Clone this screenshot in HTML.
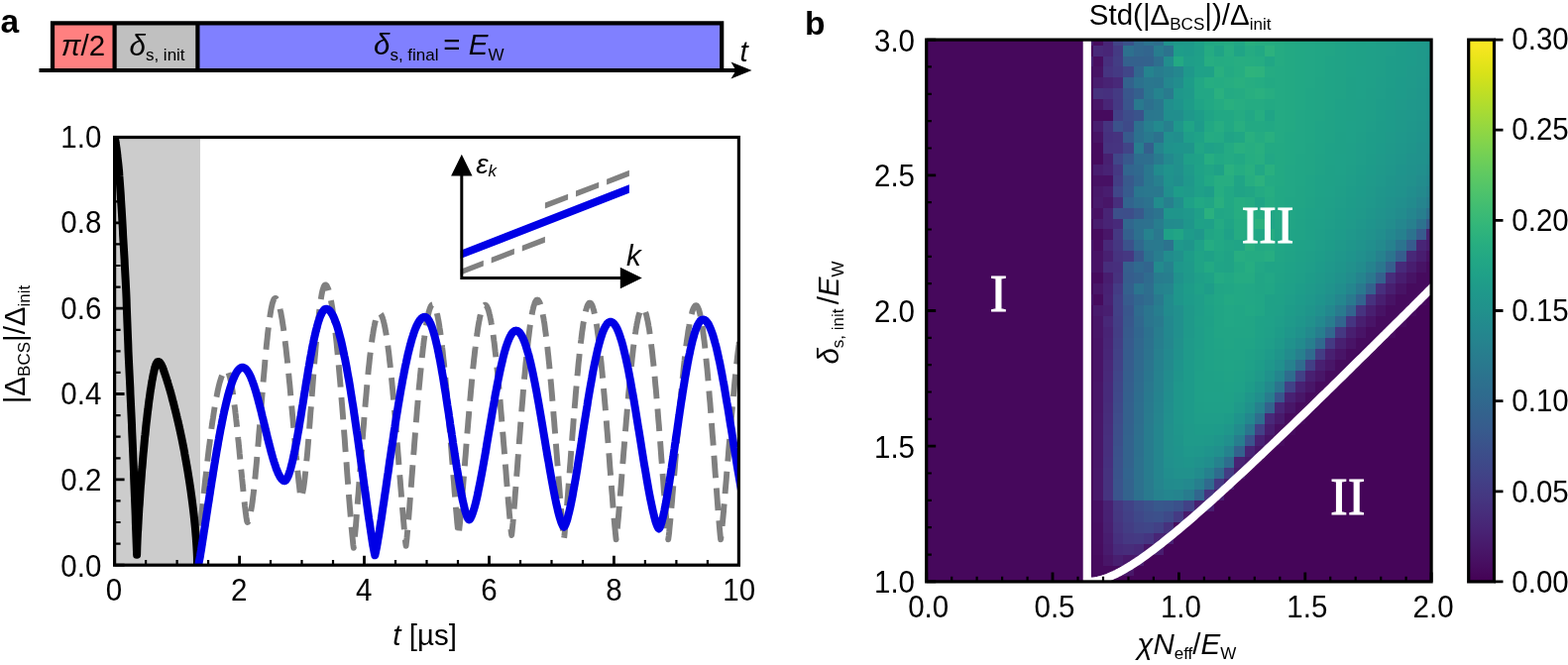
<!DOCTYPE html>
<html lang="en"><head><meta charset="utf-8"><title>Figure</title>
<style>html,body{margin:0;padding:0;background:#fff;}body{width:1582px;height:671px;overflow:hidden;}svg{display:block;}text{font-family:"Liberation Sans", "DejaVu Sans", sans-serif;fill:#000;}text.rom{font-family:'Liberation Serif', 'DejaVu Serif', serif;fill:#fff;}</style>
</head><body>
<svg width="1582" height="671" viewBox="0 0 1582 671" role="img" aria-label="Figure with panels a and b">
<rect x="0" y="0" width="1582" height="671" fill="#fff"/>
<g id="panel-a">
<text x="0.5" y="33.0" font-size="33.5" text-anchor="start" font-weight="bold">a</text>
<rect x="53" y="23.3" width="62.6" height="47.7" fill="#ff8080"/>
<rect x="115.6" y="23.3" width="83.8" height="47.7" fill="#c0c0c0"/>
<rect x="199.4" y="23.3" width="528.8" height="47.7" fill="#8080ff"/>
<path d="M39.5,71.0 H745 M53,71.0 V23.3 H728.2 V71.0 M115.6,23.3 V71.0 M199.4,23.3 V71.0" fill="none" stroke="#000" stroke-width="4.2" stroke-linejoin="miter"/>
<path d="M758.5,71.0 L737.5,62.4 L742.5,71.0 L737.5,79.6 Z" fill="#000"/>
<text x="84.0" y="55.5" font-size="29.5" text-anchor="middle"><tspan font-style="italic">π</tspan>/2</text>
<text x="130.5" y="55.5" font-size="29.5" text-anchor="start"><tspan font-style="italic">δ</tspan><tspan font-size="17" dy="5.3">s, init</tspan><tspan dy="-5.3" font-size="1">&#8203;</tspan></text>
<text x="377.0" y="55.3" font-size="29.5" text-anchor="start"><tspan font-style="italic">δ</tspan><tspan font-size="17" dy="5.3">s, final</tspan><tspan dy="-5.3" font-size="1">&#8203;</tspan><tspan dx="-3.6"> = </tspan><tspan dx="0.3" font-size="1">&#8203;</tspan><tspan font-style="italic">E</tspan><tspan font-size="17" dy="5.3">W</tspan><tspan dy="-5.3" font-size="1">&#8203;</tspan></text>
<text x="746.5" y="62.0" font-size="29.5" text-anchor="start" font-style="italic">t</text>
<rect x="115.6" y="138.5" width="86.4" height="431.7" fill="#cccccc"/>
<path d="M115.6,570.2 v-9.5 M115.6,570.2 h10.0 M241.6,570.2 v-9.5 M115.6,483.9 h10.0 M367.5,570.2 v-9.5 M115.6,397.5 h10.0 M493.5,570.2 v-9.5 M115.6,311.2 h10.0 M619.4,570.2 v-9.5 M115.6,224.8 h10.0 M745.4,570.2 v-9.5 M115.6,138.5 h10.0" stroke="#000" stroke-width="2.8" fill="none"/>
<path d="M147.1,570.2 v-5.2 M115.6,548.6 h6.0 M178.6,570.2 v-5.2 M115.6,527.0 h6.0 M210.1,570.2 v-5.2 M115.6,505.4 h6.0 M273.0,570.2 v-5.2 M115.6,462.3 h6.0 M304.5,570.2 v-5.2 M115.6,440.7 h6.0 M336.0,570.2 v-5.2 M115.6,419.1 h6.0 M399.0,570.2 v-5.2 M115.6,375.9 h6.0 M430.5,570.2 v-5.2 M115.6,354.4 h6.0 M462.0,570.2 v-5.2 M115.6,332.8 h6.0 M525.0,570.2 v-5.2 M115.6,289.6 h6.0 M556.5,570.2 v-5.2 M115.6,268.0 h6.0 M588.0,570.2 v-5.2 M115.6,246.4 h6.0 M650.9,570.2 v-5.2 M115.6,203.3 h6.0 M682.4,570.2 v-5.2 M115.6,181.7 h6.0 M713.9,570.2 v-5.2 M115.6,160.1 h6.0" stroke="#000" stroke-width="2.2" fill="none"/>
<clipPath id="clipa"><rect x="115.6" y="138.5" width="629.8" height="431.7"/></clipPath>
<g clip-path="url(#clipa)" fill="none" stroke-linejoin="round">
<path d="M197.5,570.2 L198.0,566.6 L198.5,562.5 L199.0,558.3 L199.5,553.8 L200.0,549.3 L200.6,544.7 L201.1,540.0 L201.6,535.3 L202.1,530.6 L202.6,525.8 L203.1,521.0 L203.6,516.2 L204.2,511.4 L204.7,506.7 L205.2,501.9 L205.7,497.2 L206.2,492.5 L206.7,487.8 L207.2,483.2 L207.8,478.6 L208.3,474.0 L208.8,469.5 L209.3,465.1 L209.8,460.7 L210.3,456.4 L210.8,452.2 L211.4,448.0 L211.9,443.9 L212.4,439.9 L212.9,436.0 L213.4,432.2 L213.9,428.5 L214.4,424.9 L215.0,421.4 L215.5,417.9 L216.0,414.6 L216.5,411.4 L217.0,408.3 L217.5,405.4 L218.0,402.5 L218.6,399.8 L219.1,397.2 L219.6,394.7 L220.1,392.4 L220.6,390.2 L221.1,388.1 L221.6,386.1 L222.2,384.3 L222.7,382.7 L223.2,381.1 L223.7,379.7 L224.2,378.5 L224.7,377.4 L225.2,376.4 L225.8,375.6 L226.3,375.0 L226.8,374.4 L227.3,374.1 L227.8,373.9 L228.3,373.8 L228.7,373.8 L229.0,374.0 L229.4,374.4 L229.7,374.9 L230.1,375.5 L230.5,376.2 L230.8,377.1 L231.2,378.1 L231.5,379.3 L231.9,380.5 L232.2,381.9 L232.6,383.5 L232.9,385.1 L233.3,386.9 L233.6,388.8 L234.0,390.8 L234.3,392.9 L234.7,395.1 L235.0,397.5 L235.4,399.9 L235.7,402.5 L236.1,405.1 L236.4,407.9 L236.8,410.7 L237.2,413.6 L237.5,416.6 L237.9,419.7 L238.2,422.8 L238.6,426.1 L238.9,429.4 L239.3,432.7 L239.6,436.1 L240.0,439.6 L240.3,443.1 L240.7,446.6 L241.0,450.2 L241.4,453.8 L241.7,457.5 L242.1,461.1 L242.4,464.8 L242.8,468.5 L243.1,472.1 L243.5,475.8 L243.9,479.4 L244.2,483.1 L244.6,486.7 L244.9,490.2 L245.3,493.7 L245.6,497.2 L246.0,500.6 L246.3,503.9 L246.7,507.1 L247.0,510.3 L247.4,513.3 L247.7,516.2 L248.1,518.9 L248.4,521.4 L248.8,523.7 L249.1,525.7 L249.5,527.0 L250.0,526.8 L250.4,526.2 L250.9,525.2 L251.4,523.9 L251.8,522.3 L252.3,520.4 L252.8,518.1 L253.2,515.6 L253.7,512.8 L254.2,509.7 L254.7,506.3 L255.1,502.7 L255.6,498.9 L256.1,494.9 L256.5,490.6 L257.0,486.1 L257.5,481.4 L257.9,476.6 L258.4,471.6 L258.9,466.4 L259.3,461.2 L259.8,455.8 L260.3,450.2 L260.8,444.6 L261.2,439.0 L261.7,433.2 L262.2,427.4 L262.6,421.6 L263.1,415.8 L263.6,410.0 L264.0,404.2 L264.5,398.4 L265.0,392.7 L265.4,387.0 L265.9,381.4 L266.4,375.9 L266.9,370.5 L267.3,365.2 L267.8,360.0 L268.3,355.0 L268.7,350.1 L269.2,345.4 L269.7,340.9 L270.1,336.6 L270.6,332.5 L271.1,328.6 L271.5,324.9 L272.0,321.5 L272.5,318.3 L273.0,315.3 L273.4,312.6 L273.9,310.2 L274.4,308.0 L274.8,306.2 L275.3,304.6 L275.8,303.3 L276.2,302.2 L276.7,301.5 L277.2,301.1 L277.6,300.9 L278.1,301.0 L278.5,301.2 L278.9,301.7 L279.4,302.3 L279.8,303.0 L280.2,304.0 L280.7,305.1 L281.1,306.4 L281.5,307.8 L282.0,309.4 L282.4,311.1 L282.8,313.1 L283.3,315.1 L283.7,317.4 L284.1,319.7 L284.6,322.3 L285.0,325.0 L285.4,327.8 L285.9,330.7 L286.3,333.8 L286.7,337.1 L287.2,340.4 L287.6,343.9 L288.0,347.5 L288.5,351.2 L288.9,355.0 L289.3,358.9 L289.8,363.0 L290.2,367.1 L290.6,371.3 L291.1,375.6 L291.5,380.0 L291.9,384.4 L292.4,388.9 L292.8,393.5 L293.2,398.2 L293.6,402.8 L294.1,407.6 L294.5,412.3 L294.9,417.1 L295.4,421.9 L295.8,426.7 L296.2,431.6 L296.7,436.4 L297.1,441.2 L297.5,446.0 L298.0,450.7 L298.4,455.4 L298.8,460.1 L299.3,464.7 L299.7,469.2 L300.1,473.7 L300.6,478.0 L301.0,482.2 L301.4,486.3 L301.9,490.2 L302.3,493.8 L302.7,497.2 L303.2,500.2 L303.6,502.4 L304.0,502.0 L304.4,501.0 L304.8,499.6 L305.2,497.8 L305.6,495.7 L306.1,493.2 L306.5,490.5 L306.9,487.5 L307.3,484.3 L307.7,480.8 L308.1,477.1 L308.5,473.2 L308.9,469.1 L309.3,464.9 L309.8,460.4 L310.2,455.8 L310.6,451.1 L311.0,446.3 L311.4,441.3 L311.8,436.3 L312.2,431.1 L312.6,425.9 L313.0,420.6 L313.4,415.3 L313.9,410.0 L314.3,404.6 L314.7,399.2 L315.1,393.8 L315.5,388.5 L315.9,383.2 L316.3,377.9 L316.7,372.6 L317.1,367.5 L317.5,362.4 L318.0,357.4 L318.4,352.5 L318.8,347.7 L319.2,343.0 L319.6,338.5 L320.0,334.1 L320.4,329.8 L320.8,325.7 L321.2,321.8 L321.7,318.1 L322.1,314.5 L322.5,311.1 L322.9,308.0 L323.3,305.0 L323.7,302.3 L324.1,299.7 L324.5,297.4 L324.9,295.4 L325.3,293.5 L325.8,291.9 L326.2,290.6 L326.6,289.4 L327.0,288.6 L327.4,287.9 L327.8,287.6 L328.2,287.4 L328.7,287.5 L329.2,287.9 L329.7,288.4 L330.1,289.2 L330.6,290.2 L331.1,291.4 L331.6,292.8 L332.0,294.4 L332.5,296.2 L333.0,298.3 L333.5,300.5 L333.9,303.0 L334.4,305.6 L334.9,308.5 L335.4,311.5 L335.8,314.7 L336.3,318.2 L336.8,321.8 L337.3,325.6 L337.8,329.5 L338.2,333.7 L338.7,338.0 L339.2,342.4 L339.7,347.1 L340.1,351.8 L340.6,356.7 L341.1,361.8 L341.6,367.0 L342.0,372.3 L342.5,377.8 L343.0,383.3 L343.5,389.0 L343.9,394.8 L344.4,400.6 L344.9,406.6 L345.4,412.6 L345.9,418.7 L346.3,424.9 L346.8,431.1 L347.3,437.4 L347.8,443.7 L348.2,450.0 L348.7,456.4 L349.2,462.7 L349.7,469.1 L350.1,475.4 L350.6,481.8 L351.1,488.1 L351.6,494.3 L352.0,500.5 L352.5,506.6 L353.0,512.6 L353.5,518.5 L354.0,524.3 L354.4,529.9 L354.9,535.3 L355.4,540.4 L355.9,545.2 L356.3,549.6 L356.8,552.9 L357.2,549.5 L357.7,545.2 L358.1,540.6 L358.5,535.7 L359.0,530.6 L359.4,525.4 L359.8,520.0 L360.3,514.6 L360.7,509.1 L361.1,503.5 L361.6,497.9 L362.0,492.2 L362.4,486.6 L362.9,480.9 L363.3,475.2 L363.7,469.5 L364.2,463.8 L364.6,458.1 L365.0,452.5 L365.5,446.9 L365.9,441.3 L366.3,435.8 L366.8,430.4 L367.2,425.0 L367.6,419.7 L368.1,414.4 L368.5,409.3 L368.9,404.2 L369.4,399.3 L369.8,394.4 L370.2,389.6 L370.7,385.0 L371.1,380.4 L371.5,376.0 L371.9,371.7 L372.4,367.6 L372.8,363.6 L373.2,359.7 L373.7,355.9 L374.1,352.4 L374.5,348.9 L375.0,345.6 L375.4,342.5 L375.8,339.5 L376.3,336.7 L376.7,334.1 L377.1,331.6 L377.6,329.3 L378.0,327.2 L378.4,325.3 L378.9,323.5 L379.3,321.9 L379.7,320.5 L380.2,319.3 L380.6,318.3 L381.0,317.4 L381.5,316.8 L381.9,316.3 L382.3,316.0 L382.8,315.9 L383.2,316.0 L383.7,316.3 L384.1,316.8 L384.5,317.4 L385.0,318.3 L385.4,319.3 L385.9,320.5 L386.3,321.9 L386.8,323.4 L387.2,325.2 L387.7,327.1 L388.1,329.2 L388.6,331.5 L389.0,333.9 L389.5,336.5 L389.9,339.3 L390.4,342.3 L390.8,345.4 L391.3,348.6 L391.7,352.0 L392.2,355.6 L392.6,359.3 L393.0,363.1 L393.5,367.1 L393.9,371.2 L394.4,375.5 L394.8,379.9 L395.3,384.3 L395.7,389.0 L396.2,393.7 L396.6,398.5 L397.1,403.4 L397.5,408.4 L398.0,413.5 L398.4,418.7 L398.9,424.0 L399.3,429.3 L399.8,434.7 L400.2,440.2 L400.6,445.7 L401.1,451.2 L401.5,456.8 L402.0,462.4 L402.4,468.1 L402.9,473.7 L403.3,479.4 L403.8,485.0 L404.2,490.6 L404.7,496.2 L405.1,501.8 L405.6,507.3 L406.0,512.8 L406.5,518.2 L406.9,523.5 L407.4,528.6 L407.8,533.7 L408.2,538.5 L408.7,543.1 L409.1,547.3 L409.6,550.8 L410.0,547.2 L410.5,542.8 L410.9,538.1 L411.4,533.0 L411.8,527.8 L412.3,522.5 L412.7,517.0 L413.2,511.4 L413.6,505.7 L414.1,500.0 L414.5,494.2 L415.0,488.4 L415.4,482.6 L415.9,476.7 L416.3,470.9 L416.8,465.0 L417.2,459.2 L417.7,453.4 L418.1,447.6 L418.6,441.8 L419.0,436.1 L419.5,430.5 L419.9,424.9 L420.4,419.3 L420.8,413.9 L421.3,408.5 L421.7,403.2 L422.2,398.0 L422.6,392.9 L423.1,387.9 L423.6,383.0 L424.0,378.2 L424.5,373.6 L424.9,369.0 L425.4,364.6 L425.8,360.4 L426.3,356.2 L426.7,352.2 L427.2,348.4 L427.6,344.7 L428.1,341.2 L428.5,337.8 L429.0,334.6 L429.4,331.5 L429.9,328.7 L430.3,326.0 L430.8,323.4 L431.2,321.1 L431.7,318.9 L432.1,316.9 L432.6,315.1 L433.0,313.5 L433.5,312.0 L433.9,310.8 L434.4,309.7 L434.8,308.8 L435.3,308.2 L435.7,307.7 L436.2,307.4 L436.6,307.3 L437.0,307.4 L437.5,307.7 L437.9,308.1 L438.3,308.8 L438.8,309.6 L439.2,310.6 L439.6,311.8 L440.1,313.2 L440.5,314.7 L440.9,316.5 L441.4,318.4 L441.8,320.5 L442.2,322.7 L442.7,325.1 L443.1,327.7 L443.5,330.5 L444.0,333.4 L444.4,336.4 L444.8,339.7 L445.3,343.1 L445.7,346.6 L446.1,350.3 L446.6,354.1 L447.0,358.0 L447.4,362.1 L447.9,366.3 L448.3,370.6 L448.7,375.1 L449.2,379.6 L449.6,384.3 L450.0,389.1 L450.5,394.0 L450.9,398.9 L451.3,404.0 L451.8,409.1 L452.2,414.4 L452.6,419.6 L453.1,425.0 L453.5,430.4 L453.9,435.9 L454.4,441.3 L454.8,446.9 L455.3,452.4 L455.7,458.0 L456.1,463.6 L456.6,469.2 L457.0,474.8 L457.4,480.4 L457.9,485.9 L458.3,491.5 L458.7,496.9 L459.2,502.4 L459.6,507.7 L460.0,512.9 L460.5,518.1 L460.9,523.0 L461.3,527.8 L461.8,532.4 L462.2,536.6 L462.6,540.0 L463.1,536.6 L463.5,532.4 L464.0,527.9 L464.4,523.1 L464.9,518.1 L465.3,513.0 L465.7,507.7 L466.2,502.4 L466.6,497.0 L467.1,491.6 L467.5,486.0 L468.0,480.5 L468.4,474.9 L468.9,469.4 L469.3,463.8 L469.8,458.2 L470.2,452.6 L470.6,447.1 L471.1,441.5 L471.5,436.0 L472.0,430.6 L472.4,425.2 L472.9,419.9 L473.3,414.6 L473.8,409.4 L474.2,404.3 L474.7,399.2 L475.1,394.2 L475.6,389.4 L476.0,384.6 L476.4,379.9 L476.9,375.4 L477.3,370.9 L477.8,366.6 L478.2,362.4 L478.7,358.3 L479.1,354.4 L479.6,350.6 L480.0,346.9 L480.5,343.4 L480.9,340.0 L481.4,336.8 L481.8,333.8 L482.2,330.9 L482.7,328.1 L483.1,325.5 L483.6,323.1 L484.0,320.9 L484.5,318.8 L484.9,316.9 L485.4,315.2 L485.8,313.6 L486.3,312.2 L486.7,311.0 L487.2,310.0 L487.6,309.2 L488.0,308.6 L488.5,308.1 L488.9,307.8 L489.4,307.7 L489.8,307.8 L490.3,308.1 L490.7,308.6 L491.2,309.2 L491.6,310.0 L492.1,311.0 L492.5,312.2 L493.0,313.6 L493.4,315.2 L493.8,316.9 L494.3,318.8 L494.7,320.9 L495.2,323.1 L495.6,325.5 L496.1,328.1 L496.5,330.9 L497.0,333.8 L497.4,336.8 L497.9,340.0 L498.3,343.4 L498.8,346.9 L499.2,350.6 L499.6,354.4 L500.1,358.3 L500.5,362.4 L501.0,366.6 L501.4,370.9 L501.9,375.4 L502.3,379.9 L502.8,384.6 L503.2,389.4 L503.7,394.2 L504.1,399.2 L504.6,404.3 L505.0,409.4 L505.4,414.6 L505.9,419.9 L506.3,425.2 L506.8,430.6 L507.2,436.0 L507.7,441.5 L508.1,447.1 L508.6,452.6 L509.0,458.2 L509.5,463.8 L509.9,469.4 L510.4,474.9 L510.8,480.5 L511.2,486.0 L511.7,491.6 L512.1,497.0 L512.6,502.4 L513.0,507.7 L513.5,513.0 L513.9,518.1 L514.4,523.1 L514.8,527.9 L515.3,532.4 L515.7,536.6 L516.2,540.0 L516.6,536.5 L517.0,532.2 L517.5,527.6 L517.9,522.7 L518.3,517.6 L518.7,512.4 L519.2,507.0 L519.6,501.6 L520.0,496.1 L520.5,490.5 L520.9,484.8 L521.3,479.2 L521.8,473.5 L522.2,467.8 L522.6,462.1 L523.1,456.4 L523.5,450.7 L523.9,445.0 L524.4,439.3 L524.8,433.7 L525.2,428.2 L525.7,422.6 L526.1,417.2 L526.5,411.8 L527.0,406.5 L527.4,401.2 L527.8,396.1 L528.3,391.0 L528.7,386.0 L529.1,381.1 L529.6,376.4 L530.0,371.7 L530.4,367.2 L530.9,362.8 L531.3,358.5 L531.7,354.3 L532.2,350.3 L532.6,346.4 L533.0,342.6 L533.5,339.0 L533.9,335.6 L534.3,332.3 L534.7,329.2 L535.2,326.2 L535.6,323.4 L536.0,320.7 L536.5,318.3 L536.9,316.0 L537.3,313.9 L537.8,311.9 L538.2,310.1 L538.6,308.6 L539.1,307.2 L539.5,305.9 L539.9,304.9 L540.4,304.1 L540.8,303.4 L541.2,302.9 L541.7,302.6 L542.1,302.5 L542.5,302.6 L543.0,302.9 L543.4,303.4 L543.9,304.1 L544.3,304.9 L544.8,306.0 L545.2,307.2 L545.7,308.7 L546.1,310.3 L546.6,312.1 L547.0,314.1 L547.5,316.2 L547.9,318.6 L548.4,321.1 L548.8,323.8 L549.3,326.6 L549.7,329.6 L550.1,332.8 L550.6,336.2 L551.0,339.7 L551.5,343.4 L551.9,347.2 L552.4,351.1 L552.8,355.2 L553.3,359.5 L553.7,363.8 L554.2,368.4 L554.6,373.0 L555.1,377.7 L555.5,382.6 L556.0,387.5 L556.4,392.6 L556.9,397.8 L557.3,403.0 L557.8,408.4 L558.2,413.8 L558.6,419.3 L559.1,424.8 L559.5,430.4 L560.0,436.1 L560.4,441.8 L560.9,447.6 L561.3,453.4 L561.8,459.2 L562.2,465.0 L562.7,470.8 L563.1,476.6 L563.6,482.4 L564.0,488.2 L564.5,493.9 L564.9,499.6 L565.4,505.2 L565.8,510.7 L566.2,516.2 L566.7,521.5 L567.1,526.7 L567.6,531.7 L568.0,536.4 L568.5,540.8 L568.9,544.3 L569.4,540.8 L569.8,536.5 L570.2,531.8 L570.7,526.9 L571.1,521.8 L571.5,516.5 L572.0,511.2 L572.4,505.7 L572.9,500.1 L573.3,494.5 L573.7,488.9 L574.2,483.2 L574.6,477.4 L575.0,471.7 L575.5,466.0 L575.9,460.2 L576.3,454.5 L576.8,448.8 L577.2,443.1 L577.6,437.5 L578.1,431.9 L578.5,426.3 L578.9,420.8 L579.4,415.4 L579.8,410.1 L580.3,404.8 L580.7,399.6 L581.1,394.5 L581.6,389.5 L582.0,384.6 L582.4,379.8 L582.9,375.1 L583.3,370.5 L583.7,366.1 L584.2,361.8 L584.6,357.6 L585.0,353.6 L585.5,349.6 L585.9,345.9 L586.4,342.3 L586.8,338.8 L587.2,335.5 L587.7,332.3 L588.1,329.3 L588.5,326.5 L589.0,323.9 L589.4,321.4 L589.8,319.1 L590.3,316.9 L590.7,315.0 L591.1,313.2 L591.6,311.6 L592.0,310.2 L592.5,309.0 L592.9,307.9 L593.3,307.1 L593.8,306.4 L594.2,305.9 L594.6,305.7 L595.1,305.6 L595.5,305.7 L596.0,305.9 L596.4,306.4 L596.8,307.1 L597.3,307.9 L597.7,309.0 L598.2,310.2 L598.6,311.6 L599.1,313.2 L599.5,315.0 L599.9,316.9 L600.4,319.1 L600.8,321.4 L601.3,323.9 L601.7,326.5 L602.2,329.3 L602.6,332.3 L603.0,335.5 L603.5,338.8 L603.9,342.3 L604.4,345.9 L604.8,349.6 L605.3,353.6 L605.7,357.6 L606.1,361.8 L606.6,366.1 L607.0,370.5 L607.5,375.1 L607.9,379.8 L608.4,384.6 L608.8,389.5 L609.2,394.5 L609.7,399.6 L610.1,404.8 L610.6,410.1 L611.0,415.4 L611.5,420.8 L611.9,426.3 L612.3,431.9 L612.8,437.5 L613.2,443.1 L613.7,448.8 L614.1,454.5 L614.6,460.2 L615.0,466.0 L615.4,471.7 L615.9,477.4 L616.3,483.2 L616.8,488.9 L617.2,494.5 L617.7,500.1 L618.1,505.7 L618.5,511.2 L619.0,516.5 L619.4,521.8 L619.9,526.9 L620.3,531.8 L620.8,536.5 L621.2,540.8 L621.6,544.3 L622.1,540.9 L622.5,536.7 L623.0,532.1 L623.4,527.3 L623.9,522.3 L624.3,517.2 L624.8,511.9 L625.2,506.6 L625.7,501.2 L626.1,495.7 L626.6,490.2 L627.0,484.6 L627.4,479.0 L627.9,473.4 L628.3,467.8 L628.8,462.2 L629.2,456.6 L629.7,451.0 L630.1,445.5 L630.6,440.0 L631.0,434.5 L631.5,429.1 L631.9,423.7 L632.4,418.4 L632.8,413.2 L633.2,408.1 L633.7,403.0 L634.1,398.0 L634.6,393.1 L635.0,388.4 L635.5,383.7 L635.9,379.1 L636.4,374.6 L636.8,370.3 L637.3,366.1 L637.7,362.0 L638.2,358.0 L638.6,354.2 L639.0,350.5 L639.5,347.0 L639.9,343.6 L640.4,340.4 L640.8,337.3 L641.3,334.4 L641.7,331.6 L642.2,329.0 L642.6,326.6 L643.1,324.4 L643.5,322.3 L643.9,320.4 L644.4,318.6 L644.8,317.1 L645.3,315.7 L645.7,314.5 L646.2,313.5 L646.6,312.7 L647.1,312.0 L647.5,311.6 L648.0,311.3 L648.4,311.2 L648.8,311.3 L649.3,311.6 L649.7,312.0 L650.1,312.7 L650.6,313.5 L651.0,314.5 L651.4,315.7 L651.9,317.1 L652.3,318.6 L652.7,320.4 L653.1,322.3 L653.6,324.4 L654.0,326.6 L654.4,329.0 L654.9,331.6 L655.3,334.4 L655.7,337.3 L656.2,340.4 L656.6,343.6 L657.0,347.0 L657.4,350.5 L657.9,354.2 L658.3,358.0 L658.7,362.0 L659.2,366.1 L659.6,370.3 L660.0,374.6 L660.5,379.1 L660.9,383.7 L661.3,388.4 L661.8,393.1 L662.2,398.0 L662.6,403.0 L663.0,408.1 L663.5,413.2 L663.9,418.4 L664.3,423.7 L664.8,429.1 L665.2,434.5 L665.6,440.0 L666.1,445.5 L666.5,451.0 L666.9,456.6 L667.3,462.2 L667.8,467.8 L668.2,473.4 L668.6,479.0 L669.1,484.6 L669.5,490.2 L669.9,495.7 L670.4,501.2 L670.8,506.6 L671.2,511.9 L671.7,517.2 L672.1,522.3 L672.5,527.3 L672.9,532.1 L673.4,536.7 L673.8,540.9 L674.2,544.3 L674.7,540.8 L675.2,536.6 L675.6,532.0 L676.1,527.1 L676.6,522.0 L677.0,516.8 L677.5,511.5 L678.0,506.1 L678.4,500.6 L678.9,495.1 L679.4,489.5 L679.8,483.8 L680.3,478.2 L680.8,472.5 L681.2,466.8 L681.7,461.1 L682.2,455.5 L682.6,449.8 L683.1,444.2 L683.6,438.6 L684.0,433.1 L684.5,427.6 L685.0,422.2 L685.4,416.8 L685.9,411.5 L686.4,406.3 L686.8,401.2 L687.3,396.1 L687.8,391.2 L688.2,386.3 L688.7,381.6 L689.2,377.0 L689.6,372.4 L690.1,368.0 L690.6,363.8 L691.0,359.6 L691.5,355.6 L692.0,351.8 L692.4,348.0 L692.9,344.4 L693.4,341.0 L693.9,337.7 L694.3,334.6 L694.8,331.7 L695.3,328.9 L695.7,326.3 L696.2,323.8 L696.7,321.5 L697.1,319.4 L697.6,317.5 L698.1,315.7 L698.5,314.1 L699.0,312.7 L699.5,311.5 L699.9,310.5 L700.4,309.7 L700.9,309.0 L701.3,308.5 L701.8,308.3 L702.3,308.2 L702.7,308.3 L703.1,308.5 L703.5,309.0 L703.9,309.7 L704.3,310.5 L704.7,311.5 L705.2,312.7 L705.6,314.1 L706.0,315.7 L706.4,317.5 L706.8,319.4 L707.2,321.5 L707.6,323.8 L708.1,326.3 L708.5,328.9 L708.9,331.7 L709.3,334.6 L709.7,337.7 L710.1,341.0 L710.6,344.4 L711.0,348.0 L711.4,351.8 L711.8,355.6 L712.2,359.6 L712.6,363.8 L713.0,368.0 L713.5,372.4 L713.9,377.0 L714.3,381.6 L714.7,386.3 L715.1,391.2 L715.5,396.1 L715.9,401.2 L716.4,406.3 L716.8,411.5 L717.2,416.8 L717.6,422.2 L718.0,427.6 L718.4,433.1 L718.8,438.6 L719.3,444.2 L719.7,449.8 L720.1,455.5 L720.5,461.1 L720.9,466.8 L721.3,472.5 L721.7,478.2 L722.2,483.8 L722.6,489.5 L723.0,495.1 L723.4,500.6 L723.8,506.1 L724.2,511.5 L724.6,516.8 L725.1,522.0 L725.5,527.1 L725.9,532.0 L726.3,536.6 L726.7,540.8 L727.1,544.3 L727.6,540.8 L728.1,536.5 L728.5,531.9 L729.0,527.0 L729.5,521.9 L730.0,516.7 L730.4,511.3 L730.9,505.9 L731.4,500.3 L731.8,494.8 L732.3,489.1 L732.8,483.5 L733.2,477.8 L733.7,472.1 L734.2,466.4 L734.7,460.7 L735.1,455.0 L735.6,449.3 L736.1,443.7 L736.5,438.1 L737.0,432.6 L737.5,427.1 L737.9,421.7 L738.4,416.3 L738.9,411.0 L739.3,405.8 L739.8,400.7 L740.3,395.7 L740.8,390.8 L741.2,386.0 L741.7,381.3 L742.2,376.7 L742.6,372.2 L743.1,367.8 L743.6,363.6 L744.0,359.6 L744.5,355.6 L745.0,351.8 L745.5,348.2 L745.9,344.7 L746.4,341.4 L746.9,338.2 L747.3,335.2 L747.8,332.3 L748.3,329.6 L748.7,327.1 L749.2,324.8 L749.7,322.7 L750.2,320.7" stroke="#808080" stroke-width="5.9" stroke-dasharray="22.5 10.3" stroke-dashoffset="-7"/>
<path d="M115.6,138.5 L115.9,139.6 L116.2,141.0 L116.5,142.5 L116.7,144.2 L117.0,146.0 L117.3,148.0 L117.6,150.1 L117.9,152.4 L118.2,154.7 L118.4,157.2 L118.7,159.7 L119.0,162.3 L119.3,165.0 L119.6,167.7 L119.9,170.8 L120.2,174.2 L120.4,177.8 L120.7,181.6 L121.0,185.6 L121.3,189.7 L121.6,193.9 L121.9,198.1 L122.1,202.4 L122.4,206.9 L122.7,211.6 L123.0,216.6 L123.3,221.6 L123.6,226.7 L123.9,231.9 L124.1,237.0 L124.4,242.1 L124.7,247.1 L125.0,252.0 L125.3,257.0 L125.6,262.0 L125.8,267.1 L126.1,272.3 L126.4,277.7 L126.7,283.3 L127.0,289.1 L127.3,295.3 L127.6,302.1 L127.8,309.4 L128.1,317.1 L128.4,325.0 L128.7,332.8 L129.0,340.4 L129.3,347.5 L129.5,354.2 L129.8,360.7 L130.1,366.9 L130.4,373.1 L130.7,379.1 L131.0,385.1 L131.3,391.2 L131.5,397.3 L131.8,403.5 L132.1,409.9 L132.4,416.2 L132.7,422.5 L133.0,428.9 L133.2,435.3 L133.5,441.8 L133.8,448.4 L134.1,455.2 L134.4,462.1 L134.7,469.1 L135.0,476.1 L135.2,483.3 L135.5,490.5 L135.8,497.9 L136.1,505.3 L136.4,512.8 L136.7,520.4 L136.9,528.1 L137.2,535.9 L137.5,543.8 L137.8,551.8 L138.1,559.8 L138.1,559.8 L138.3,552.7 L138.5,547.4 L138.7,542.6 L138.9,538.2 L139.2,534.1 L139.4,530.1 L139.6,526.3 L139.8,522.6 L140.0,519.0 L140.2,515.5 L140.4,512.1 L140.7,508.8 L140.9,505.6 L141.1,502.4 L141.3,499.3 L141.5,496.3 L141.7,493.3 L141.9,490.4 L142.2,487.5 L142.4,484.7 L142.6,481.9 L142.8,479.2 L143.0,476.5 L143.2,473.8 L143.5,471.2 L143.7,468.6 L143.9,466.1 L144.1,463.6 L144.3,461.2 L144.5,458.7 L144.7,456.4 L145.0,454.0 L145.2,451.7 L145.4,449.4 L145.6,447.2 L145.8,444.9 L146.0,442.7 L146.2,440.6 L146.5,438.5 L146.7,436.4 L146.9,434.3 L147.1,432.3 L147.3,430.2 L147.5,428.3 L147.7,426.3 L148.0,424.4 L148.2,422.5 L148.4,420.6 L148.6,418.8 L148.8,417.0 L149.0,415.2 L149.3,413.4 L149.5,411.7 L149.7,410.0 L149.9,408.3 L150.1,406.6 L150.3,405.0 L150.5,403.4 L150.8,401.8 L151.0,400.3 L151.2,398.8 L151.4,397.3 L151.6,395.8 L151.8,394.4 L152.0,393.0 L152.3,391.6 L152.5,390.2 L152.7,388.9 L152.9,387.6 L153.1,386.3 L153.3,385.1 L153.5,383.9 L153.8,382.7 L154.0,381.5 L154.2,380.4 L154.4,379.2 L154.6,378.2 L154.8,377.1 L155.1,376.1 L155.3,375.1 L155.5,374.2 L155.7,373.2 L155.9,372.3 L156.1,371.5 L156.3,370.7 L156.6,370.0 L156.8,369.3 L157.0,368.7 L157.2,368.1 L157.4,367.5 L157.6,367.1 L157.8,366.6 L158.1,366.3 L158.3,365.9 L158.5,365.6 L158.7,365.4 L158.9,365.2 L159.1,365.1 L159.3,365.0 L159.6,365.0 L159.8,365.0 L160.0,365.1 L160.2,365.1 L160.4,365.2 L160.6,365.3 L160.8,365.4 L160.9,365.6 L161.1,365.7 L161.3,365.9 L161.5,366.1 L161.7,366.4 L161.9,366.6 L162.1,366.9 L162.3,367.2 L162.5,367.5 L162.7,367.9 L162.9,368.3 L163.1,368.7 L163.3,369.1 L163.5,369.5 L163.7,370.0 L163.9,370.4 L164.1,371.0 L164.3,371.5 L164.5,372.0 L164.7,372.6 L164.9,373.1 L165.1,373.7 L165.3,374.2 L165.5,374.8 L165.7,375.4 L165.9,375.9 L166.1,376.5 L166.3,377.1 L166.5,377.7 L166.7,378.3 L166.9,378.9 L167.1,379.5 L167.3,380.1 L167.5,380.7 L167.7,381.3 L167.9,381.9 L168.1,382.5 L168.3,383.2 L168.5,383.8 L168.7,384.4 L168.9,385.1 L169.1,385.7 L169.3,386.4 L169.5,387.0 L169.7,387.7 L169.9,388.3 L170.1,389.0 L170.3,389.7 L170.5,390.3 L170.7,391.0 L170.9,391.7 L171.1,392.4 L171.3,393.0 L171.5,393.7 L171.7,394.4 L171.9,395.1 L172.1,395.8 L172.3,396.5 L172.5,397.2 L172.7,398.0 L172.9,398.7 L173.1,399.4 L173.3,400.1 L173.5,400.8 L173.6,401.6 L173.8,402.3 L174.0,403.1 L174.2,403.8 L174.4,404.5 L174.6,405.3 L174.8,406.1 L175.0,406.8 L175.2,407.6 L175.4,408.3 L175.6,409.1 L175.8,409.9 L176.0,410.7 L176.2,411.5 L176.4,412.3 L176.6,413.0 L176.8,413.8 L177.0,414.6 L177.2,415.5 L177.4,416.3 L177.6,417.1 L177.8,417.9 L178.0,418.7 L178.2,419.5 L178.4,420.4 L178.6,421.2 L178.8,422.1 L179.0,422.9 L179.2,423.8 L179.4,424.6 L179.6,425.5 L179.8,426.3 L180.0,427.2 L180.2,428.1 L180.4,429.0 L180.6,429.8 L180.8,430.7 L181.0,431.6 L181.2,432.5 L181.4,433.4 L181.6,434.3 L181.8,435.2 L182.0,436.2 L182.2,437.1 L182.4,438.0 L182.6,439.0 L182.8,439.9 L183.0,440.8 L183.2,441.8 L183.4,442.8 L183.6,443.7 L183.8,444.7 L184.0,445.7 L184.2,446.7 L184.4,447.6 L184.6,448.6 L184.8,449.6 L185.0,450.6 L185.2,451.7 L185.4,452.7 L185.6,453.7 L185.8,454.7 L186.0,455.8 L186.2,456.8 L186.3,457.9 L186.5,459.0 L186.7,460.0 L186.9,461.1 L187.1,462.2 L187.3,463.3 L187.5,464.4 L187.7,465.5 L187.9,466.6 L188.1,467.8 L188.3,468.9 L188.5,470.0 L188.7,471.2 L188.9,472.4 L189.1,473.5 L189.3,474.7 L189.5,475.9 L189.7,477.1 L189.9,478.4 L190.1,479.6 L190.3,480.8 L190.5,482.1 L190.7,483.3 L190.9,484.6 L191.1,485.9 L191.3,487.2 L191.5,488.5 L191.7,489.9 L191.9,491.2 L192.1,492.6 L192.3,493.9 L192.5,495.3 L192.7,496.8 L192.9,498.2 L193.1,499.6 L193.3,501.1 L193.5,502.6 L193.7,504.1 L193.9,505.6 L194.1,507.2 L194.3,508.8 L194.5,510.4 L194.7,512.0 L194.9,513.7 L195.1,515.4 L195.3,517.1 L195.5,518.8 L195.7,520.6 L195.9,522.5 L196.1,524.4 L196.3,526.3 L196.5,528.3 L196.7,530.3 L196.9,532.5 L197.1,534.6 L197.3,536.9 L197.5,539.3 L197.7,541.8 L197.9,544.4 L198.1,547.2 L198.3,550.2 L198.5,553.5 L198.7,557.3 L198.9,561.8 L199.0,570.2" stroke="#000" stroke-width="8" stroke-linecap="butt"/>
<path d="M200.2,570.2 L200.7,567.6 L201.3,564.5 L201.9,561.4 L202.4,558.1 L203.0,554.7 L203.5,551.3 L204.1,547.8 L204.6,544.3 L205.2,540.7 L205.7,537.2 L206.3,533.6 L206.9,529.9 L207.4,526.3 L208.0,522.7 L208.5,519.0 L209.1,515.4 L209.6,511.8 L210.2,508.1 L210.8,504.5 L211.3,500.9 L211.9,497.3 L212.4,493.7 L213.0,490.1 L213.5,486.5 L214.1,483.0 L214.7,479.5 L215.2,476.0 L215.8,472.5 L216.3,469.1 L216.9,465.7 L217.4,462.4 L218.0,459.0 L218.5,455.8 L219.1,452.5 L219.7,449.3 L220.2,446.1 L220.8,443.0 L221.3,440.0 L221.9,436.9 L222.4,434.0 L223.0,431.1 L223.6,428.2 L224.1,425.4 L224.7,422.6 L225.2,419.9 L225.8,417.3 L226.3,414.7 L226.9,412.2 L227.5,409.8 L228.0,407.4 L228.6,405.1 L229.1,402.8 L229.7,400.7 L230.2,398.5 L230.8,396.5 L231.4,394.5 L231.9,392.6 L232.5,390.8 L233.0,389.1 L233.6,387.4 L234.1,385.8 L234.7,384.3 L235.2,382.8 L235.8,381.5 L236.4,380.2 L236.9,379.0 L237.5,377.9 L238.0,376.8 L238.6,375.8 L239.1,375.0 L239.7,374.2 L240.3,373.5 L240.8,372.8 L241.4,372.3 L241.9,371.8 L242.5,371.4 L243.0,371.1 L243.6,370.9 L244.2,370.8 L244.7,370.8 L245.2,370.8 L245.8,370.9 L246.3,371.1 L246.8,371.4 L247.4,371.8 L247.9,372.2 L248.4,372.8 L248.9,373.4 L249.5,374.0 L250.0,374.8 L250.5,375.6 L251.1,376.6 L251.6,377.5 L252.1,378.6 L252.7,379.7 L253.2,380.9 L253.7,382.2 L254.2,383.5 L254.8,384.9 L255.3,386.4 L255.8,387.9 L256.4,389.5 L256.9,391.1 L257.4,392.8 L258.0,394.6 L258.5,396.4 L259.0,398.2 L259.5,400.1 L260.1,402.0 L260.6,404.0 L261.1,406.0 L261.7,408.0 L262.2,410.1 L262.7,412.2 L263.3,414.3 L263.8,416.4 L264.3,418.6 L264.8,420.7 L265.4,422.9 L265.9,425.1 L266.4,427.3 L267.0,429.5 L267.5,431.7 L268.0,433.9 L268.6,436.1 L269.1,438.3 L269.6,440.4 L270.1,442.6 L270.7,444.7 L271.2,446.8 L271.7,448.9 L272.3,451.0 L272.8,453.0 L273.3,455.0 L273.8,456.9 L274.4,458.9 L274.9,460.7 L275.4,462.6 L276.0,464.3 L276.5,466.1 L277.0,467.7 L277.6,469.3 L278.1,470.9 L278.6,472.4 L279.1,473.8 L279.7,475.1 L280.2,476.4 L280.7,477.6 L281.3,478.8 L281.8,479.8 L282.3,480.8 L282.9,481.7 L283.4,482.5 L283.9,483.2 L284.4,483.8 L285.0,484.3 L285.5,484.7 L286.0,485.0 L286.6,485.2 L287.1,485.3 L287.6,485.2 L288.1,484.8 L288.7,484.2 L289.2,483.4 L289.7,482.5 L290.2,481.4 L290.8,480.2 L291.3,478.9 L291.8,477.4 L292.3,475.8 L292.9,474.1 L293.4,472.2 L293.9,470.2 L294.4,468.2 L295.0,466.0 L295.5,463.7 L296.0,461.4 L296.5,458.9 L297.1,456.4 L297.6,453.8 L298.1,451.1 L298.6,448.3 L299.2,445.5 L299.7,442.6 L300.2,439.6 L300.7,436.6 L301.3,433.6 L301.8,430.5 L302.3,427.3 L302.8,424.2 L303.4,421.0 L303.9,417.7 L304.4,414.5 L304.9,411.2 L305.5,407.9 L306.0,404.6 L306.5,401.3 L307.0,398.0 L307.6,394.8 L308.1,391.5 L308.6,388.2 L309.1,385.0 L309.7,381.7 L310.2,378.6 L310.7,375.4 L311.2,372.3 L311.8,369.2 L312.3,366.1 L312.8,363.1 L313.3,360.2 L313.9,357.3 L314.4,354.5 L314.9,351.7 L315.4,349.0 L316.0,346.4 L316.5,343.9 L317.0,341.4 L317.6,339.0 L318.1,336.7 L318.6,334.5 L319.1,332.3 L319.7,330.3 L320.2,328.3 L320.7,326.5 L321.2,324.7 L321.8,323.1 L322.3,321.6 L322.8,320.1 L323.3,318.8 L323.9,317.6 L324.4,316.5 L324.9,315.5 L325.4,314.6 L326.0,313.8 L326.5,313.2 L327.0,312.6 L327.5,312.2 L328.1,311.9 L328.6,311.8 L329.1,311.7 L329.7,311.8 L330.3,311.9 L330.9,312.2 L331.6,312.6 L332.2,313.1 L332.8,313.7 L333.4,314.4 L334.0,315.2 L334.6,316.2 L335.3,317.2 L335.9,318.4 L336.5,319.6 L337.1,321.0 L337.7,322.5 L338.3,324.1 L338.9,325.8 L339.6,327.5 L340.2,329.4 L340.8,331.4 L341.4,333.5 L342.0,335.7 L342.6,338.0 L343.2,340.4 L343.9,342.8 L344.5,345.4 L345.1,348.1 L345.7,350.8 L346.3,353.7 L346.9,356.6 L347.5,359.6 L348.2,362.7 L348.8,365.9 L349.4,369.1 L350.0,372.5 L350.6,375.9 L351.2,379.4 L351.9,382.9 L352.5,386.5 L353.1,390.2 L353.7,394.0 L354.3,397.8 L354.9,401.7 L355.5,405.6 L356.2,409.6 L356.8,413.7 L357.4,417.8 L358.0,421.9 L358.6,426.1 L359.2,430.3 L359.8,434.6 L360.5,438.9 L361.1,443.2 L361.7,447.6 L362.3,452.0 L362.9,456.4 L363.5,460.8 L364.1,465.3 L364.8,469.8 L365.4,474.2 L366.0,478.7 L366.6,483.2 L367.2,487.7 L367.8,492.2 L368.5,496.6 L369.1,501.1 L369.7,505.5 L370.3,509.9 L370.9,514.3 L371.5,518.6 L372.1,522.9 L372.8,527.2 L373.4,531.4 L374.0,535.5 L374.6,539.5 L375.2,543.5 L375.8,547.3 L376.4,551.0 L377.1,554.5 L377.7,557.7 L378.3,560.3 L378.9,557.8 L379.5,554.7 L380.2,551.4 L380.8,547.9 L381.4,544.2 L382.1,540.4 L382.7,536.5 L383.3,532.6 L383.9,528.5 L384.6,524.4 L385.2,520.3 L385.8,516.1 L386.4,511.9 L387.1,507.6 L387.7,503.4 L388.3,499.1 L389.0,494.7 L389.6,490.4 L390.2,486.1 L390.8,481.7 L391.5,477.4 L392.1,473.1 L392.7,468.7 L393.3,464.4 L394.0,460.1 L394.6,455.9 L395.2,451.6 L395.9,447.4 L396.5,443.2 L397.1,439.0 L397.7,434.9 L398.4,430.8 L399.0,426.7 L399.6,422.7 L400.2,418.8 L400.9,414.8 L401.5,411.0 L402.1,407.2 L402.8,403.4 L403.4,399.7 L404.0,396.0 L404.6,392.5 L405.3,389.0 L405.9,385.5 L406.5,382.1 L407.2,378.8 L407.8,375.6 L408.4,372.4 L409.0,369.3 L409.7,366.3 L410.3,363.4 L410.9,360.6 L411.5,357.8 L412.2,355.1 L412.8,352.6 L413.4,350.1 L414.1,347.7 L414.7,345.3 L415.3,343.1 L415.9,341.0 L416.6,339.0 L417.2,337.0 L417.8,335.2 L418.4,333.5 L419.1,331.8 L419.7,330.3 L420.3,328.9 L421.0,327.5 L421.6,326.3 L422.2,325.2 L422.8,324.2 L423.5,323.3 L424.1,322.5 L424.7,321.8 L425.3,321.2 L426.0,320.7 L426.6,320.3 L427.2,320.0 L427.9,319.9 L428.5,319.8 L429.0,319.9 L429.6,320.1 L430.2,320.4 L430.7,320.8 L431.3,321.4 L431.8,322.0 L432.4,322.8 L433.0,323.7 L433.5,324.8 L434.1,325.9 L434.6,327.2 L435.2,328.6 L435.8,330.1 L436.3,331.7 L436.9,333.4 L437.4,335.3 L438.0,337.2 L438.6,339.3 L439.1,341.4 L439.7,343.7 L440.2,346.0 L440.8,348.4 L441.4,351.0 L441.9,353.6 L442.5,356.3 L443.0,359.1 L443.6,362.0 L444.2,365.0 L444.7,368.0 L445.3,371.1 L445.8,374.3 L446.4,377.6 L447.0,380.9 L447.5,384.2 L448.1,387.7 L448.6,391.1 L449.2,394.6 L449.8,398.2 L450.3,401.8 L450.9,405.5 L451.4,409.1 L452.0,412.8 L452.6,416.5 L453.1,420.3 L453.7,424.0 L454.2,427.8 L454.8,431.6 L455.4,435.3 L455.9,439.1 L456.5,442.9 L457.0,446.6 L457.6,450.3 L458.2,454.0 L458.7,457.7 L459.3,461.4 L459.8,465.0 L460.4,468.5 L460.9,472.1 L461.5,475.5 L462.1,478.9 L462.6,482.3 L463.2,485.6 L463.7,488.8 L464.3,491.9 L464.9,494.9 L465.4,497.9 L466.0,500.7 L466.5,503.5 L467.1,506.1 L467.7,508.6 L468.2,511.0 L468.8,513.3 L469.3,515.4 L469.9,517.3 L470.5,519.1 L471.0,520.7 L471.6,522.1 L472.1,523.2 L472.7,524.1 L473.3,524.5 L473.9,524.1 L474.4,523.4 L475.0,522.4 L475.6,521.1 L476.2,519.7 L476.8,518.1 L477.4,516.3 L478.0,514.4 L478.6,512.4 L479.2,510.2 L479.8,507.9 L480.4,505.5 L481.0,503.0 L481.6,500.3 L482.2,497.6 L482.7,494.8 L483.3,491.9 L483.9,489.0 L484.5,485.9 L485.1,482.8 L485.7,479.7 L486.3,476.5 L486.9,473.2 L487.5,469.9 L488.1,466.5 L488.7,463.1 L489.3,459.7 L489.9,456.3 L490.5,452.8 L491.0,449.3 L491.6,445.8 L492.2,442.3 L492.8,438.7 L493.4,435.2 L494.0,431.7 L494.6,428.2 L495.2,424.7 L495.8,421.2 L496.4,417.7 L497.0,414.3 L497.6,410.9 L498.2,407.5 L498.8,404.1 L499.3,400.8 L499.9,397.6 L500.5,394.4 L501.1,391.2 L501.7,388.1 L502.3,385.0 L502.9,382.0 L503.5,379.1 L504.1,376.2 L504.7,373.4 L505.3,370.7 L505.9,368.1 L506.5,365.5 L507.1,363.0 L507.6,360.7 L508.2,358.3 L508.8,356.1 L509.4,354.0 L510.0,352.0 L510.6,350.0 L511.2,348.2 L511.8,346.5 L512.4,344.9 L513.0,343.3 L513.6,341.9 L514.2,340.6 L514.8,339.4 L515.4,338.3 L515.9,337.3 L516.5,336.5 L517.1,335.7 L517.7,335.1 L518.3,334.6 L518.9,334.2 L519.5,333.9 L520.1,333.7 L520.7,333.6 L521.3,333.7 L521.9,333.9 L522.5,334.2 L523.1,334.6 L523.7,335.1 L524.3,335.7 L524.9,336.5 L525.5,337.3 L526.1,338.3 L526.7,339.4 L527.3,340.6 L527.9,341.9 L528.5,343.3 L529.1,344.8 L529.7,346.5 L530.3,348.2 L530.9,350.0 L531.5,352.0 L532.1,354.0 L532.7,356.1 L533.4,358.3 L534.0,360.7 L534.6,363.1 L535.2,365.5 L535.8,368.1 L536.4,370.8 L537.0,373.5 L537.6,376.3 L538.2,379.2 L538.8,382.2 L539.4,385.2 L540.0,388.3 L540.6,391.4 L541.2,394.6 L541.8,397.9 L542.4,401.2 L543.0,404.5 L543.6,407.9 L544.2,411.4 L544.8,414.9 L545.4,418.4 L546.0,421.9 L546.6,425.5 L547.2,429.0 L547.8,432.6 L548.4,436.3 L549.0,439.9 L549.6,443.5 L550.2,447.1 L550.8,450.8 L551.4,454.4 L552.0,458.0 L552.6,461.6 L553.3,465.1 L553.9,468.7 L554.5,472.2 L555.1,475.7 L555.7,479.1 L556.3,482.5 L556.9,485.8 L557.5,489.1 L558.1,492.3 L558.7,495.5 L559.3,498.6 L559.9,501.6 L560.5,504.5 L561.1,507.3 L561.7,510.1 L562.3,512.7 L562.9,515.3 L563.5,517.7 L564.1,519.9 L564.7,522.1 L565.3,524.1 L565.9,525.9 L566.5,527.6 L567.1,529.0 L567.7,530.3 L568.3,531.2 L568.9,531.7 L569.5,531.1 L570.1,530.1 L570.7,528.8 L571.3,527.3 L571.9,525.5 L572.5,523.5 L573.0,521.4 L573.6,519.1 L574.2,516.7 L574.8,514.1 L575.4,511.5 L576.0,508.7 L576.6,505.8 L577.2,502.8 L577.8,499.7 L578.3,496.6 L578.9,493.3 L579.5,490.0 L580.1,486.6 L580.7,483.2 L581.3,479.7 L581.9,476.1 L582.5,472.5 L583.0,468.9 L583.6,465.2 L584.2,461.5 L584.8,457.8 L585.4,454.0 L586.0,450.3 L586.6,446.5 L587.2,442.7 L587.7,438.9 L588.3,435.1 L588.9,431.4 L589.5,427.6 L590.1,423.8 L590.7,420.1 L591.3,416.4 L591.9,412.7 L592.5,409.1 L593.0,405.4 L593.6,401.9 L594.2,398.3 L594.8,394.8 L595.4,391.4 L596.0,388.0 L596.6,384.7 L597.2,381.4 L597.7,378.2 L598.3,375.1 L598.9,372.0 L599.5,369.0 L600.1,366.1 L600.7,363.3 L601.3,360.5 L601.9,357.8 L602.5,355.2 L603.0,352.8 L603.6,350.4 L604.2,348.1 L604.8,345.8 L605.4,343.7 L606.0,341.7 L606.6,339.8 L607.2,338.0 L607.7,336.4 L608.3,334.8 L608.9,333.3 L609.5,332.0 L610.1,330.7 L610.7,329.6 L611.3,328.6 L611.9,327.7 L612.4,326.9 L613.0,326.2 L613.6,325.7 L614.2,325.3 L614.8,325.0 L615.4,324.8 L616.0,324.7 L616.6,324.8 L617.2,325.0 L617.8,325.3 L618.4,325.7 L619.0,326.2 L619.6,326.9 L620.2,327.7 L620.9,328.6 L621.5,329.6 L622.1,330.7 L622.7,331.9 L623.3,333.3 L623.9,334.8 L624.5,336.3 L625.1,338.0 L625.7,339.8 L626.3,341.7 L627.0,343.7 L627.6,345.8 L628.2,348.0 L628.8,350.3 L629.4,352.7 L630.0,355.2 L630.6,357.8 L631.2,360.4 L631.8,363.2 L632.4,366.0 L633.1,369.0 L633.7,372.0 L634.3,375.0 L634.9,378.2 L635.5,381.4 L636.1,384.6 L636.7,388.0 L637.3,391.4 L637.9,394.8 L638.6,398.3 L639.2,401.9 L639.8,405.4 L640.4,409.1 L641.0,412.7 L641.6,416.4 L642.2,420.2 L642.8,423.9 L643.4,427.7 L644.0,431.5 L644.7,435.3 L645.3,439.1 L645.9,442.9 L646.5,446.7 L647.1,450.5 L647.7,454.3 L648.3,458.1 L648.9,461.8 L649.5,465.6 L650.1,469.3 L650.8,473.0 L651.4,476.6 L652.0,480.2 L652.6,483.8 L653.2,487.2 L653.8,490.7 L654.4,494.1 L655.0,497.4 L655.6,500.6 L656.2,503.7 L656.9,506.8 L657.5,509.7 L658.1,512.6 L658.7,515.3 L659.3,517.9 L659.9,520.4 L660.5,522.8 L661.1,525.0 L661.7,527.0 L662.3,528.8 L663.0,530.5 L663.6,531.8 L664.2,532.9 L664.8,533.5 L665.3,532.9 L665.9,531.8 L666.5,530.4 L667.0,528.7 L667.6,526.9 L668.1,524.8 L668.7,522.6 L669.2,520.2 L669.8,517.7 L670.4,515.0 L670.9,512.2 L671.5,509.3 L672.0,506.3 L672.6,503.3 L673.1,500.1 L673.7,496.8 L674.2,493.5 L674.8,490.1 L675.4,486.6 L675.9,483.0 L676.5,479.5 L677.0,475.8 L677.6,472.1 L678.1,468.4 L678.7,464.7 L679.3,460.9 L679.8,457.1 L680.4,453.3 L680.9,449.4 L681.5,445.6 L682.0,441.7 L682.6,437.9 L683.2,434.0 L683.7,430.2 L684.3,426.3 L684.8,422.5 L685.4,418.7 L685.9,415.0 L686.5,411.2 L687.0,407.5 L687.6,403.9 L688.2,400.3 L688.7,396.7 L689.3,393.1 L689.8,389.7 L690.4,386.2 L690.9,382.9 L691.5,379.6 L692.1,376.3 L692.6,373.2 L693.2,370.1 L693.7,367.0 L694.3,364.1 L694.8,361.2 L695.4,358.4 L696.0,355.8 L696.5,353.1 L697.1,350.6 L697.6,348.2 L698.2,345.9 L698.7,343.7 L699.3,341.5 L699.9,339.5 L700.4,337.6 L701.0,335.8 L701.5,334.1 L702.1,332.5 L702.6,331.0 L703.2,329.7 L703.7,328.4 L704.3,327.3 L704.9,326.3 L705.4,325.4 L706.0,324.6 L706.5,323.9 L707.1,323.4 L707.6,322.9 L708.2,322.6 L708.8,322.5 L709.3,322.4 L709.9,322.5 L710.5,322.7 L711.2,323.0 L711.8,323.4 L712.4,324.0 L713.0,324.6 L713.6,325.4 L714.2,326.4 L714.9,327.4 L715.5,328.6 L716.1,329.9 L716.7,331.3 L717.3,332.8 L717.9,334.4 L718.6,336.2 L719.2,338.0 L719.8,340.0 L720.4,342.1 L721.0,344.2 L721.6,346.5 L722.3,348.9 L722.9,351.4 L723.5,354.0 L724.1,356.6 L724.7,359.4 L725.3,362.2 L726.0,365.1 L726.6,368.2 L727.2,371.2 L727.8,374.4 L728.4,377.6 L729.0,380.9 L729.6,384.3 L730.3,387.7 L730.9,391.2 L731.5,394.8 L732.1,398.4 L732.7,402.0 L733.3,405.7 L734.0,409.4 L734.6,413.1 L735.2,416.9 L735.8,420.7 L736.4,424.6 L737.0,428.4 L737.7,432.3 L738.3,436.1 L738.9,440.0 L739.5,443.9 L740.1,447.7 L740.7,451.6 L741.4,455.4 L742.0,459.2 L742.6,463.0 L743.2,466.8 L743.8,470.5 L744.4,474.2 L745.1,477.9 L745.7,481.5 L746.3,485.0 L746.9,488.5 L747.5,491.9 L748.1,495.2 L748.8,498.5 L749.4,501.6 L750.0,504.7" stroke="#0000e6" stroke-width="8" stroke-linecap="butt"/>
</g>
<rect x="115.6" y="138.5" width="629.8" height="431.7" fill="none" stroke="#000" stroke-width="3.2"/>
<text transform="translate(114.9,606.4) scale(1,1.045)" font-size="29.5" text-anchor="middle">0</text>
<text transform="translate(102.3,581.5) scale(1,1.045)" font-size="29.5" text-anchor="end">0.0</text>
<text transform="translate(241.1,606.4) scale(1,1.045)" font-size="29.5" text-anchor="middle">2</text>
<text transform="translate(102.3,495.0) scale(1,1.045)" font-size="29.5" text-anchor="end">0.2</text>
<text transform="translate(367.2,606.4) scale(1,1.045)" font-size="29.5" text-anchor="middle">4</text>
<text transform="translate(102.3,408.4) scale(1,1.045)" font-size="29.5" text-anchor="end">0.4</text>
<text transform="translate(493.4,606.4) scale(1,1.045)" font-size="29.5" text-anchor="middle">6</text>
<text transform="translate(102.3,321.9) scale(1,1.045)" font-size="29.5" text-anchor="end">0.6</text>
<text transform="translate(619.5,606.4) scale(1,1.045)" font-size="29.5" text-anchor="middle">8</text>
<text transform="translate(102.3,235.3) scale(1,1.045)" font-size="29.5" text-anchor="end">0.8</text>
<text transform="translate(745.7,606.4) scale(1,1.045)" font-size="29.5" text-anchor="middle">10</text>
<text transform="translate(102.3,148.8) scale(1,1.045)" font-size="29.5" text-anchor="end">1.0</text>
<text x="428.6" y="651.3" font-size="29.5" text-anchor="middle"><tspan font-style="italic">t</tspan> [µs]</text>
<text transform="translate(24.8,347.5) rotate(-90)" font-size="29.5" text-anchor="middle">|<tspan>Δ</tspan><tspan font-size="17" dy="5.3">BCS</tspan><tspan dy="-5.3" font-size="1">&#8203;</tspan>|/<tspan>Δ</tspan><tspan font-size="17" dy="5.3">init</tspan><tspan dy="-5.3" font-size="1">&#8203;</tspan></text>
<g id="inset">
<g transform="translate(464.6,274.6) skewY(-21.06)"><path d="M0,0 H85.3" stroke="#808080" stroke-width="5.8" stroke-dasharray="23.2 7.9" fill="none"/></g>
<g transform="translate(549.9,207.5) skewY(-21.06)"><path d="M0,0 H85" stroke="#808080" stroke-width="5.8" stroke-dasharray="23.2 7.9" fill="none"/></g>
<g transform="translate(464.6,256.9) skewY(-21.3)"><path d="M0,0 H170.3" stroke="#0000e6" stroke-width="8.4" fill="none"/></g>
<path d="M465.8,176 V280.5 H627" fill="none" stroke="#000" stroke-width="3"/>
<path d="M465.8,155.7 L476.5,177.5 L455.1,177.5 Z M647.8,280.5 L625.8,269.8 L625.8,291.2 Z" fill="#000"/>
<text x="480.3" y="174.8" font-size="28" text-anchor="start"><tspan font-style="italic">ε</tspan><tspan font-style="italic" font-size="17" dy="3.2">k</tspan><tspan dy="-3.2" font-size="1">&#8203;</tspan></text>
<text x="632.0" y="268.0" font-size="29.5" text-anchor="start" font-style="italic">k</text>
</g>
</g>
<g id="panel-b">
<text x="812.0" y="34.7" font-size="33.5" text-anchor="start" font-weight="bold">b</text>
<g shape-rendering="crispEdges">
<rect x="934.7" y="40.1" width="509.4" height="546.8" fill="#450a5c"/>
<rect x="934.70" y="40.10" width="158.21" height="5.77" fill="#46085c"/>
<rect x="1092.61" y="40.10" width="10.49" height="5.77" fill="#482071"/>
<rect x="1102.80" y="40.10" width="10.49" height="5.77" fill="#470d60"/>
<rect x="1112.99" y="40.10" width="10.49" height="5.77" fill="#482576"/>
<rect x="1123.18" y="40.10" width="10.49" height="5.77" fill="#414487"/>
<rect x="1133.37" y="40.10" width="10.49" height="5.77" fill="#3b528b"/>
<rect x="1143.55" y="40.10" width="10.49" height="5.77" fill="#30698e"/>
<rect x="1153.74" y="40.10" width="10.49" height="5.77" fill="#2c738e"/>
<rect x="1163.93" y="40.10" width="10.49" height="5.77" fill="#2e6f8e"/>
<rect x="1174.12" y="40.10" width="10.49" height="5.77" fill="#20928c"/>
<rect x="1184.31" y="40.10" width="10.49" height="5.77" fill="#1f998a"/>
<rect x="1194.49" y="40.10" width="10.49" height="5.77" fill="#1f9a8a"/>
<rect x="1204.68" y="40.10" width="10.49" height="5.77" fill="#1fa188"/>
<rect x="1214.87" y="40.10" width="10.49" height="5.77" fill="#22a884"/>
<rect x="1225.06" y="40.10" width="10.49" height="5.77" fill="#23a983"/>
<rect x="1235.25" y="40.10" width="10.49" height="5.77" fill="#25ab82"/>
<rect x="1245.43" y="40.10" width="10.49" height="5.77" fill="#22a785"/>
<rect x="1255.62" y="40.10" width="10.49" height="5.77" fill="#29af7f"/>
<rect x="1265.81" y="40.10" width="10.49" height="5.77" fill="#27ad81"/>
<rect x="1276.00" y="40.10" width="10.49" height="5.77" fill="#26ad81"/>
<rect x="1286.19" y="40.10" width="10.49" height="5.77" fill="#25ab82"/>
<rect x="1296.37" y="40.10" width="10.49" height="5.77" fill="#23a983"/>
<rect x="1306.56" y="40.10" width="10.49" height="5.77" fill="#22a884"/>
<rect x="1316.75" y="40.10" width="10.49" height="5.77" fill="#22a785"/>
<rect x="1326.94" y="40.10" width="10.49" height="5.77" fill="#21a685"/>
<rect x="1337.13" y="40.10" width="10.49" height="5.77" fill="#21a585"/>
<rect x="1347.31" y="40.10" width="10.49" height="5.77" fill="#20a386"/>
<rect x="1357.50" y="40.10" width="10.49" height="5.77" fill="#1fa287"/>
<rect x="1367.69" y="40.10" width="10.49" height="5.77" fill="#1fa187"/>
<rect x="1377.88" y="40.10" width="10.49" height="5.77" fill="#1fa188"/>
<rect x="1388.07" y="40.10" width="10.49" height="5.77" fill="#1f9f88"/>
<rect x="1398.25" y="40.10" width="10.49" height="5.77" fill="#1f9e89"/>
<rect x="1408.44" y="40.10" width="10.49" height="5.77" fill="#1e9d89"/>
<rect x="1418.63" y="40.10" width="10.49" height="5.77" fill="#1e9b8a"/>
<rect x="1428.82" y="40.10" width="10.49" height="5.77" fill="#1f9a8a"/>
<rect x="1439.01" y="40.10" width="5.39" height="5.77" fill="#1f988b"/>
<rect x="934.70" y="45.57" width="158.21" height="11.24" fill="#46085c"/>
<rect x="1092.61" y="45.57" width="10.49" height="11.24" fill="#460b5e"/>
<rect x="1102.80" y="45.57" width="10.49" height="11.24" fill="#482979"/>
<rect x="1112.99" y="45.57" width="10.49" height="11.24" fill="#482677"/>
<rect x="1123.18" y="45.57" width="10.49" height="11.24" fill="#443a83"/>
<rect x="1133.37" y="45.57" width="10.49" height="11.24" fill="#2d708e"/>
<rect x="1143.55" y="45.57" width="10.49" height="11.24" fill="#31688e"/>
<rect x="1153.74" y="45.57" width="10.49" height="11.24" fill="#32658e"/>
<rect x="1163.93" y="45.57" width="10.49" height="11.24" fill="#287c8e"/>
<rect x="1174.12" y="45.57" width="10.49" height="11.24" fill="#2c738e"/>
<rect x="1184.31" y="45.57" width="10.49" height="11.24" fill="#1e9d89"/>
<rect x="1194.49" y="45.57" width="10.49" height="11.24" fill="#1e9b8a"/>
<rect x="1204.68" y="45.57" width="10.49" height="11.24" fill="#1f9f88"/>
<rect x="1214.87" y="45.57" width="10.49" height="11.24" fill="#25ab82"/>
<rect x="1225.06" y="45.57" width="10.49" height="11.24" fill="#20a386"/>
<rect x="1235.25" y="45.57" width="10.49" height="11.24" fill="#27ad81"/>
<rect x="1245.43" y="45.57" width="10.49" height="11.24" fill="#20a486"/>
<rect x="1255.62" y="45.57" width="10.49" height="11.24" fill="#25ab82"/>
<rect x="1265.81" y="45.57" width="10.49" height="11.24" fill="#22a884"/>
<rect x="1276.00" y="45.57" width="10.49" height="11.24" fill="#2cb17e"/>
<rect x="1286.19" y="45.57" width="10.49" height="11.24" fill="#25ab82"/>
<rect x="1296.37" y="45.57" width="10.49" height="11.24" fill="#23a983"/>
<rect x="1306.56" y="45.57" width="10.49" height="11.24" fill="#22a884"/>
<rect x="1316.75" y="45.57" width="10.49" height="11.24" fill="#22a785"/>
<rect x="1326.94" y="45.57" width="10.49" height="11.24" fill="#21a685"/>
<rect x="1337.13" y="45.57" width="10.49" height="11.24" fill="#21a585"/>
<rect x="1347.31" y="45.57" width="10.49" height="11.24" fill="#20a386"/>
<rect x="1357.50" y="45.57" width="10.49" height="11.24" fill="#1fa287"/>
<rect x="1367.69" y="45.57" width="10.49" height="11.24" fill="#1fa187"/>
<rect x="1377.88" y="45.57" width="10.49" height="11.24" fill="#1fa088"/>
<rect x="1388.07" y="45.57" width="10.49" height="11.24" fill="#1f9f88"/>
<rect x="1398.25" y="45.57" width="10.49" height="11.24" fill="#1f9e89"/>
<rect x="1408.44" y="45.57" width="10.49" height="11.24" fill="#1e9c89"/>
<rect x="1418.63" y="45.57" width="10.49" height="11.24" fill="#1e9b8a"/>
<rect x="1428.82" y="45.57" width="10.49" height="11.24" fill="#1f998a"/>
<rect x="1439.01" y="45.57" width="5.39" height="11.24" fill="#1f988b"/>
<rect x="934.70" y="56.50" width="158.21" height="11.24" fill="#46085c"/>
<rect x="1092.61" y="56.50" width="10.49" height="11.24" fill="#482173"/>
<rect x="1102.80" y="56.50" width="10.49" height="11.24" fill="#470e61"/>
<rect x="1112.99" y="56.50" width="10.49" height="11.24" fill="#472f7d"/>
<rect x="1123.18" y="56.50" width="10.49" height="11.24" fill="#433d84"/>
<rect x="1133.37" y="56.50" width="20.68" height="11.24" fill="#34618d"/>
<rect x="1153.74" y="56.50" width="10.49" height="11.24" fill="#33628d"/>
<rect x="1163.93" y="56.50" width="10.49" height="11.24" fill="#2e6e8e"/>
<rect x="1174.12" y="56.50" width="10.49" height="11.24" fill="#228d8d"/>
<rect x="1184.31" y="56.50" width="10.49" height="11.24" fill="#23a983"/>
<rect x="1194.49" y="56.50" width="10.49" height="11.24" fill="#1f9e89"/>
<rect x="1204.68" y="56.50" width="10.49" height="11.24" fill="#1fa088"/>
<rect x="1214.87" y="56.50" width="10.49" height="11.24" fill="#27ad81"/>
<rect x="1225.06" y="56.50" width="10.49" height="11.24" fill="#25ab82"/>
<rect x="1235.25" y="56.50" width="10.49" height="11.24" fill="#25ac82"/>
<rect x="1245.43" y="56.50" width="10.49" height="11.24" fill="#27ad81"/>
<rect x="1255.62" y="56.50" width="10.49" height="11.24" fill="#26ad81"/>
<rect x="1265.81" y="56.50" width="10.49" height="11.24" fill="#25ac82"/>
<rect x="1276.00" y="56.50" width="10.49" height="11.24" fill="#21a685"/>
<rect x="1286.19" y="56.50" width="10.49" height="11.24" fill="#25ab82"/>
<rect x="1296.37" y="56.50" width="10.49" height="11.24" fill="#23a983"/>
<rect x="1306.56" y="56.50" width="10.49" height="11.24" fill="#22a884"/>
<rect x="1316.75" y="56.50" width="10.49" height="11.24" fill="#22a785"/>
<rect x="1326.94" y="56.50" width="10.49" height="11.24" fill="#21a685"/>
<rect x="1337.13" y="56.50" width="10.49" height="11.24" fill="#20a486"/>
<rect x="1347.31" y="56.50" width="10.49" height="11.24" fill="#20a386"/>
<rect x="1357.50" y="56.50" width="10.49" height="11.24" fill="#1fa287"/>
<rect x="1367.69" y="56.50" width="10.49" height="11.24" fill="#1fa187"/>
<rect x="1377.88" y="56.50" width="10.49" height="11.24" fill="#1fa088"/>
<rect x="1388.07" y="56.50" width="10.49" height="11.24" fill="#1f9f88"/>
<rect x="1398.25" y="56.50" width="10.49" height="11.24" fill="#1e9d89"/>
<rect x="1408.44" y="56.50" width="10.49" height="11.24" fill="#1e9c89"/>
<rect x="1418.63" y="56.50" width="10.49" height="11.24" fill="#1e9b8a"/>
<rect x="1428.82" y="56.50" width="10.49" height="11.24" fill="#1f998a"/>
<rect x="1439.01" y="56.50" width="5.39" height="11.24" fill="#1f978b"/>
<rect x="934.70" y="67.44" width="158.21" height="11.24" fill="#46085c"/>
<rect x="1092.61" y="67.44" width="10.49" height="11.24" fill="#471063"/>
<rect x="1102.80" y="67.44" width="10.49" height="11.24" fill="#471365"/>
<rect x="1112.99" y="67.44" width="10.49" height="11.24" fill="#463480"/>
<rect x="1123.18" y="67.44" width="10.49" height="11.24" fill="#443a83"/>
<rect x="1133.37" y="67.44" width="10.49" height="11.24" fill="#404688"/>
<rect x="1143.55" y="67.44" width="10.49" height="11.24" fill="#31678e"/>
<rect x="1153.74" y="67.44" width="10.49" height="11.24" fill="#25838e"/>
<rect x="1163.93" y="67.44" width="10.49" height="11.24" fill="#287c8e"/>
<rect x="1174.12" y="67.44" width="10.49" height="11.24" fill="#26818e"/>
<rect x="1184.31" y="67.44" width="10.49" height="11.24" fill="#24878e"/>
<rect x="1194.49" y="67.44" width="10.49" height="11.24" fill="#1f988b"/>
<rect x="1204.68" y="67.44" width="10.49" height="11.24" fill="#1fa188"/>
<rect x="1214.87" y="67.44" width="10.49" height="11.24" fill="#1fa187"/>
<rect x="1225.06" y="67.44" width="10.49" height="11.24" fill="#29af7f"/>
<rect x="1235.25" y="67.44" width="10.49" height="11.24" fill="#24aa83"/>
<rect x="1245.43" y="67.44" width="10.49" height="11.24" fill="#26ad81"/>
<rect x="1255.62" y="67.44" width="10.49" height="11.24" fill="#2eb37c"/>
<rect x="1265.81" y="67.44" width="10.49" height="11.24" fill="#2db27d"/>
<rect x="1276.00" y="67.44" width="10.49" height="11.24" fill="#25ab82"/>
<rect x="1286.19" y="67.44" width="10.49" height="11.24" fill="#24aa83"/>
<rect x="1296.37" y="67.44" width="10.49" height="11.24" fill="#23a983"/>
<rect x="1306.56" y="67.44" width="10.49" height="11.24" fill="#22a884"/>
<rect x="1316.75" y="67.44" width="10.49" height="11.24" fill="#22a785"/>
<rect x="1326.94" y="67.44" width="10.49" height="11.24" fill="#21a685"/>
<rect x="1337.13" y="67.44" width="10.49" height="11.24" fill="#20a486"/>
<rect x="1347.31" y="67.44" width="10.49" height="11.24" fill="#20a386"/>
<rect x="1357.50" y="67.44" width="10.49" height="11.24" fill="#1fa287"/>
<rect x="1367.69" y="67.44" width="10.49" height="11.24" fill="#1fa188"/>
<rect x="1377.88" y="67.44" width="10.49" height="11.24" fill="#1fa088"/>
<rect x="1388.07" y="67.44" width="10.49" height="11.24" fill="#1f9f88"/>
<rect x="1398.25" y="67.44" width="10.49" height="11.24" fill="#1e9d89"/>
<rect x="1408.44" y="67.44" width="10.49" height="11.24" fill="#1e9c89"/>
<rect x="1418.63" y="67.44" width="10.49" height="11.24" fill="#1f9a8a"/>
<rect x="1428.82" y="67.44" width="10.49" height="11.24" fill="#1f998a"/>
<rect x="1439.01" y="67.44" width="5.39" height="11.24" fill="#1f978b"/>
<rect x="934.70" y="78.38" width="158.21" height="11.24" fill="#46085c"/>
<rect x="1092.61" y="78.38" width="10.49" height="11.24" fill="#470d60"/>
<rect x="1102.80" y="78.38" width="10.49" height="11.24" fill="#481d6f"/>
<rect x="1112.99" y="78.38" width="10.49" height="11.24" fill="#482374"/>
<rect x="1123.18" y="78.38" width="10.49" height="11.24" fill="#482979"/>
<rect x="1133.37" y="78.38" width="10.49" height="11.24" fill="#33628d"/>
<rect x="1143.55" y="78.38" width="10.49" height="11.24" fill="#2c718e"/>
<rect x="1153.74" y="78.38" width="10.49" height="11.24" fill="#2a778e"/>
<rect x="1163.93" y="78.38" width="10.49" height="11.24" fill="#2a768e"/>
<rect x="1174.12" y="78.38" width="10.49" height="11.24" fill="#24878e"/>
<rect x="1184.31" y="78.38" width="10.49" height="11.24" fill="#228d8d"/>
<rect x="1194.49" y="78.38" width="10.49" height="11.24" fill="#1e9c89"/>
<rect x="1204.68" y="78.38" width="10.49" height="11.24" fill="#22a785"/>
<rect x="1214.87" y="78.38" width="10.49" height="11.24" fill="#26ad81"/>
<rect x="1225.06" y="78.38" width="10.49" height="11.24" fill="#25ac82"/>
<rect x="1235.25" y="78.38" width="10.49" height="11.24" fill="#27ad81"/>
<rect x="1245.43" y="78.38" width="10.49" height="11.24" fill="#29af7f"/>
<rect x="1255.62" y="78.38" width="10.49" height="11.24" fill="#27ad81"/>
<rect x="1265.81" y="78.38" width="10.49" height="11.24" fill="#25ac82"/>
<rect x="1276.00" y="78.38" width="10.49" height="11.24" fill="#23a983"/>
<rect x="1286.19" y="78.38" width="10.49" height="11.24" fill="#24aa83"/>
<rect x="1296.37" y="78.38" width="10.49" height="11.24" fill="#23a983"/>
<rect x="1306.56" y="78.38" width="10.49" height="11.24" fill="#22a884"/>
<rect x="1316.75" y="78.38" width="10.49" height="11.24" fill="#22a785"/>
<rect x="1326.94" y="78.38" width="10.49" height="11.24" fill="#21a585"/>
<rect x="1337.13" y="78.38" width="10.49" height="11.24" fill="#20a486"/>
<rect x="1347.31" y="78.38" width="10.49" height="11.24" fill="#20a386"/>
<rect x="1357.50" y="78.38" width="10.49" height="11.24" fill="#1fa187"/>
<rect x="1367.69" y="78.38" width="10.49" height="11.24" fill="#1fa188"/>
<rect x="1377.88" y="78.38" width="10.49" height="11.24" fill="#1fa088"/>
<rect x="1388.07" y="78.38" width="10.49" height="11.24" fill="#1f9e89"/>
<rect x="1398.25" y="78.38" width="10.49" height="11.24" fill="#1e9d89"/>
<rect x="1408.44" y="78.38" width="10.49" height="11.24" fill="#1e9b8a"/>
<rect x="1418.63" y="78.38" width="10.49" height="11.24" fill="#1f9a8a"/>
<rect x="1428.82" y="78.38" width="10.49" height="11.24" fill="#1f988b"/>
<rect x="1439.01" y="78.38" width="5.39" height="11.24" fill="#1f968b"/>
<rect x="934.70" y="89.31" width="158.21" height="11.24" fill="#46085c"/>
<rect x="1092.61" y="89.31" width="10.49" height="11.24" fill="#460b5e"/>
<rect x="1102.80" y="89.31" width="10.49" height="11.24" fill="#46327e"/>
<rect x="1112.99" y="89.31" width="10.49" height="11.24" fill="#46307e"/>
<rect x="1123.18" y="89.31" width="10.49" height="11.24" fill="#443a83"/>
<rect x="1133.37" y="89.31" width="10.49" height="11.24" fill="#39568c"/>
<rect x="1143.55" y="89.31" width="10.49" height="11.24" fill="#34608d"/>
<rect x="1153.74" y="89.31" width="10.49" height="11.24" fill="#2a778e"/>
<rect x="1163.93" y="89.31" width="10.49" height="11.24" fill="#25838e"/>
<rect x="1174.12" y="89.31" width="10.49" height="11.24" fill="#297b8e"/>
<rect x="1184.31" y="89.31" width="10.49" height="11.24" fill="#1f978b"/>
<rect x="1194.49" y="89.31" width="10.49" height="11.24" fill="#1f9a8a"/>
<rect x="1204.68" y="89.31" width="20.68" height="11.24" fill="#22a785"/>
<rect x="1225.06" y="89.31" width="10.49" height="11.24" fill="#2ab07f"/>
<rect x="1235.25" y="89.31" width="10.49" height="11.24" fill="#24aa83"/>
<rect x="1245.43" y="89.31" width="10.49" height="11.24" fill="#25ab82"/>
<rect x="1255.62" y="89.31" width="10.49" height="11.24" fill="#28ae80"/>
<rect x="1265.81" y="89.31" width="10.49" height="11.24" fill="#2ab07f"/>
<rect x="1276.00" y="89.31" width="10.49" height="11.24" fill="#27ad81"/>
<rect x="1286.19" y="89.31" width="10.49" height="11.24" fill="#24aa83"/>
<rect x="1296.37" y="89.31" width="10.49" height="11.24" fill="#23a983"/>
<rect x="1306.56" y="89.31" width="10.49" height="11.24" fill="#22a884"/>
<rect x="1316.75" y="89.31" width="10.49" height="11.24" fill="#21a685"/>
<rect x="1326.94" y="89.31" width="10.49" height="11.24" fill="#21a585"/>
<rect x="1337.13" y="89.31" width="10.49" height="11.24" fill="#20a486"/>
<rect x="1347.31" y="89.31" width="10.49" height="11.24" fill="#20a386"/>
<rect x="1357.50" y="89.31" width="10.49" height="11.24" fill="#1fa187"/>
<rect x="1367.69" y="89.31" width="10.49" height="11.24" fill="#1fa188"/>
<rect x="1377.88" y="89.31" width="10.49" height="11.24" fill="#1f9f88"/>
<rect x="1388.07" y="89.31" width="10.49" height="11.24" fill="#1f9e89"/>
<rect x="1398.25" y="89.31" width="10.49" height="11.24" fill="#1e9c89"/>
<rect x="1408.44" y="89.31" width="10.49" height="11.24" fill="#1e9b8a"/>
<rect x="1418.63" y="89.31" width="10.49" height="11.24" fill="#1f998a"/>
<rect x="1428.82" y="89.31" width="10.49" height="11.24" fill="#1f978b"/>
<rect x="1439.01" y="89.31" width="5.39" height="11.24" fill="#1f958b"/>
<rect x="934.70" y="100.25" width="158.21" height="11.24" fill="#46085c"/>
<rect x="1092.61" y="100.25" width="10.49" height="11.24" fill="#460b5e"/>
<rect x="1102.80" y="100.25" width="10.49" height="11.24" fill="#481668"/>
<rect x="1112.99" y="100.25" width="10.49" height="11.24" fill="#482576"/>
<rect x="1123.18" y="100.25" width="10.49" height="11.24" fill="#443983"/>
<rect x="1133.37" y="100.25" width="10.49" height="11.24" fill="#3a548c"/>
<rect x="1143.55" y="100.25" width="10.49" height="11.24" fill="#29798e"/>
<rect x="1153.74" y="100.25" width="10.49" height="11.24" fill="#2d708e"/>
<rect x="1163.93" y="100.25" width="10.49" height="11.24" fill="#2a778e"/>
<rect x="1174.12" y="100.25" width="10.49" height="11.24" fill="#218f8d"/>
<rect x="1184.31" y="100.25" width="10.49" height="11.24" fill="#1f948c"/>
<rect x="1194.49" y="100.25" width="10.49" height="11.24" fill="#1e9c89"/>
<rect x="1204.68" y="100.25" width="10.49" height="11.24" fill="#20a486"/>
<rect x="1214.87" y="100.25" width="10.49" height="11.24" fill="#22a884"/>
<rect x="1225.06" y="100.25" width="10.49" height="11.24" fill="#25ab82"/>
<rect x="1235.25" y="100.25" width="10.49" height="11.24" fill="#29af7f"/>
<rect x="1245.43" y="100.25" width="10.49" height="11.24" fill="#27ad81"/>
<rect x="1255.62" y="100.25" width="20.68" height="11.24" fill="#25ab82"/>
<rect x="1276.00" y="100.25" width="10.49" height="11.24" fill="#23a983"/>
<rect x="1286.19" y="100.25" width="10.49" height="11.24" fill="#24aa83"/>
<rect x="1296.37" y="100.25" width="10.49" height="11.24" fill="#23a983"/>
<rect x="1306.56" y="100.25" width="10.49" height="11.24" fill="#22a884"/>
<rect x="1316.75" y="100.25" width="10.49" height="11.24" fill="#21a685"/>
<rect x="1326.94" y="100.25" width="10.49" height="11.24" fill="#21a585"/>
<rect x="1337.13" y="100.25" width="10.49" height="11.24" fill="#20a486"/>
<rect x="1347.31" y="100.25" width="10.49" height="11.24" fill="#1fa287"/>
<rect x="1357.50" y="100.25" width="10.49" height="11.24" fill="#1fa187"/>
<rect x="1367.69" y="100.25" width="10.49" height="11.24" fill="#1fa088"/>
<rect x="1377.88" y="100.25" width="10.49" height="11.24" fill="#1f9f88"/>
<rect x="1388.07" y="100.25" width="10.49" height="11.24" fill="#1e9d89"/>
<rect x="1398.25" y="100.25" width="10.49" height="11.24" fill="#1e9c89"/>
<rect x="1408.44" y="100.25" width="10.49" height="11.24" fill="#1f9a8a"/>
<rect x="1418.63" y="100.25" width="10.49" height="11.24" fill="#1f988b"/>
<rect x="1428.82" y="100.25" width="10.49" height="11.24" fill="#1f978b"/>
<rect x="1439.01" y="100.25" width="5.39" height="11.24" fill="#1f958b"/>
<rect x="934.70" y="111.18" width="158.21" height="11.24" fill="#46085c"/>
<rect x="1092.61" y="111.18" width="30.86" height="11.24" fill="#460b5e"/>
<rect x="1123.18" y="111.18" width="10.49" height="11.24" fill="#424086"/>
<rect x="1133.37" y="111.18" width="10.49" height="11.24" fill="#3d4d8a"/>
<rect x="1143.55" y="111.18" width="10.49" height="11.24" fill="#3a538b"/>
<rect x="1153.74" y="111.18" width="10.49" height="11.24" fill="#2a778e"/>
<rect x="1163.93" y="111.18" width="10.49" height="11.24" fill="#2a788e"/>
<rect x="1174.12" y="111.18" width="20.68" height="11.24" fill="#218e8d"/>
<rect x="1194.49" y="111.18" width="10.49" height="11.24" fill="#1f988b"/>
<rect x="1204.68" y="111.18" width="10.49" height="11.24" fill="#1e9d89"/>
<rect x="1214.87" y="111.18" width="10.49" height="11.24" fill="#20a486"/>
<rect x="1225.06" y="111.18" width="20.68" height="11.24" fill="#22a884"/>
<rect x="1245.43" y="111.18" width="10.49" height="11.24" fill="#25ab82"/>
<rect x="1255.62" y="111.18" width="10.49" height="11.24" fill="#22a785"/>
<rect x="1265.81" y="111.18" width="10.49" height="11.24" fill="#26ad81"/>
<rect x="1276.00" y="111.18" width="10.49" height="11.24" fill="#20a486"/>
<rect x="1286.19" y="111.18" width="10.49" height="11.24" fill="#24aa83"/>
<rect x="1296.37" y="111.18" width="10.49" height="11.24" fill="#23a983"/>
<rect x="1306.56" y="111.18" width="10.49" height="11.24" fill="#22a785"/>
<rect x="1316.75" y="111.18" width="10.49" height="11.24" fill="#21a685"/>
<rect x="1326.94" y="111.18" width="10.49" height="11.24" fill="#21a585"/>
<rect x="1337.13" y="111.18" width="10.49" height="11.24" fill="#20a386"/>
<rect x="1347.31" y="111.18" width="10.49" height="11.24" fill="#1fa287"/>
<rect x="1357.50" y="111.18" width="10.49" height="11.24" fill="#1fa187"/>
<rect x="1367.69" y="111.18" width="10.49" height="11.24" fill="#1fa088"/>
<rect x="1377.88" y="111.18" width="10.49" height="11.24" fill="#1f9f88"/>
<rect x="1388.07" y="111.18" width="10.49" height="11.24" fill="#1e9d89"/>
<rect x="1398.25" y="111.18" width="10.49" height="11.24" fill="#1e9b8a"/>
<rect x="1408.44" y="111.18" width="10.49" height="11.24" fill="#1f998a"/>
<rect x="1418.63" y="111.18" width="10.49" height="11.24" fill="#1f988b"/>
<rect x="1428.82" y="111.18" width="10.49" height="11.24" fill="#1f968b"/>
<rect x="1439.01" y="111.18" width="5.39" height="11.24" fill="#1f948c"/>
<rect x="934.70" y="122.12" width="158.21" height="11.24" fill="#46085c"/>
<rect x="1092.61" y="122.12" width="10.49" height="11.24" fill="#460b5e"/>
<rect x="1102.80" y="122.12" width="10.49" height="11.24" fill="#481d6f"/>
<rect x="1112.99" y="122.12" width="10.49" height="11.24" fill="#46337f"/>
<rect x="1123.18" y="122.12" width="10.49" height="11.24" fill="#3b528b"/>
<rect x="1133.37" y="122.12" width="10.49" height="11.24" fill="#3e4a89"/>
<rect x="1143.55" y="122.12" width="10.49" height="11.24" fill="#2d708e"/>
<rect x="1153.74" y="122.12" width="10.49" height="11.24" fill="#277f8e"/>
<rect x="1163.93" y="122.12" width="10.49" height="11.24" fill="#23898e"/>
<rect x="1174.12" y="122.12" width="10.49" height="11.24" fill="#27808e"/>
<rect x="1184.31" y="122.12" width="10.49" height="11.24" fill="#1f978b"/>
<rect x="1194.49" y="122.12" width="10.49" height="11.24" fill="#20a486"/>
<rect x="1204.68" y="122.12" width="10.49" height="11.24" fill="#1e9b8a"/>
<rect x="1214.87" y="122.12" width="10.49" height="11.24" fill="#22a884"/>
<rect x="1225.06" y="122.12" width="10.49" height="11.24" fill="#27ad81"/>
<rect x="1235.25" y="122.12" width="10.49" height="11.24" fill="#22a884"/>
<rect x="1245.43" y="122.12" width="10.49" height="11.24" fill="#28ae80"/>
<rect x="1255.62" y="122.12" width="20.68" height="11.24" fill="#23a983"/>
<rect x="1276.00" y="122.12" width="10.49" height="11.24" fill="#22a884"/>
<rect x="1286.19" y="122.12" width="10.49" height="11.24" fill="#24aa83"/>
<rect x="1296.37" y="122.12" width="10.49" height="11.24" fill="#23a983"/>
<rect x="1306.56" y="122.12" width="10.49" height="11.24" fill="#22a785"/>
<rect x="1316.75" y="122.12" width="10.49" height="11.24" fill="#21a685"/>
<rect x="1326.94" y="122.12" width="10.49" height="11.24" fill="#20a486"/>
<rect x="1337.13" y="122.12" width="10.49" height="11.24" fill="#20a386"/>
<rect x="1347.31" y="122.12" width="10.49" height="11.24" fill="#1fa287"/>
<rect x="1357.50" y="122.12" width="10.49" height="11.24" fill="#1fa188"/>
<rect x="1367.69" y="122.12" width="10.49" height="11.24" fill="#1fa088"/>
<rect x="1377.88" y="122.12" width="10.49" height="11.24" fill="#1f9e89"/>
<rect x="1388.07" y="122.12" width="10.49" height="11.24" fill="#1e9c89"/>
<rect x="1398.25" y="122.12" width="10.49" height="11.24" fill="#1e9b8a"/>
<rect x="1408.44" y="122.12" width="10.49" height="11.24" fill="#1f998a"/>
<rect x="1418.63" y="122.12" width="10.49" height="11.24" fill="#1f978b"/>
<rect x="1428.82" y="122.12" width="10.49" height="11.24" fill="#1f958b"/>
<rect x="1439.01" y="122.12" width="5.39" height="11.24" fill="#20928c"/>
<rect x="934.70" y="133.06" width="158.21" height="11.24" fill="#46085c"/>
<rect x="1092.61" y="133.06" width="10.49" height="11.24" fill="#460b5e"/>
<rect x="1102.80" y="133.06" width="10.49" height="11.24" fill="#471365"/>
<rect x="1112.99" y="133.06" width="10.49" height="11.24" fill="#46307e"/>
<rect x="1123.18" y="133.06" width="10.49" height="11.24" fill="#46337f"/>
<rect x="1133.37" y="133.06" width="10.49" height="11.24" fill="#375a8c"/>
<rect x="1143.55" y="133.06" width="10.49" height="11.24" fill="#2c718e"/>
<rect x="1153.74" y="133.06" width="10.49" height="11.24" fill="#29798e"/>
<rect x="1163.93" y="133.06" width="10.49" height="11.24" fill="#2c728e"/>
<rect x="1174.12" y="133.06" width="10.49" height="11.24" fill="#21908d"/>
<rect x="1184.31" y="133.06" width="10.49" height="11.24" fill="#218e8d"/>
<rect x="1194.49" y="133.06" width="10.49" height="11.24" fill="#1f9e89"/>
<rect x="1204.68" y="133.06" width="10.49" height="11.24" fill="#1fa287"/>
<rect x="1214.87" y="133.06" width="10.49" height="11.24" fill="#25ab82"/>
<rect x="1225.06" y="133.06" width="10.49" height="11.24" fill="#24aa83"/>
<rect x="1235.25" y="133.06" width="10.49" height="11.24" fill="#20a386"/>
<rect x="1245.43" y="133.06" width="10.49" height="11.24" fill="#21a685"/>
<rect x="1255.62" y="133.06" width="10.49" height="11.24" fill="#29af7f"/>
<rect x="1265.81" y="133.06" width="10.49" height="11.24" fill="#25ab82"/>
<rect x="1276.00" y="133.06" width="10.49" height="11.24" fill="#29af7f"/>
<rect x="1286.19" y="133.06" width="10.49" height="11.24" fill="#24aa83"/>
<rect x="1296.37" y="133.06" width="10.49" height="11.24" fill="#22a884"/>
<rect x="1306.56" y="133.06" width="10.49" height="11.24" fill="#22a785"/>
<rect x="1316.75" y="133.06" width="10.49" height="11.24" fill="#21a685"/>
<rect x="1326.94" y="133.06" width="10.49" height="11.24" fill="#20a486"/>
<rect x="1337.13" y="133.06" width="10.49" height="11.24" fill="#20a386"/>
<rect x="1347.31" y="133.06" width="10.49" height="11.24" fill="#1fa187"/>
<rect x="1357.50" y="133.06" width="10.49" height="11.24" fill="#1fa188"/>
<rect x="1367.69" y="133.06" width="10.49" height="11.24" fill="#1f9f88"/>
<rect x="1377.88" y="133.06" width="10.49" height="11.24" fill="#1e9d89"/>
<rect x="1388.07" y="133.06" width="10.49" height="11.24" fill="#1e9c89"/>
<rect x="1398.25" y="133.06" width="10.49" height="11.24" fill="#1f9a8a"/>
<rect x="1408.44" y="133.06" width="10.49" height="11.24" fill="#1f988b"/>
<rect x="1418.63" y="133.06" width="10.49" height="11.24" fill="#1f968b"/>
<rect x="1428.82" y="133.06" width="10.49" height="11.24" fill="#1f948c"/>
<rect x="1439.01" y="133.06" width="5.39" height="11.24" fill="#20928c"/>
<rect x="934.70" y="143.99" width="158.21" height="11.24" fill="#46085c"/>
<rect x="1092.61" y="143.99" width="10.49" height="11.24" fill="#470d60"/>
<rect x="1102.80" y="143.99" width="10.49" height="11.24" fill="#460b5e"/>
<rect x="1112.99" y="143.99" width="10.49" height="11.24" fill="#46337f"/>
<rect x="1123.18" y="143.99" width="10.49" height="11.24" fill="#463480"/>
<rect x="1133.37" y="143.99" width="10.49" height="11.24" fill="#414487"/>
<rect x="1143.55" y="143.99" width="10.49" height="11.24" fill="#287d8e"/>
<rect x="1153.74" y="143.99" width="10.49" height="11.24" fill="#34608d"/>
<rect x="1163.93" y="143.99" width="10.49" height="11.24" fill="#25858e"/>
<rect x="1174.12" y="143.99" width="10.49" height="11.24" fill="#20928c"/>
<rect x="1184.31" y="143.99" width="10.49" height="11.24" fill="#1f948c"/>
<rect x="1194.49" y="143.99" width="10.49" height="11.24" fill="#1f958b"/>
<rect x="1204.68" y="143.99" width="10.49" height="11.24" fill="#21a585"/>
<rect x="1214.87" y="143.99" width="10.49" height="11.24" fill="#1fa188"/>
<rect x="1225.06" y="143.99" width="10.49" height="11.24" fill="#20a386"/>
<rect x="1235.25" y="143.99" width="10.49" height="11.24" fill="#24aa83"/>
<rect x="1245.43" y="143.99" width="10.49" height="11.24" fill="#29af7f"/>
<rect x="1255.62" y="143.99" width="10.49" height="11.24" fill="#27ad81"/>
<rect x="1265.81" y="143.99" width="10.49" height="11.24" fill="#29af7f"/>
<rect x="1276.00" y="143.99" width="20.68" height="11.24" fill="#23a983"/>
<rect x="1296.37" y="143.99" width="10.49" height="11.24" fill="#22a884"/>
<rect x="1306.56" y="143.99" width="10.49" height="11.24" fill="#22a785"/>
<rect x="1316.75" y="143.99" width="10.49" height="11.24" fill="#21a585"/>
<rect x="1326.94" y="143.99" width="10.49" height="11.24" fill="#20a486"/>
<rect x="1337.13" y="143.99" width="10.49" height="11.24" fill="#1fa287"/>
<rect x="1347.31" y="143.99" width="10.49" height="11.24" fill="#1fa187"/>
<rect x="1357.50" y="143.99" width="10.49" height="11.24" fill="#1fa088"/>
<rect x="1367.69" y="143.99" width="10.49" height="11.24" fill="#1f9e89"/>
<rect x="1377.88" y="143.99" width="10.49" height="11.24" fill="#1e9d89"/>
<rect x="1388.07" y="143.99" width="10.49" height="11.24" fill="#1e9b8a"/>
<rect x="1398.25" y="143.99" width="10.49" height="11.24" fill="#1f998a"/>
<rect x="1408.44" y="143.99" width="10.49" height="11.24" fill="#1f978b"/>
<rect x="1418.63" y="143.99" width="10.49" height="11.24" fill="#1f958b"/>
<rect x="1428.82" y="143.99" width="10.49" height="11.24" fill="#20928c"/>
<rect x="1439.01" y="143.99" width="5.39" height="11.24" fill="#21918c"/>
<rect x="934.70" y="154.93" width="158.21" height="11.24" fill="#46085c"/>
<rect x="1092.61" y="154.93" width="20.68" height="11.24" fill="#460b5e"/>
<rect x="1112.99" y="154.93" width="10.49" height="11.24" fill="#482071"/>
<rect x="1123.18" y="154.93" width="10.49" height="11.24" fill="#404688"/>
<rect x="1133.37" y="154.93" width="10.49" height="11.24" fill="#38588c"/>
<rect x="1143.55" y="154.93" width="10.49" height="11.24" fill="#2e6d8e"/>
<rect x="1153.74" y="154.93" width="10.49" height="11.24" fill="#2e6e8e"/>
<rect x="1163.93" y="154.93" width="10.49" height="11.24" fill="#297a8e"/>
<rect x="1174.12" y="154.93" width="10.49" height="11.24" fill="#23898e"/>
<rect x="1184.31" y="154.93" width="10.49" height="11.24" fill="#21918c"/>
<rect x="1194.49" y="154.93" width="10.49" height="11.24" fill="#1f9f88"/>
<rect x="1204.68" y="154.93" width="10.49" height="11.24" fill="#1fa187"/>
<rect x="1214.87" y="154.93" width="10.49" height="11.24" fill="#26ad81"/>
<rect x="1225.06" y="154.93" width="10.49" height="11.24" fill="#22a884"/>
<rect x="1235.25" y="154.93" width="10.49" height="11.24" fill="#24aa83"/>
<rect x="1245.43" y="154.93" width="10.49" height="11.24" fill="#22a884"/>
<rect x="1255.62" y="154.93" width="10.49" height="11.24" fill="#26ad81"/>
<rect x="1265.81" y="154.93" width="10.49" height="11.24" fill="#28ae80"/>
<rect x="1276.00" y="154.93" width="10.49" height="11.24" fill="#22a785"/>
<rect x="1286.19" y="154.93" width="10.49" height="11.24" fill="#23a983"/>
<rect x="1296.37" y="154.93" width="10.49" height="11.24" fill="#22a884"/>
<rect x="1306.56" y="154.93" width="10.49" height="11.24" fill="#21a685"/>
<rect x="1316.75" y="154.93" width="10.49" height="11.24" fill="#21a585"/>
<rect x="1326.94" y="154.93" width="10.49" height="11.24" fill="#20a386"/>
<rect x="1337.13" y="154.93" width="10.49" height="11.24" fill="#1fa287"/>
<rect x="1347.31" y="154.93" width="10.49" height="11.24" fill="#1fa188"/>
<rect x="1357.50" y="154.93" width="10.49" height="11.24" fill="#1fa088"/>
<rect x="1367.69" y="154.93" width="10.49" height="11.24" fill="#1f9e89"/>
<rect x="1377.88" y="154.93" width="10.49" height="11.24" fill="#1e9c89"/>
<rect x="1388.07" y="154.93" width="10.49" height="11.24" fill="#1f9a8a"/>
<rect x="1398.25" y="154.93" width="10.49" height="11.24" fill="#1f988b"/>
<rect x="1408.44" y="154.93" width="10.49" height="11.24" fill="#1f968b"/>
<rect x="1418.63" y="154.93" width="10.49" height="11.24" fill="#20938c"/>
<rect x="1428.82" y="154.93" width="10.49" height="11.24" fill="#20928c"/>
<rect x="1439.01" y="154.93" width="5.39" height="11.24" fill="#218f8d"/>
<rect x="934.70" y="165.86" width="158.21" height="11.24" fill="#46085c"/>
<rect x="1092.61" y="165.86" width="10.49" height="11.24" fill="#460b5e"/>
<rect x="1102.80" y="165.86" width="10.49" height="11.24" fill="#481d6f"/>
<rect x="1112.99" y="165.86" width="10.49" height="11.24" fill="#482374"/>
<rect x="1123.18" y="165.86" width="10.49" height="11.24" fill="#453882"/>
<rect x="1133.37" y="165.86" width="10.49" height="11.24" fill="#32658e"/>
<rect x="1143.55" y="165.86" width="10.49" height="11.24" fill="#30698e"/>
<rect x="1153.74" y="165.86" width="10.49" height="11.24" fill="#2a778e"/>
<rect x="1163.93" y="165.86" width="10.49" height="11.24" fill="#228b8d"/>
<rect x="1174.12" y="165.86" width="10.49" height="11.24" fill="#20938c"/>
<rect x="1184.31" y="165.86" width="10.49" height="11.24" fill="#21908d"/>
<rect x="1194.49" y="165.86" width="10.49" height="11.24" fill="#1f9a8a"/>
<rect x="1204.68" y="165.86" width="10.49" height="11.24" fill="#1fa287"/>
<rect x="1214.87" y="165.86" width="10.49" height="11.24" fill="#21a585"/>
<rect x="1225.06" y="165.86" width="10.49" height="11.24" fill="#1fa187"/>
<rect x="1235.25" y="165.86" width="10.49" height="11.24" fill="#2ab07f"/>
<rect x="1245.43" y="165.86" width="10.49" height="11.24" fill="#25ac82"/>
<rect x="1255.62" y="165.86" width="10.49" height="11.24" fill="#29af7f"/>
<rect x="1265.81" y="165.86" width="10.49" height="11.24" fill="#22a785"/>
<rect x="1276.00" y="165.86" width="10.49" height="11.24" fill="#29af7f"/>
<rect x="1286.19" y="165.86" width="10.49" height="11.24" fill="#23a983"/>
<rect x="1296.37" y="165.86" width="10.49" height="11.24" fill="#22a785"/>
<rect x="1306.56" y="165.86" width="10.49" height="11.24" fill="#21a685"/>
<rect x="1316.75" y="165.86" width="10.49" height="11.24" fill="#21a585"/>
<rect x="1326.94" y="165.86" width="10.49" height="11.24" fill="#20a386"/>
<rect x="1337.13" y="165.86" width="10.49" height="11.24" fill="#1fa187"/>
<rect x="1347.31" y="165.86" width="10.49" height="11.24" fill="#1fa188"/>
<rect x="1357.50" y="165.86" width="10.49" height="11.24" fill="#1f9f88"/>
<rect x="1367.69" y="165.86" width="10.49" height="11.24" fill="#1e9d89"/>
<rect x="1377.88" y="165.86" width="10.49" height="11.24" fill="#1e9b8a"/>
<rect x="1388.07" y="165.86" width="10.49" height="11.24" fill="#1f998a"/>
<rect x="1398.25" y="165.86" width="10.49" height="11.24" fill="#1f978b"/>
<rect x="1408.44" y="165.86" width="10.49" height="11.24" fill="#1f948c"/>
<rect x="1418.63" y="165.86" width="10.49" height="11.24" fill="#20928c"/>
<rect x="1428.82" y="165.86" width="10.49" height="11.24" fill="#21908d"/>
<rect x="1439.01" y="165.86" width="5.39" height="11.24" fill="#228c8d"/>
<rect x="934.70" y="176.80" width="158.21" height="11.24" fill="#46085c"/>
<rect x="1092.61" y="176.80" width="10.49" height="11.24" fill="#460b5e"/>
<rect x="1102.80" y="176.80" width="20.68" height="11.24" fill="#471164"/>
<rect x="1123.18" y="176.80" width="10.49" height="11.24" fill="#433d84"/>
<rect x="1133.37" y="176.80" width="10.49" height="11.24" fill="#38598c"/>
<rect x="1143.55" y="176.80" width="10.49" height="11.24" fill="#31668e"/>
<rect x="1153.74" y="176.80" width="10.49" height="11.24" fill="#2a778e"/>
<rect x="1163.93" y="176.80" width="10.49" height="11.24" fill="#27808e"/>
<rect x="1174.12" y="176.80" width="10.49" height="11.24" fill="#20928c"/>
<rect x="1184.31" y="176.80" width="10.49" height="11.24" fill="#218e8d"/>
<rect x="1194.49" y="176.80" width="10.49" height="11.24" fill="#1f988b"/>
<rect x="1204.68" y="176.80" width="10.49" height="11.24" fill="#1fa188"/>
<rect x="1214.87" y="176.80" width="10.49" height="11.24" fill="#22a884"/>
<rect x="1225.06" y="176.80" width="20.68" height="11.24" fill="#27ad81"/>
<rect x="1245.43" y="176.80" width="10.49" height="11.24" fill="#20a486"/>
<rect x="1255.62" y="176.80" width="10.49" height="11.24" fill="#27ad81"/>
<rect x="1265.81" y="176.80" width="10.49" height="11.24" fill="#2cb17e"/>
<rect x="1276.00" y="176.80" width="10.49" height="11.24" fill="#24aa83"/>
<rect x="1286.19" y="176.80" width="10.49" height="11.24" fill="#23a983"/>
<rect x="1296.37" y="176.80" width="10.49" height="11.24" fill="#22a785"/>
<rect x="1306.56" y="176.80" width="10.49" height="11.24" fill="#21a685"/>
<rect x="1316.75" y="176.80" width="10.49" height="11.24" fill="#20a486"/>
<rect x="1326.94" y="176.80" width="10.49" height="11.24" fill="#1fa287"/>
<rect x="1337.13" y="176.80" width="10.49" height="11.24" fill="#1fa187"/>
<rect x="1347.31" y="176.80" width="10.49" height="11.24" fill="#1fa088"/>
<rect x="1357.50" y="176.80" width="10.49" height="11.24" fill="#1f9e89"/>
<rect x="1367.69" y="176.80" width="10.49" height="11.24" fill="#1e9c89"/>
<rect x="1377.88" y="176.80" width="10.49" height="11.24" fill="#1f9a8a"/>
<rect x="1388.07" y="176.80" width="10.49" height="11.24" fill="#1f988b"/>
<rect x="1398.25" y="176.80" width="10.49" height="11.24" fill="#1f958b"/>
<rect x="1408.44" y="176.80" width="10.49" height="11.24" fill="#20938c"/>
<rect x="1418.63" y="176.80" width="10.49" height="11.24" fill="#21918c"/>
<rect x="1428.82" y="176.80" width="10.49" height="11.24" fill="#228d8d"/>
<rect x="1439.01" y="176.80" width="5.39" height="11.24" fill="#23898e"/>
<rect x="934.70" y="187.74" width="158.21" height="11.24" fill="#46085c"/>
<rect x="1092.61" y="187.74" width="10.49" height="11.24" fill="#460b5e"/>
<rect x="1102.80" y="187.74" width="10.49" height="11.24" fill="#48186a"/>
<rect x="1112.99" y="187.74" width="10.49" height="11.24" fill="#481d6f"/>
<rect x="1123.18" y="187.74" width="10.49" height="11.24" fill="#404688"/>
<rect x="1133.37" y="187.74" width="10.49" height="11.24" fill="#375b8d"/>
<rect x="1143.55" y="187.74" width="10.49" height="11.24" fill="#2a768e"/>
<rect x="1153.74" y="187.74" width="20.68" height="11.24" fill="#2a788e"/>
<rect x="1174.12" y="187.74" width="10.49" height="11.24" fill="#218f8d"/>
<rect x="1184.31" y="187.74" width="10.49" height="11.24" fill="#1e9c89"/>
<rect x="1194.49" y="187.74" width="10.49" height="11.24" fill="#1f9a8a"/>
<rect x="1204.68" y="187.74" width="10.49" height="11.24" fill="#1fa088"/>
<rect x="1214.87" y="187.74" width="10.49" height="11.24" fill="#1e9d89"/>
<rect x="1225.06" y="187.74" width="10.49" height="11.24" fill="#26ad81"/>
<rect x="1235.25" y="187.74" width="10.49" height="11.24" fill="#22a884"/>
<rect x="1245.43" y="187.74" width="10.49" height="11.24" fill="#20a386"/>
<rect x="1255.62" y="187.74" width="10.49" height="11.24" fill="#21a585"/>
<rect x="1265.81" y="187.74" width="10.49" height="11.24" fill="#24aa83"/>
<rect x="1276.00" y="187.74" width="10.49" height="11.24" fill="#26ad81"/>
<rect x="1286.19" y="187.74" width="10.49" height="11.24" fill="#22a884"/>
<rect x="1296.37" y="187.74" width="10.49" height="11.24" fill="#22a785"/>
<rect x="1306.56" y="187.74" width="10.49" height="11.24" fill="#21a585"/>
<rect x="1316.75" y="187.74" width="10.49" height="11.24" fill="#20a486"/>
<rect x="1326.94" y="187.74" width="10.49" height="11.24" fill="#1fa287"/>
<rect x="1337.13" y="187.74" width="10.49" height="11.24" fill="#1fa188"/>
<rect x="1347.31" y="187.74" width="10.49" height="11.24" fill="#1f9f88"/>
<rect x="1357.50" y="187.74" width="10.49" height="11.24" fill="#1e9d89"/>
<rect x="1367.69" y="187.74" width="10.49" height="11.24" fill="#1e9b8a"/>
<rect x="1377.88" y="187.74" width="10.49" height="11.24" fill="#1f998a"/>
<rect x="1388.07" y="187.74" width="10.49" height="11.24" fill="#1f968b"/>
<rect x="1398.25" y="187.74" width="10.49" height="11.24" fill="#1f948c"/>
<rect x="1408.44" y="187.74" width="10.49" height="11.24" fill="#20928c"/>
<rect x="1418.63" y="187.74" width="10.49" height="11.24" fill="#218e8d"/>
<rect x="1428.82" y="187.74" width="10.49" height="11.24" fill="#238a8d"/>
<rect x="1439.01" y="187.74" width="5.39" height="11.24" fill="#25848e"/>
<rect x="934.70" y="198.67" width="158.21" height="11.24" fill="#46085c"/>
<rect x="1092.61" y="198.67" width="10.49" height="11.24" fill="#460b5e"/>
<rect x="1102.80" y="198.67" width="10.49" height="11.24" fill="#481a6c"/>
<rect x="1112.99" y="198.67" width="10.49" height="11.24" fill="#481668"/>
<rect x="1123.18" y="198.67" width="10.49" height="11.24" fill="#472e7c"/>
<rect x="1133.37" y="198.67" width="10.49" height="11.24" fill="#32648e"/>
<rect x="1143.55" y="198.67" width="10.49" height="11.24" fill="#2e6d8e"/>
<rect x="1153.74" y="198.67" width="10.49" height="11.24" fill="#2c728e"/>
<rect x="1163.93" y="198.67" width="10.49" height="11.24" fill="#228c8d"/>
<rect x="1174.12" y="198.67" width="10.49" height="11.24" fill="#27808e"/>
<rect x="1184.31" y="198.67" width="10.49" height="11.24" fill="#218f8d"/>
<rect x="1194.49" y="198.67" width="10.49" height="11.24" fill="#1fa188"/>
<rect x="1204.68" y="198.67" width="10.49" height="11.24" fill="#22a884"/>
<rect x="1214.87" y="198.67" width="10.49" height="11.24" fill="#21a585"/>
<rect x="1225.06" y="198.67" width="10.49" height="11.24" fill="#29af7f"/>
<rect x="1235.25" y="198.67" width="10.49" height="11.24" fill="#22a884"/>
<rect x="1245.43" y="198.67" width="10.49" height="11.24" fill="#26ad81"/>
<rect x="1255.62" y="198.67" width="10.49" height="11.24" fill="#25ab82"/>
<rect x="1265.81" y="198.67" width="10.49" height="11.24" fill="#20a486"/>
<rect x="1276.00" y="198.67" width="10.49" height="11.24" fill="#25ab82"/>
<rect x="1286.19" y="198.67" width="10.49" height="11.24" fill="#22a884"/>
<rect x="1296.37" y="198.67" width="10.49" height="11.24" fill="#21a685"/>
<rect x="1306.56" y="198.67" width="10.49" height="11.24" fill="#21a585"/>
<rect x="1316.75" y="198.67" width="10.49" height="11.24" fill="#20a386"/>
<rect x="1326.94" y="198.67" width="10.49" height="11.24" fill="#1fa187"/>
<rect x="1337.13" y="198.67" width="10.49" height="11.24" fill="#1fa088"/>
<rect x="1347.31" y="198.67" width="10.49" height="11.24" fill="#1f9e89"/>
<rect x="1357.50" y="198.67" width="10.49" height="11.24" fill="#1e9c89"/>
<rect x="1367.69" y="198.67" width="10.49" height="11.24" fill="#1f9a8a"/>
<rect x="1377.88" y="198.67" width="10.49" height="11.24" fill="#1f988b"/>
<rect x="1388.07" y="198.67" width="10.49" height="11.24" fill="#1f958b"/>
<rect x="1398.25" y="198.67" width="10.49" height="11.24" fill="#20928c"/>
<rect x="1408.44" y="198.67" width="10.49" height="11.24" fill="#218f8d"/>
<rect x="1418.63" y="198.67" width="10.49" height="11.24" fill="#228b8d"/>
<rect x="1428.82" y="198.67" width="10.49" height="11.24" fill="#25858e"/>
<rect x="1439.01" y="198.67" width="5.39" height="11.24" fill="#277e8e"/>
<rect x="934.70" y="209.61" width="158.21" height="11.24" fill="#46085c"/>
<rect x="1092.61" y="209.61" width="10.49" height="11.24" fill="#481769"/>
<rect x="1102.80" y="209.61" width="10.49" height="11.24" fill="#471164"/>
<rect x="1112.99" y="209.61" width="10.49" height="11.24" fill="#482475"/>
<rect x="1123.18" y="209.61" width="10.49" height="11.24" fill="#3c4f8a"/>
<rect x="1133.37" y="209.61" width="10.49" height="11.24" fill="#3d4e8a"/>
<rect x="1143.55" y="209.61" width="10.49" height="11.24" fill="#38598c"/>
<rect x="1153.74" y="209.61" width="10.49" height="11.24" fill="#2e6d8e"/>
<rect x="1163.93" y="209.61" width="10.49" height="11.24" fill="#2c738e"/>
<rect x="1174.12" y="209.61" width="20.68" height="11.24" fill="#1f958b"/>
<rect x="1194.49" y="209.61" width="10.49" height="11.24" fill="#1f988b"/>
<rect x="1204.68" y="209.61" width="10.49" height="11.24" fill="#1f9f88"/>
<rect x="1214.87" y="209.61" width="10.49" height="11.24" fill="#2ab07f"/>
<rect x="1225.06" y="209.61" width="10.49" height="11.24" fill="#21a685"/>
<rect x="1235.25" y="209.61" width="10.49" height="11.24" fill="#22a785"/>
<rect x="1245.43" y="209.61" width="10.49" height="11.24" fill="#26ad81"/>
<rect x="1255.62" y="209.61" width="10.49" height="11.24" fill="#28ae80"/>
<rect x="1265.81" y="209.61" width="10.49" height="11.24" fill="#25ac82"/>
<rect x="1276.00" y="209.61" width="10.49" height="11.24" fill="#21a585"/>
<rect x="1286.19" y="209.61" width="10.49" height="11.24" fill="#22a884"/>
<rect x="1296.37" y="209.61" width="10.49" height="11.24" fill="#21a685"/>
<rect x="1306.56" y="209.61" width="10.49" height="11.24" fill="#20a486"/>
<rect x="1316.75" y="209.61" width="10.49" height="11.24" fill="#1fa287"/>
<rect x="1326.94" y="209.61" width="10.49" height="11.24" fill="#1fa188"/>
<rect x="1337.13" y="209.61" width="10.49" height="11.24" fill="#1f9f88"/>
<rect x="1347.31" y="209.61" width="10.49" height="11.24" fill="#1e9d89"/>
<rect x="1357.50" y="209.61" width="10.49" height="11.24" fill="#1e9b8a"/>
<rect x="1367.69" y="209.61" width="10.49" height="11.24" fill="#1f998a"/>
<rect x="1377.88" y="209.61" width="10.49" height="11.24" fill="#1f968b"/>
<rect x="1388.07" y="209.61" width="10.49" height="11.24" fill="#20938c"/>
<rect x="1398.25" y="209.61" width="10.49" height="11.24" fill="#21908d"/>
<rect x="1408.44" y="209.61" width="10.49" height="11.24" fill="#228c8d"/>
<rect x="1418.63" y="209.61" width="10.49" height="11.24" fill="#24868e"/>
<rect x="1428.82" y="209.61" width="10.49" height="11.24" fill="#277f8e"/>
<rect x="1439.01" y="209.61" width="5.39" height="11.24" fill="#2c718e"/>
<rect x="934.70" y="220.54" width="158.21" height="11.24" fill="#46085c"/>
<rect x="1092.61" y="220.54" width="10.49" height="11.24" fill="#460b5e"/>
<rect x="1102.80" y="220.54" width="10.49" height="11.24" fill="#481c6e"/>
<rect x="1112.99" y="220.54" width="10.49" height="11.24" fill="#482475"/>
<rect x="1123.18" y="220.54" width="10.49" height="11.24" fill="#472a7a"/>
<rect x="1133.37" y="220.54" width="10.49" height="11.24" fill="#31678e"/>
<rect x="1143.55" y="220.54" width="10.49" height="11.24" fill="#2d708e"/>
<rect x="1153.74" y="220.54" width="10.49" height="11.24" fill="#2d718e"/>
<rect x="1163.93" y="220.54" width="10.49" height="11.24" fill="#287d8e"/>
<rect x="1174.12" y="220.54" width="10.49" height="11.24" fill="#228b8d"/>
<rect x="1184.31" y="220.54" width="10.49" height="11.24" fill="#228c8d"/>
<rect x="1194.49" y="220.54" width="10.49" height="11.24" fill="#1f968b"/>
<rect x="1204.68" y="220.54" width="10.49" height="11.24" fill="#1fa187"/>
<rect x="1214.87" y="220.54" width="10.49" height="11.24" fill="#1fa088"/>
<rect x="1225.06" y="220.54" width="10.49" height="11.24" fill="#24aa83"/>
<rect x="1235.25" y="220.54" width="10.49" height="11.24" fill="#20a486"/>
<rect x="1245.43" y="220.54" width="20.68" height="11.24" fill="#25ab82"/>
<rect x="1265.81" y="220.54" width="10.49" height="11.24" fill="#2cb17e"/>
<rect x="1276.00" y="220.54" width="10.49" height="11.24" fill="#20a486"/>
<rect x="1286.19" y="220.54" width="10.49" height="11.24" fill="#22a785"/>
<rect x="1296.37" y="220.54" width="10.49" height="11.24" fill="#21a585"/>
<rect x="1306.56" y="220.54" width="10.49" height="11.24" fill="#20a386"/>
<rect x="1316.75" y="220.54" width="10.49" height="11.24" fill="#1fa187"/>
<rect x="1326.94" y="220.54" width="10.49" height="11.24" fill="#1fa088"/>
<rect x="1337.13" y="220.54" width="10.49" height="11.24" fill="#1f9e89"/>
<rect x="1347.31" y="220.54" width="10.49" height="11.24" fill="#1e9c89"/>
<rect x="1357.50" y="220.54" width="10.49" height="11.24" fill="#1f9a8a"/>
<rect x="1367.69" y="220.54" width="10.49" height="11.24" fill="#1f978b"/>
<rect x="1377.88" y="220.54" width="10.49" height="11.24" fill="#1f948c"/>
<rect x="1388.07" y="220.54" width="10.49" height="11.24" fill="#21918c"/>
<rect x="1398.25" y="220.54" width="10.49" height="11.24" fill="#228d8d"/>
<rect x="1408.44" y="220.54" width="10.49" height="11.24" fill="#24878e"/>
<rect x="1418.63" y="220.54" width="10.49" height="11.24" fill="#27808e"/>
<rect x="1428.82" y="220.54" width="10.49" height="11.24" fill="#2c728e"/>
<rect x="1439.01" y="220.54" width="5.39" height="11.24" fill="#375a8c"/>
<rect x="934.70" y="231.48" width="158.21" height="11.24" fill="#46085c"/>
<rect x="1092.61" y="231.48" width="20.68" height="11.24" fill="#460b5e"/>
<rect x="1112.99" y="231.48" width="10.49" height="11.24" fill="#481668"/>
<rect x="1123.18" y="231.48" width="10.49" height="11.24" fill="#453882"/>
<rect x="1133.37" y="231.48" width="10.49" height="11.24" fill="#34608d"/>
<rect x="1143.55" y="231.48" width="10.49" height="11.24" fill="#2d708e"/>
<rect x="1153.74" y="231.48" width="10.49" height="11.24" fill="#26828e"/>
<rect x="1163.93" y="231.48" width="10.49" height="11.24" fill="#2a788e"/>
<rect x="1174.12" y="231.48" width="10.49" height="11.24" fill="#1fa187"/>
<rect x="1184.31" y="231.48" width="10.49" height="11.24" fill="#21a585"/>
<rect x="1194.49" y="231.48" width="10.49" height="11.24" fill="#1e9b8a"/>
<rect x="1204.68" y="231.48" width="10.49" height="11.24" fill="#1f978b"/>
<rect x="1214.87" y="231.48" width="10.49" height="11.24" fill="#21a585"/>
<rect x="1225.06" y="231.48" width="10.49" height="11.24" fill="#22a884"/>
<rect x="1235.25" y="231.48" width="10.49" height="11.24" fill="#1fa188"/>
<rect x="1245.43" y="231.48" width="10.49" height="11.24" fill="#25ab82"/>
<rect x="1255.62" y="231.48" width="10.49" height="11.24" fill="#24aa83"/>
<rect x="1265.81" y="231.48" width="10.49" height="11.24" fill="#22a785"/>
<rect x="1276.00" y="231.48" width="10.49" height="11.24" fill="#25ab82"/>
<rect x="1286.19" y="231.48" width="10.49" height="11.24" fill="#21a685"/>
<rect x="1296.37" y="231.48" width="10.49" height="11.24" fill="#20a486"/>
<rect x="1306.56" y="231.48" width="10.49" height="11.24" fill="#20a386"/>
<rect x="1316.75" y="231.48" width="10.49" height="11.24" fill="#1fa187"/>
<rect x="1326.94" y="231.48" width="10.49" height="11.24" fill="#1f9f88"/>
<rect x="1337.13" y="231.48" width="10.49" height="11.24" fill="#1e9d89"/>
<rect x="1347.31" y="231.48" width="10.49" height="11.24" fill="#1e9b8a"/>
<rect x="1357.50" y="231.48" width="10.49" height="11.24" fill="#1f988b"/>
<rect x="1367.69" y="231.48" width="10.49" height="11.24" fill="#1f958b"/>
<rect x="1377.88" y="231.48" width="10.49" height="11.24" fill="#20928c"/>
<rect x="1388.07" y="231.48" width="10.49" height="11.24" fill="#218e8d"/>
<rect x="1398.25" y="231.48" width="10.49" height="11.24" fill="#23888e"/>
<rect x="1408.44" y="231.48" width="10.49" height="11.24" fill="#26818e"/>
<rect x="1418.63" y="231.48" width="10.49" height="11.24" fill="#2c738e"/>
<rect x="1428.82" y="231.48" width="10.49" height="11.24" fill="#375b8d"/>
<rect x="1439.01" y="231.48" width="5.39" height="11.24" fill="#482374"/>
<rect x="934.70" y="242.42" width="158.21" height="11.24" fill="#46085c"/>
<rect x="1092.61" y="242.42" width="10.49" height="11.24" fill="#481769"/>
<rect x="1102.80" y="242.42" width="10.49" height="11.24" fill="#470d60"/>
<rect x="1112.99" y="242.42" width="10.49" height="11.24" fill="#482878"/>
<rect x="1123.18" y="242.42" width="10.49" height="11.24" fill="#453781"/>
<rect x="1133.37" y="242.42" width="10.49" height="11.24" fill="#3b528b"/>
<rect x="1143.55" y="242.42" width="10.49" height="11.24" fill="#30698e"/>
<rect x="1153.74" y="242.42" width="10.49" height="11.24" fill="#2a788e"/>
<rect x="1163.93" y="242.42" width="10.49" height="11.24" fill="#29798e"/>
<rect x="1174.12" y="242.42" width="10.49" height="11.24" fill="#2c738e"/>
<rect x="1184.31" y="242.42" width="10.49" height="11.24" fill="#1f988b"/>
<rect x="1194.49" y="242.42" width="10.49" height="11.24" fill="#1f958b"/>
<rect x="1204.68" y="242.42" width="10.49" height="11.24" fill="#1fa188"/>
<rect x="1214.87" y="242.42" width="10.49" height="11.24" fill="#25ac82"/>
<rect x="1225.06" y="242.42" width="10.49" height="11.24" fill="#22a884"/>
<rect x="1235.25" y="242.42" width="10.49" height="11.24" fill="#21a585"/>
<rect x="1245.43" y="242.42" width="10.49" height="11.24" fill="#20a486"/>
<rect x="1255.62" y="242.42" width="10.49" height="11.24" fill="#29af7f"/>
<rect x="1265.81" y="242.42" width="10.49" height="11.24" fill="#23a983"/>
<rect x="1276.00" y="242.42" width="10.49" height="11.24" fill="#24aa83"/>
<rect x="1286.19" y="242.42" width="10.49" height="11.24" fill="#21a685"/>
<rect x="1296.37" y="242.42" width="10.49" height="11.24" fill="#20a486"/>
<rect x="1306.56" y="242.42" width="10.49" height="11.24" fill="#1fa287"/>
<rect x="1316.75" y="242.42" width="10.49" height="11.24" fill="#1fa188"/>
<rect x="1326.94" y="242.42" width="10.49" height="11.24" fill="#1f9e89"/>
<rect x="1337.13" y="242.42" width="10.49" height="11.24" fill="#1e9c89"/>
<rect x="1347.31" y="242.42" width="10.49" height="11.24" fill="#1f998a"/>
<rect x="1357.50" y="242.42" width="10.49" height="11.24" fill="#1f968b"/>
<rect x="1367.69" y="242.42" width="10.49" height="11.24" fill="#20938c"/>
<rect x="1377.88" y="242.42" width="10.49" height="11.24" fill="#218f8d"/>
<rect x="1388.07" y="242.42" width="10.49" height="11.24" fill="#238a8d"/>
<rect x="1398.25" y="242.42" width="10.49" height="11.24" fill="#26828e"/>
<rect x="1408.44" y="242.42" width="10.49" height="11.24" fill="#2b748e"/>
<rect x="1418.63" y="242.42" width="10.49" height="11.24" fill="#365c8d"/>
<rect x="1428.82" y="242.42" width="10.49" height="11.24" fill="#482576"/>
<rect x="1439.01" y="242.42" width="5.39" height="11.24" fill="#481d6f"/>
<rect x="934.70" y="253.35" width="158.21" height="11.24" fill="#46085c"/>
<rect x="1092.61" y="253.35" width="10.49" height="11.24" fill="#481668"/>
<rect x="1102.80" y="253.35" width="10.49" height="11.24" fill="#471365"/>
<rect x="1112.99" y="253.35" width="10.49" height="11.24" fill="#482071"/>
<rect x="1123.18" y="253.35" width="10.49" height="11.24" fill="#46337f"/>
<rect x="1133.37" y="253.35" width="10.49" height="11.24" fill="#453882"/>
<rect x="1143.55" y="253.35" width="10.49" height="11.24" fill="#38588c"/>
<rect x="1153.74" y="253.35" width="10.49" height="11.24" fill="#2c728e"/>
<rect x="1163.93" y="253.35" width="10.49" height="11.24" fill="#287d8e"/>
<rect x="1174.12" y="253.35" width="10.49" height="11.24" fill="#228c8d"/>
<rect x="1184.31" y="253.35" width="10.49" height="11.24" fill="#21918c"/>
<rect x="1194.49" y="253.35" width="10.49" height="11.24" fill="#1e9c89"/>
<rect x="1204.68" y="253.35" width="10.49" height="11.24" fill="#20a386"/>
<rect x="1214.87" y="253.35" width="10.49" height="11.24" fill="#1fa187"/>
<rect x="1225.06" y="253.35" width="10.49" height="11.24" fill="#21a685"/>
<rect x="1235.25" y="253.35" width="10.49" height="11.24" fill="#20a386"/>
<rect x="1245.43" y="253.35" width="10.49" height="11.24" fill="#27ad81"/>
<rect x="1255.62" y="253.35" width="20.68" height="11.24" fill="#25ab82"/>
<rect x="1276.00" y="253.35" width="10.49" height="11.24" fill="#27ad81"/>
<rect x="1286.19" y="253.35" width="10.49" height="11.24" fill="#21a585"/>
<rect x="1296.37" y="253.35" width="10.49" height="11.24" fill="#20a386"/>
<rect x="1306.56" y="253.35" width="10.49" height="11.24" fill="#1fa187"/>
<rect x="1316.75" y="253.35" width="10.49" height="11.24" fill="#1f9f88"/>
<rect x="1326.94" y="253.35" width="10.49" height="11.24" fill="#1e9d89"/>
<rect x="1337.13" y="253.35" width="10.49" height="11.24" fill="#1f9a8a"/>
<rect x="1347.31" y="253.35" width="10.49" height="11.24" fill="#1f978b"/>
<rect x="1357.50" y="253.35" width="10.49" height="11.24" fill="#1f948c"/>
<rect x="1367.69" y="253.35" width="10.49" height="11.24" fill="#21908d"/>
<rect x="1377.88" y="253.35" width="10.49" height="11.24" fill="#228b8d"/>
<rect x="1388.07" y="253.35" width="10.49" height="11.24" fill="#26828e"/>
<rect x="1398.25" y="253.35" width="10.49" height="11.24" fill="#2b758e"/>
<rect x="1408.44" y="253.35" width="10.49" height="11.24" fill="#355e8d"/>
<rect x="1418.63" y="253.35" width="10.49" height="11.24" fill="#482878"/>
<rect x="1428.82" y="253.35" width="10.49" height="11.24" fill="#481d6f"/>
<rect x="1439.01" y="253.35" width="5.39" height="11.24" fill="#471164"/>
<rect x="934.70" y="264.29" width="158.21" height="11.24" fill="#46085c"/>
<rect x="1092.61" y="264.29" width="10.49" height="11.24" fill="#481769"/>
<rect x="1102.80" y="264.29" width="10.49" height="11.24" fill="#471365"/>
<rect x="1112.99" y="264.29" width="10.49" height="11.24" fill="#472d7b"/>
<rect x="1123.18" y="264.29" width="10.49" height="11.24" fill="#472f7d"/>
<rect x="1133.37" y="264.29" width="10.49" height="11.24" fill="#355f8d"/>
<rect x="1143.55" y="264.29" width="10.49" height="11.24" fill="#30698e"/>
<rect x="1153.74" y="264.29" width="10.49" height="11.24" fill="#32658e"/>
<rect x="1163.93" y="264.29" width="10.49" height="11.24" fill="#238a8d"/>
<rect x="1174.12" y="264.29" width="10.49" height="11.24" fill="#26828e"/>
<rect x="1184.31" y="264.29" width="10.49" height="11.24" fill="#1f978b"/>
<rect x="1194.49" y="264.29" width="10.49" height="11.24" fill="#1f9a8a"/>
<rect x="1204.68" y="264.29" width="10.49" height="11.24" fill="#20a386"/>
<rect x="1214.87" y="264.29" width="10.49" height="11.24" fill="#23a983"/>
<rect x="1225.06" y="264.29" width="10.49" height="11.24" fill="#20a486"/>
<rect x="1235.25" y="264.29" width="10.49" height="11.24" fill="#20a386"/>
<rect x="1245.43" y="264.29" width="10.49" height="11.24" fill="#23a983"/>
<rect x="1255.62" y="264.29" width="10.49" height="11.24" fill="#26ad81"/>
<rect x="1265.81" y="264.29" width="10.49" height="11.24" fill="#22a785"/>
<rect x="1276.00" y="264.29" width="20.68" height="11.24" fill="#20a486"/>
<rect x="1296.37" y="264.29" width="10.49" height="11.24" fill="#1fa287"/>
<rect x="1306.56" y="264.29" width="10.49" height="11.24" fill="#1fa088"/>
<rect x="1316.75" y="264.29" width="10.49" height="11.24" fill="#1f9e89"/>
<rect x="1326.94" y="264.29" width="10.49" height="11.24" fill="#1e9b8a"/>
<rect x="1337.13" y="264.29" width="10.49" height="11.24" fill="#1f988b"/>
<rect x="1347.31" y="264.29" width="10.49" height="11.24" fill="#1f958b"/>
<rect x="1357.50" y="264.29" width="10.49" height="11.24" fill="#21918c"/>
<rect x="1367.69" y="264.29" width="10.49" height="11.24" fill="#228c8d"/>
<rect x="1377.88" y="264.29" width="10.49" height="11.24" fill="#25838e"/>
<rect x="1388.07" y="264.29" width="10.49" height="11.24" fill="#2a778e"/>
<rect x="1398.25" y="264.29" width="10.49" height="11.24" fill="#355f8d"/>
<rect x="1408.44" y="264.29" width="10.49" height="11.24" fill="#472a7a"/>
<rect x="1418.63" y="264.29" width="10.49" height="11.24" fill="#481d6f"/>
<rect x="1428.82" y="264.29" width="10.49" height="11.24" fill="#471365"/>
<rect x="1439.01" y="264.29" width="5.39" height="11.24" fill="#460b5e"/>
<rect x="934.70" y="275.22" width="158.21" height="11.24" fill="#46085c"/>
<rect x="1092.61" y="275.22" width="10.49" height="11.24" fill="#470e61"/>
<rect x="1102.80" y="275.22" width="10.49" height="11.24" fill="#460b5e"/>
<rect x="1112.99" y="275.22" width="10.49" height="11.24" fill="#481d6f"/>
<rect x="1123.18" y="275.22" width="10.49" height="11.24" fill="#46327e"/>
<rect x="1133.37" y="275.22" width="10.49" height="11.24" fill="#365d8d"/>
<rect x="1143.55" y="275.22" width="10.49" height="11.24" fill="#33628d"/>
<rect x="1153.74" y="275.22" width="10.49" height="11.24" fill="#2f6b8e"/>
<rect x="1163.93" y="275.22" width="10.49" height="11.24" fill="#287c8e"/>
<rect x="1174.12" y="275.22" width="10.49" height="11.24" fill="#277e8e"/>
<rect x="1184.31" y="275.22" width="10.49" height="11.24" fill="#20928c"/>
<rect x="1194.49" y="275.22" width="10.49" height="11.24" fill="#1f998a"/>
<rect x="1204.68" y="275.22" width="10.49" height="11.24" fill="#1f9f88"/>
<rect x="1214.87" y="275.22" width="10.49" height="11.24" fill="#1fa287"/>
<rect x="1225.06" y="275.22" width="10.49" height="11.24" fill="#24aa83"/>
<rect x="1235.25" y="275.22" width="10.49" height="11.24" fill="#22a884"/>
<rect x="1245.43" y="275.22" width="20.68" height="11.24" fill="#25ab82"/>
<rect x="1265.81" y="275.22" width="10.49" height="11.24" fill="#21a585"/>
<rect x="1276.00" y="275.22" width="10.49" height="11.24" fill="#22a785"/>
<rect x="1286.19" y="275.22" width="10.49" height="11.24" fill="#20a386"/>
<rect x="1296.37" y="275.22" width="10.49" height="11.24" fill="#1fa187"/>
<rect x="1306.56" y="275.22" width="10.49" height="11.24" fill="#1f9f88"/>
<rect x="1316.75" y="275.22" width="10.49" height="11.24" fill="#1e9c89"/>
<rect x="1326.94" y="275.22" width="10.49" height="11.24" fill="#1f998a"/>
<rect x="1337.13" y="275.22" width="10.49" height="11.24" fill="#1f968b"/>
<rect x="1347.31" y="275.22" width="10.49" height="11.24" fill="#20928c"/>
<rect x="1357.50" y="275.22" width="10.49" height="11.24" fill="#228d8d"/>
<rect x="1367.69" y="275.22" width="10.49" height="11.24" fill="#25848e"/>
<rect x="1377.88" y="275.22" width="10.49" height="11.24" fill="#2a788e"/>
<rect x="1388.07" y="275.22" width="10.49" height="11.24" fill="#34618d"/>
<rect x="1398.25" y="275.22" width="10.49" height="11.24" fill="#472d7b"/>
<rect x="1408.44" y="275.22" width="10.49" height="11.24" fill="#481d6f"/>
<rect x="1418.63" y="275.22" width="10.49" height="11.24" fill="#471365"/>
<rect x="1428.82" y="275.22" width="15.58" height="11.24" fill="#460b5e"/>
<rect x="934.70" y="286.16" width="158.21" height="11.24" fill="#46085c"/>
<rect x="1092.61" y="286.16" width="10.49" height="11.24" fill="#460b5e"/>
<rect x="1102.80" y="286.16" width="10.49" height="11.24" fill="#481668"/>
<rect x="1112.99" y="286.16" width="10.49" height="11.24" fill="#482173"/>
<rect x="1123.18" y="286.16" width="10.49" height="11.24" fill="#443b84"/>
<rect x="1133.37" y="286.16" width="10.49" height="11.24" fill="#34608d"/>
<rect x="1143.55" y="286.16" width="10.49" height="11.24" fill="#2b748e"/>
<rect x="1153.74" y="286.16" width="10.49" height="11.24" fill="#2e6e8e"/>
<rect x="1163.93" y="286.16" width="10.49" height="11.24" fill="#26828e"/>
<rect x="1174.12" y="286.16" width="10.49" height="11.24" fill="#25858e"/>
<rect x="1184.31" y="286.16" width="10.49" height="11.24" fill="#1f968b"/>
<rect x="1194.49" y="286.16" width="10.49" height="11.24" fill="#1e9c89"/>
<rect x="1204.68" y="286.16" width="10.49" height="11.24" fill="#1fa187"/>
<rect x="1214.87" y="286.16" width="10.49" height="11.24" fill="#1e9d89"/>
<rect x="1225.06" y="286.16" width="10.49" height="11.24" fill="#21a585"/>
<rect x="1235.25" y="286.16" width="10.49" height="11.24" fill="#21a685"/>
<rect x="1245.43" y="286.16" width="10.49" height="11.24" fill="#22a884"/>
<rect x="1255.62" y="286.16" width="10.49" height="11.24" fill="#22a785"/>
<rect x="1265.81" y="286.16" width="10.49" height="11.24" fill="#21a585"/>
<rect x="1276.00" y="286.16" width="10.49" height="11.24" fill="#21a685"/>
<rect x="1286.19" y="286.16" width="10.49" height="11.24" fill="#1fa287"/>
<rect x="1296.37" y="286.16" width="10.49" height="11.24" fill="#1fa088"/>
<rect x="1306.56" y="286.16" width="10.49" height="11.24" fill="#1e9d89"/>
<rect x="1316.75" y="286.16" width="10.49" height="11.24" fill="#1f9a8a"/>
<rect x="1326.94" y="286.16" width="10.49" height="11.24" fill="#1f978b"/>
<rect x="1337.13" y="286.16" width="10.49" height="11.24" fill="#20938c"/>
<rect x="1347.31" y="286.16" width="10.49" height="11.24" fill="#218e8d"/>
<rect x="1357.50" y="286.16" width="10.49" height="11.24" fill="#24868e"/>
<rect x="1367.69" y="286.16" width="10.49" height="11.24" fill="#29798e"/>
<rect x="1377.88" y="286.16" width="10.49" height="11.24" fill="#33628d"/>
<rect x="1388.07" y="286.16" width="10.49" height="11.24" fill="#472f7d"/>
<rect x="1398.25" y="286.16" width="10.49" height="11.24" fill="#481f70"/>
<rect x="1408.44" y="286.16" width="10.49" height="11.24" fill="#471365"/>
<rect x="1418.63" y="286.16" width="25.77" height="11.24" fill="#460b5e"/>
<rect x="934.70" y="297.10" width="158.21" height="11.24" fill="#46085c"/>
<rect x="1092.61" y="297.10" width="10.49" height="11.24" fill="#481668"/>
<rect x="1102.80" y="297.10" width="10.49" height="11.24" fill="#460b5e"/>
<rect x="1112.99" y="297.10" width="10.49" height="11.24" fill="#482374"/>
<rect x="1123.18" y="297.10" width="10.49" height="11.24" fill="#424086"/>
<rect x="1133.37" y="297.10" width="10.49" height="11.24" fill="#375b8d"/>
<rect x="1143.55" y="297.10" width="10.49" height="11.24" fill="#31668e"/>
<rect x="1153.74" y="297.10" width="10.49" height="11.24" fill="#2f6c8e"/>
<rect x="1163.93" y="297.10" width="10.49" height="11.24" fill="#297a8e"/>
<rect x="1174.12" y="297.10" width="10.49" height="11.24" fill="#228b8d"/>
<rect x="1184.31" y="297.10" width="10.49" height="11.24" fill="#1f968b"/>
<rect x="1194.49" y="297.10" width="10.49" height="11.24" fill="#1e9b8a"/>
<rect x="1204.68" y="297.10" width="10.49" height="11.24" fill="#1f9e89"/>
<rect x="1214.87" y="297.10" width="10.49" height="11.24" fill="#20a386"/>
<rect x="1225.06" y="297.10" width="10.49" height="11.24" fill="#21a685"/>
<rect x="1235.25" y="297.10" width="10.49" height="11.24" fill="#23a983"/>
<rect x="1245.43" y="297.10" width="10.49" height="11.24" fill="#22a884"/>
<rect x="1255.62" y="297.10" width="10.49" height="11.24" fill="#22a785"/>
<rect x="1265.81" y="297.10" width="10.49" height="11.24" fill="#21a685"/>
<rect x="1276.00" y="297.10" width="20.68" height="11.24" fill="#1fa187"/>
<rect x="1296.37" y="297.10" width="10.49" height="11.24" fill="#1f9e89"/>
<rect x="1306.56" y="297.10" width="10.49" height="11.24" fill="#1e9b8a"/>
<rect x="1316.75" y="297.10" width="10.49" height="11.24" fill="#1f988b"/>
<rect x="1326.94" y="297.10" width="10.49" height="11.24" fill="#1f948c"/>
<rect x="1337.13" y="297.10" width="10.49" height="11.24" fill="#218f8d"/>
<rect x="1347.31" y="297.10" width="10.49" height="11.24" fill="#24878e"/>
<rect x="1357.50" y="297.10" width="10.49" height="11.24" fill="#297a8e"/>
<rect x="1367.69" y="297.10" width="10.49" height="11.24" fill="#32648e"/>
<rect x="1377.88" y="297.10" width="10.49" height="11.24" fill="#46327e"/>
<rect x="1388.07" y="297.10" width="10.49" height="11.24" fill="#481f70"/>
<rect x="1398.25" y="297.10" width="10.49" height="11.24" fill="#471365"/>
<rect x="1408.44" y="297.10" width="30.86" height="11.24" fill="#460b5e"/>
<rect x="1439.01" y="297.10" width="5.39" height="11.24" fill="#450559"/>
<rect x="934.70" y="308.03" width="158.21" height="11.24" fill="#46085c"/>
<rect x="1092.61" y="308.03" width="10.49" height="11.24" fill="#470d60"/>
<rect x="1102.80" y="308.03" width="10.49" height="11.24" fill="#481a6c"/>
<rect x="1112.99" y="308.03" width="10.49" height="11.24" fill="#481f70"/>
<rect x="1123.18" y="308.03" width="10.49" height="11.24" fill="#424086"/>
<rect x="1133.37" y="308.03" width="10.49" height="11.24" fill="#39568c"/>
<rect x="1143.55" y="308.03" width="10.49" height="11.24" fill="#2f6b8e"/>
<rect x="1153.74" y="308.03" width="10.49" height="11.24" fill="#2b758e"/>
<rect x="1163.93" y="308.03" width="10.49" height="11.24" fill="#277e8e"/>
<rect x="1174.12" y="308.03" width="10.49" height="11.24" fill="#228b8d"/>
<rect x="1184.31" y="308.03" width="10.49" height="11.24" fill="#21908d"/>
<rect x="1194.49" y="308.03" width="10.49" height="11.24" fill="#1f998a"/>
<rect x="1204.68" y="308.03" width="10.49" height="11.24" fill="#1f9e89"/>
<rect x="1214.87" y="308.03" width="10.49" height="11.24" fill="#1fa287"/>
<rect x="1225.06" y="308.03" width="10.49" height="11.24" fill="#21a585"/>
<rect x="1235.25" y="308.03" width="10.49" height="11.24" fill="#22a785"/>
<rect x="1245.43" y="308.03" width="10.49" height="11.24" fill="#21a685"/>
<rect x="1255.62" y="308.03" width="10.49" height="11.24" fill="#22a884"/>
<rect x="1265.81" y="308.03" width="10.49" height="11.24" fill="#21a685"/>
<rect x="1276.00" y="308.03" width="10.49" height="11.24" fill="#1fa187"/>
<rect x="1286.19" y="308.03" width="10.49" height="11.24" fill="#1fa088"/>
<rect x="1296.37" y="308.03" width="10.49" height="11.24" fill="#1e9c89"/>
<rect x="1306.56" y="308.03" width="10.49" height="11.24" fill="#1f998a"/>
<rect x="1316.75" y="308.03" width="10.49" height="11.24" fill="#1f958b"/>
<rect x="1326.94" y="308.03" width="10.49" height="11.24" fill="#21908d"/>
<rect x="1337.13" y="308.03" width="10.49" height="11.24" fill="#23888e"/>
<rect x="1347.31" y="308.03" width="10.49" height="11.24" fill="#297b8e"/>
<rect x="1357.50" y="308.03" width="10.49" height="11.24" fill="#32658e"/>
<rect x="1367.69" y="308.03" width="10.49" height="11.24" fill="#46337f"/>
<rect x="1377.88" y="308.03" width="10.49" height="11.24" fill="#481f70"/>
<rect x="1388.07" y="308.03" width="10.49" height="11.24" fill="#471365"/>
<rect x="1398.25" y="308.03" width="30.86" height="11.24" fill="#460b5e"/>
<rect x="1428.82" y="308.03" width="15.58" height="11.24" fill="#450559"/>
<rect x="934.70" y="318.97" width="158.21" height="11.24" fill="#46085c"/>
<rect x="1092.61" y="318.97" width="10.49" height="11.24" fill="#460b5e"/>
<rect x="1102.80" y="318.97" width="10.49" height="11.24" fill="#481668"/>
<rect x="1112.99" y="318.97" width="10.49" height="11.24" fill="#482878"/>
<rect x="1123.18" y="318.97" width="10.49" height="11.24" fill="#433e85"/>
<rect x="1133.37" y="318.97" width="10.49" height="11.24" fill="#38588c"/>
<rect x="1143.55" y="318.97" width="10.49" height="11.24" fill="#31688e"/>
<rect x="1153.74" y="318.97" width="10.49" height="11.24" fill="#2b758e"/>
<rect x="1163.93" y="318.97" width="10.49" height="11.24" fill="#297a8e"/>
<rect x="1174.12" y="318.97" width="10.49" height="11.24" fill="#23888e"/>
<rect x="1184.31" y="318.97" width="10.49" height="11.24" fill="#21908d"/>
<rect x="1194.49" y="318.97" width="10.49" height="11.24" fill="#1f998a"/>
<rect x="1204.68" y="318.97" width="10.49" height="11.24" fill="#1f9f88"/>
<rect x="1214.87" y="318.97" width="10.49" height="11.24" fill="#1fa187"/>
<rect x="1225.06" y="318.97" width="10.49" height="11.24" fill="#21a585"/>
<rect x="1235.25" y="318.97" width="10.49" height="11.24" fill="#22a785"/>
<rect x="1245.43" y="318.97" width="10.49" height="11.24" fill="#21a685"/>
<rect x="1255.62" y="318.97" width="10.49" height="11.24" fill="#21a585"/>
<rect x="1265.81" y="318.97" width="10.49" height="11.24" fill="#1fa287"/>
<rect x="1276.00" y="318.97" width="10.49" height="11.24" fill="#1fa188"/>
<rect x="1286.19" y="318.97" width="10.49" height="11.24" fill="#1f9e89"/>
<rect x="1296.37" y="318.97" width="10.49" height="11.24" fill="#1f9a8a"/>
<rect x="1306.56" y="318.97" width="10.49" height="11.24" fill="#1f968b"/>
<rect x="1316.75" y="318.97" width="10.49" height="11.24" fill="#21918c"/>
<rect x="1326.94" y="318.97" width="10.49" height="11.24" fill="#23898e"/>
<rect x="1337.13" y="318.97" width="10.49" height="11.24" fill="#287d8e"/>
<rect x="1347.31" y="318.97" width="10.49" height="11.24" fill="#31668e"/>
<rect x="1357.50" y="318.97" width="10.49" height="11.24" fill="#453581"/>
<rect x="1367.69" y="318.97" width="10.49" height="11.24" fill="#481f70"/>
<rect x="1377.88" y="318.97" width="10.49" height="11.24" fill="#481467"/>
<rect x="1388.07" y="318.97" width="30.86" height="11.24" fill="#460b5e"/>
<rect x="1418.63" y="318.97" width="25.77" height="11.24" fill="#450559"/>
<rect x="934.70" y="329.90" width="158.21" height="11.24" fill="#46085c"/>
<rect x="1092.61" y="329.90" width="10.49" height="11.24" fill="#460b5e"/>
<rect x="1102.80" y="329.90" width="10.49" height="11.24" fill="#481668"/>
<rect x="1112.99" y="329.90" width="10.49" height="11.24" fill="#482475"/>
<rect x="1123.18" y="329.90" width="10.49" height="11.24" fill="#433d84"/>
<rect x="1133.37" y="329.90" width="10.49" height="11.24" fill="#375a8c"/>
<rect x="1143.55" y="329.90" width="10.49" height="11.24" fill="#31668e"/>
<rect x="1153.74" y="329.90" width="10.49" height="11.24" fill="#2c718e"/>
<rect x="1163.93" y="329.90" width="10.49" height="11.24" fill="#287d8e"/>
<rect x="1174.12" y="329.90" width="10.49" height="11.24" fill="#23888e"/>
<rect x="1184.31" y="329.90" width="10.49" height="11.24" fill="#21908d"/>
<rect x="1194.49" y="329.90" width="10.49" height="11.24" fill="#1f998a"/>
<rect x="1204.68" y="329.90" width="10.49" height="11.24" fill="#1f9e89"/>
<rect x="1214.87" y="329.90" width="10.49" height="11.24" fill="#1fa287"/>
<rect x="1225.06" y="329.90" width="41.05" height="11.24" fill="#21a585"/>
<rect x="1265.81" y="329.90" width="10.49" height="11.24" fill="#1fa287"/>
<rect x="1276.00" y="329.90" width="10.49" height="11.24" fill="#1fa088"/>
<rect x="1286.19" y="329.90" width="10.49" height="11.24" fill="#1e9c89"/>
<rect x="1296.37" y="329.90" width="10.49" height="11.24" fill="#1f978b"/>
<rect x="1306.56" y="329.90" width="10.49" height="11.24" fill="#20928c"/>
<rect x="1316.75" y="329.90" width="10.49" height="11.24" fill="#238a8d"/>
<rect x="1326.94" y="329.90" width="10.49" height="11.24" fill="#277e8e"/>
<rect x="1337.13" y="329.90" width="10.49" height="11.24" fill="#31688e"/>
<rect x="1347.31" y="329.90" width="10.49" height="11.24" fill="#453882"/>
<rect x="1357.50" y="329.90" width="10.49" height="11.24" fill="#481f70"/>
<rect x="1367.69" y="329.90" width="10.49" height="11.24" fill="#481467"/>
<rect x="1377.88" y="329.90" width="30.86" height="11.24" fill="#460b5e"/>
<rect x="1408.44" y="329.90" width="35.96" height="11.24" fill="#450559"/>
<rect x="934.70" y="340.84" width="158.21" height="11.24" fill="#46085c"/>
<rect x="1092.61" y="340.84" width="10.49" height="11.24" fill="#460b5e"/>
<rect x="1102.80" y="340.84" width="10.49" height="11.24" fill="#481467"/>
<rect x="1112.99" y="340.84" width="10.49" height="11.24" fill="#482576"/>
<rect x="1123.18" y="340.84" width="10.49" height="11.24" fill="#423f85"/>
<rect x="1133.37" y="340.84" width="10.49" height="11.24" fill="#375b8d"/>
<rect x="1143.55" y="340.84" width="10.49" height="11.24" fill="#31688e"/>
<rect x="1153.74" y="340.84" width="10.49" height="11.24" fill="#2c728e"/>
<rect x="1163.93" y="340.84" width="10.49" height="11.24" fill="#277e8e"/>
<rect x="1174.12" y="340.84" width="10.49" height="11.24" fill="#24878e"/>
<rect x="1184.31" y="340.84" width="10.49" height="11.24" fill="#21918c"/>
<rect x="1194.49" y="340.84" width="10.49" height="11.24" fill="#1f9a8a"/>
<rect x="1204.68" y="340.84" width="10.49" height="11.24" fill="#1f9e89"/>
<rect x="1214.87" y="340.84" width="10.49" height="11.24" fill="#1fa287"/>
<rect x="1225.06" y="340.84" width="10.49" height="11.24" fill="#20a486"/>
<rect x="1235.25" y="340.84" width="10.49" height="11.24" fill="#21a585"/>
<rect x="1245.43" y="340.84" width="20.68" height="11.24" fill="#20a486"/>
<rect x="1265.81" y="340.84" width="10.49" height="11.24" fill="#1fa188"/>
<rect x="1276.00" y="340.84" width="10.49" height="11.24" fill="#1f9e89"/>
<rect x="1286.19" y="340.84" width="10.49" height="11.24" fill="#1f998a"/>
<rect x="1296.37" y="340.84" width="10.49" height="11.24" fill="#20928c"/>
<rect x="1306.56" y="340.84" width="10.49" height="11.24" fill="#228b8d"/>
<rect x="1316.75" y="340.84" width="10.49" height="11.24" fill="#277f8e"/>
<rect x="1326.94" y="340.84" width="10.49" height="11.24" fill="#30698e"/>
<rect x="1337.13" y="340.84" width="10.49" height="11.24" fill="#443a83"/>
<rect x="1347.31" y="340.84" width="10.49" height="11.24" fill="#482071"/>
<rect x="1357.50" y="340.84" width="10.49" height="11.24" fill="#481467"/>
<rect x="1367.69" y="340.84" width="20.68" height="11.24" fill="#460b5e"/>
<rect x="1388.07" y="340.84" width="56.33" height="11.24" fill="#450559"/>
<rect x="934.70" y="351.78" width="158.21" height="11.24" fill="#46085c"/>
<rect x="1092.61" y="351.78" width="10.49" height="11.24" fill="#460b5e"/>
<rect x="1102.80" y="351.78" width="10.49" height="11.24" fill="#481467"/>
<rect x="1112.99" y="351.78" width="10.49" height="11.24" fill="#482677"/>
<rect x="1123.18" y="351.78" width="10.49" height="11.24" fill="#424186"/>
<rect x="1133.37" y="351.78" width="10.49" height="11.24" fill="#365c8d"/>
<rect x="1143.55" y="351.78" width="10.49" height="11.24" fill="#30698e"/>
<rect x="1153.74" y="351.78" width="10.49" height="11.24" fill="#2c738e"/>
<rect x="1163.93" y="351.78" width="10.49" height="11.24" fill="#27808e"/>
<rect x="1174.12" y="351.78" width="10.49" height="11.24" fill="#23898e"/>
<rect x="1184.31" y="351.78" width="10.49" height="11.24" fill="#20928c"/>
<rect x="1194.49" y="351.78" width="10.49" height="11.24" fill="#1f9a8a"/>
<rect x="1204.68" y="351.78" width="10.49" height="11.24" fill="#1f9f88"/>
<rect x="1214.87" y="351.78" width="10.49" height="11.24" fill="#1fa287"/>
<rect x="1225.06" y="351.78" width="10.49" height="11.24" fill="#20a386"/>
<rect x="1235.25" y="351.78" width="20.68" height="11.24" fill="#20a486"/>
<rect x="1255.62" y="351.78" width="10.49" height="11.24" fill="#1fa287"/>
<rect x="1265.81" y="351.78" width="10.49" height="11.24" fill="#1f9f88"/>
<rect x="1276.00" y="351.78" width="10.49" height="11.24" fill="#1e9b8a"/>
<rect x="1286.19" y="351.78" width="10.49" height="11.24" fill="#1f958b"/>
<rect x="1296.37" y="351.78" width="10.49" height="11.24" fill="#228c8d"/>
<rect x="1306.56" y="351.78" width="10.49" height="11.24" fill="#27808e"/>
<rect x="1316.75" y="351.78" width="10.49" height="11.24" fill="#2f6b8e"/>
<rect x="1326.94" y="351.78" width="10.49" height="11.24" fill="#433d84"/>
<rect x="1337.13" y="351.78" width="10.49" height="11.24" fill="#482071"/>
<rect x="1347.31" y="351.78" width="10.49" height="11.24" fill="#481467"/>
<rect x="1357.50" y="351.78" width="20.68" height="11.24" fill="#460b5e"/>
<rect x="1377.88" y="351.78" width="66.52" height="11.24" fill="#450559"/>
<rect x="934.70" y="362.71" width="158.21" height="11.24" fill="#46085c"/>
<rect x="1092.61" y="362.71" width="10.49" height="11.24" fill="#460b5e"/>
<rect x="1102.80" y="362.71" width="10.49" height="11.24" fill="#481467"/>
<rect x="1112.99" y="362.71" width="10.49" height="11.24" fill="#482878"/>
<rect x="1123.18" y="362.71" width="10.49" height="11.24" fill="#414287"/>
<rect x="1133.37" y="362.71" width="10.49" height="11.24" fill="#365d8d"/>
<rect x="1143.55" y="362.71" width="10.49" height="11.24" fill="#306a8e"/>
<rect x="1153.74" y="362.71" width="10.49" height="11.24" fill="#2b758e"/>
<rect x="1163.93" y="362.71" width="10.49" height="11.24" fill="#26818e"/>
<rect x="1174.12" y="362.71" width="10.49" height="11.24" fill="#238a8d"/>
<rect x="1184.31" y="362.71" width="10.49" height="11.24" fill="#1f948c"/>
<rect x="1194.49" y="362.71" width="10.49" height="11.24" fill="#1e9b8a"/>
<rect x="1204.68" y="362.71" width="10.49" height="11.24" fill="#1f9f88"/>
<rect x="1214.87" y="362.71" width="10.49" height="11.24" fill="#1fa287"/>
<rect x="1225.06" y="362.71" width="10.49" height="11.24" fill="#20a386"/>
<rect x="1235.25" y="362.71" width="10.49" height="11.24" fill="#20a486"/>
<rect x="1245.43" y="362.71" width="10.49" height="11.24" fill="#20a386"/>
<rect x="1255.62" y="362.71" width="10.49" height="11.24" fill="#1fa188"/>
<rect x="1265.81" y="362.71" width="10.49" height="11.24" fill="#1e9d89"/>
<rect x="1276.00" y="362.71" width="10.49" height="11.24" fill="#1f978b"/>
<rect x="1286.19" y="362.71" width="10.49" height="11.24" fill="#21908d"/>
<rect x="1296.37" y="362.71" width="10.49" height="11.24" fill="#26828e"/>
<rect x="1306.56" y="362.71" width="10.49" height="11.24" fill="#2f6c8e"/>
<rect x="1316.75" y="362.71" width="10.49" height="11.24" fill="#423f85"/>
<rect x="1326.94" y="362.71" width="10.49" height="11.24" fill="#482071"/>
<rect x="1337.13" y="362.71" width="10.49" height="11.24" fill="#481668"/>
<rect x="1347.31" y="362.71" width="20.68" height="11.24" fill="#460b5e"/>
<rect x="1367.69" y="362.71" width="76.71" height="11.24" fill="#450559"/>
<rect x="934.70" y="373.65" width="158.21" height="11.24" fill="#46085c"/>
<rect x="1092.61" y="373.65" width="10.49" height="11.24" fill="#460b5e"/>
<rect x="1102.80" y="373.65" width="10.49" height="11.24" fill="#481467"/>
<rect x="1112.99" y="373.65" width="10.49" height="11.24" fill="#482979"/>
<rect x="1123.18" y="373.65" width="10.49" height="11.24" fill="#404588"/>
<rect x="1133.37" y="373.65" width="10.49" height="11.24" fill="#355e8d"/>
<rect x="1143.55" y="373.65" width="10.49" height="11.24" fill="#2f6b8e"/>
<rect x="1153.74" y="373.65" width="10.49" height="11.24" fill="#2a768e"/>
<rect x="1163.93" y="373.65" width="10.49" height="11.24" fill="#26828e"/>
<rect x="1174.12" y="373.65" width="10.49" height="11.24" fill="#228c8d"/>
<rect x="1184.31" y="373.65" width="10.49" height="11.24" fill="#1f958b"/>
<rect x="1194.49" y="373.65" width="10.49" height="11.24" fill="#1e9b8a"/>
<rect x="1204.68" y="373.65" width="10.49" height="11.24" fill="#1fa088"/>
<rect x="1214.87" y="373.65" width="10.49" height="11.24" fill="#1fa187"/>
<rect x="1225.06" y="373.65" width="10.49" height="11.24" fill="#1fa287"/>
<rect x="1235.25" y="373.65" width="10.49" height="11.24" fill="#20a386"/>
<rect x="1245.43" y="373.65" width="10.49" height="11.24" fill="#1fa287"/>
<rect x="1255.62" y="373.65" width="10.49" height="11.24" fill="#1f9f88"/>
<rect x="1265.81" y="373.65" width="10.49" height="11.24" fill="#1f9a8a"/>
<rect x="1276.00" y="373.65" width="10.49" height="11.24" fill="#20928c"/>
<rect x="1286.19" y="373.65" width="10.49" height="11.24" fill="#24868e"/>
<rect x="1296.37" y="373.65" width="10.49" height="11.24" fill="#2e6d8e"/>
<rect x="1306.56" y="373.65" width="10.49" height="11.24" fill="#424186"/>
<rect x="1316.75" y="373.65" width="10.49" height="11.24" fill="#482071"/>
<rect x="1326.94" y="373.65" width="10.49" height="11.24" fill="#481668"/>
<rect x="1337.13" y="373.65" width="20.68" height="11.24" fill="#460b5e"/>
<rect x="1357.50" y="373.65" width="86.90" height="11.24" fill="#450559"/>
<rect x="934.70" y="384.58" width="158.21" height="11.24" fill="#46085c"/>
<rect x="1092.61" y="384.58" width="10.49" height="11.24" fill="#460b5e"/>
<rect x="1102.80" y="384.58" width="10.49" height="11.24" fill="#481668"/>
<rect x="1112.99" y="384.58" width="10.49" height="11.24" fill="#472a7a"/>
<rect x="1123.18" y="384.58" width="10.49" height="11.24" fill="#3f4788"/>
<rect x="1133.37" y="384.58" width="10.49" height="11.24" fill="#355f8d"/>
<rect x="1143.55" y="384.58" width="10.49" height="11.24" fill="#2f6c8e"/>
<rect x="1153.74" y="384.58" width="10.49" height="11.24" fill="#2a788e"/>
<rect x="1163.93" y="384.58" width="10.49" height="11.24" fill="#26828e"/>
<rect x="1174.12" y="384.58" width="10.49" height="11.24" fill="#228d8d"/>
<rect x="1184.31" y="384.58" width="10.49" height="11.24" fill="#1f978b"/>
<rect x="1194.49" y="384.58" width="10.49" height="11.24" fill="#1e9b8a"/>
<rect x="1204.68" y="384.58" width="10.49" height="11.24" fill="#1fa088"/>
<rect x="1214.87" y="384.58" width="20.68" height="11.24" fill="#1fa187"/>
<rect x="1235.25" y="384.58" width="10.49" height="11.24" fill="#1fa287"/>
<rect x="1245.43" y="384.58" width="10.49" height="11.24" fill="#1fa188"/>
<rect x="1255.62" y="384.58" width="10.49" height="11.24" fill="#1e9c89"/>
<rect x="1265.81" y="384.58" width="10.49" height="11.24" fill="#1f958b"/>
<rect x="1276.00" y="384.58" width="10.49" height="11.24" fill="#238a8d"/>
<rect x="1286.19" y="384.58" width="10.49" height="11.24" fill="#2b758e"/>
<rect x="1296.37" y="384.58" width="10.49" height="11.24" fill="#414287"/>
<rect x="1306.56" y="384.58" width="10.49" height="11.24" fill="#482173"/>
<rect x="1316.75" y="384.58" width="10.49" height="11.24" fill="#481668"/>
<rect x="1326.94" y="384.58" width="20.68" height="11.24" fill="#460b5e"/>
<rect x="1347.31" y="384.58" width="97.09" height="11.24" fill="#450559"/>
<rect x="934.70" y="395.52" width="158.21" height="11.24" fill="#46085c"/>
<rect x="1092.61" y="395.52" width="10.49" height="11.24" fill="#460b5e"/>
<rect x="1102.80" y="395.52" width="10.49" height="11.24" fill="#481668"/>
<rect x="1112.99" y="395.52" width="10.49" height="11.24" fill="#472a7a"/>
<rect x="1123.18" y="395.52" width="10.49" height="11.24" fill="#3f4889"/>
<rect x="1133.37" y="395.52" width="10.49" height="11.24" fill="#34608d"/>
<rect x="1143.55" y="395.52" width="10.49" height="11.24" fill="#2e6d8e"/>
<rect x="1153.74" y="395.52" width="10.49" height="11.24" fill="#29798e"/>
<rect x="1163.93" y="395.52" width="10.49" height="11.24" fill="#25838e"/>
<rect x="1174.12" y="395.52" width="10.49" height="11.24" fill="#218e8d"/>
<rect x="1184.31" y="395.52" width="10.49" height="11.24" fill="#1f978b"/>
<rect x="1194.49" y="395.52" width="10.49" height="11.24" fill="#1e9b8a"/>
<rect x="1204.68" y="395.52" width="10.49" height="11.24" fill="#1fa088"/>
<rect x="1214.87" y="395.52" width="20.68" height="11.24" fill="#1fa188"/>
<rect x="1235.25" y="395.52" width="10.49" height="11.24" fill="#1fa187"/>
<rect x="1245.43" y="395.52" width="10.49" height="11.24" fill="#1f9e89"/>
<rect x="1255.62" y="395.52" width="10.49" height="11.24" fill="#1f978b"/>
<rect x="1265.81" y="395.52" width="10.49" height="11.24" fill="#218f8d"/>
<rect x="1276.00" y="395.52" width="10.49" height="11.24" fill="#287d8e"/>
<rect x="1286.19" y="395.52" width="10.49" height="11.24" fill="#39558c"/>
<rect x="1296.37" y="395.52" width="10.49" height="11.24" fill="#482173"/>
<rect x="1306.56" y="395.52" width="10.49" height="11.24" fill="#481668"/>
<rect x="1316.75" y="395.52" width="20.68" height="11.24" fill="#460b5e"/>
<rect x="1337.13" y="395.52" width="107.27" height="11.24" fill="#450559"/>
<rect x="934.70" y="406.46" width="158.21" height="11.24" fill="#46085c"/>
<rect x="1092.61" y="406.46" width="10.49" height="11.24" fill="#460b5e"/>
<rect x="1102.80" y="406.46" width="10.49" height="11.24" fill="#481668"/>
<rect x="1112.99" y="406.46" width="10.49" height="11.24" fill="#472c7a"/>
<rect x="1123.18" y="406.46" width="10.49" height="11.24" fill="#3e4a89"/>
<rect x="1133.37" y="406.46" width="10.49" height="11.24" fill="#34618d"/>
<rect x="1143.55" y="406.46" width="10.49" height="11.24" fill="#2e6e8e"/>
<rect x="1153.74" y="406.46" width="10.49" height="11.24" fill="#297a8e"/>
<rect x="1163.93" y="406.46" width="10.49" height="11.24" fill="#25848e"/>
<rect x="1174.12" y="406.46" width="10.49" height="11.24" fill="#218f8d"/>
<rect x="1184.31" y="406.46" width="10.49" height="11.24" fill="#1f978b"/>
<rect x="1194.49" y="406.46" width="10.49" height="11.24" fill="#1e9b8a"/>
<rect x="1204.68" y="406.46" width="10.49" height="11.24" fill="#1f9f88"/>
<rect x="1214.87" y="406.46" width="30.86" height="11.24" fill="#1fa088"/>
<rect x="1245.43" y="406.46" width="10.49" height="11.24" fill="#1f9a8a"/>
<rect x="1255.62" y="406.46" width="10.49" height="11.24" fill="#20928c"/>
<rect x="1265.81" y="406.46" width="10.49" height="11.24" fill="#26828e"/>
<rect x="1276.00" y="406.46" width="10.49" height="11.24" fill="#33638d"/>
<rect x="1286.19" y="406.46" width="10.49" height="11.24" fill="#482576"/>
<rect x="1296.37" y="406.46" width="10.49" height="11.24" fill="#481668"/>
<rect x="1306.56" y="406.46" width="20.68" height="11.24" fill="#460b5e"/>
<rect x="1326.94" y="406.46" width="117.46" height="11.24" fill="#450559"/>
<rect x="934.70" y="417.39" width="158.21" height="11.24" fill="#46085c"/>
<rect x="1092.61" y="417.39" width="10.49" height="11.24" fill="#460b5e"/>
<rect x="1102.80" y="417.39" width="10.49" height="11.24" fill="#481769"/>
<rect x="1112.99" y="417.39" width="10.49" height="11.24" fill="#472d7b"/>
<rect x="1123.18" y="417.39" width="10.49" height="11.24" fill="#3e4c8a"/>
<rect x="1133.37" y="417.39" width="10.49" height="11.24" fill="#34618d"/>
<rect x="1143.55" y="417.39" width="10.49" height="11.24" fill="#2e6e8e"/>
<rect x="1153.74" y="417.39" width="10.49" height="11.24" fill="#297b8e"/>
<rect x="1163.93" y="417.39" width="10.49" height="11.24" fill="#25858e"/>
<rect x="1174.12" y="417.39" width="10.49" height="11.24" fill="#21908d"/>
<rect x="1184.31" y="417.39" width="10.49" height="11.24" fill="#1f978b"/>
<rect x="1194.49" y="417.39" width="10.49" height="11.24" fill="#1e9b8a"/>
<rect x="1204.68" y="417.39" width="30.86" height="11.24" fill="#1f9e89"/>
<rect x="1235.25" y="417.39" width="10.49" height="11.24" fill="#1e9c89"/>
<rect x="1245.43" y="417.39" width="10.49" height="11.24" fill="#1f948c"/>
<rect x="1255.62" y="417.39" width="10.49" height="11.24" fill="#23888e"/>
<rect x="1265.81" y="417.39" width="10.49" height="11.24" fill="#2e6e8e"/>
<rect x="1276.00" y="417.39" width="10.49" height="11.24" fill="#482979"/>
<rect x="1286.19" y="417.39" width="10.49" height="11.24" fill="#481a6c"/>
<rect x="1296.37" y="417.39" width="20.68" height="11.24" fill="#460b5e"/>
<rect x="1316.75" y="417.39" width="127.65" height="11.24" fill="#450559"/>
<rect x="934.70" y="428.33" width="158.21" height="11.24" fill="#46085c"/>
<rect x="1092.61" y="428.33" width="10.49" height="11.24" fill="#460b5e"/>
<rect x="1102.80" y="428.33" width="10.49" height="11.24" fill="#481769"/>
<rect x="1112.99" y="428.33" width="10.49" height="11.24" fill="#472e7c"/>
<rect x="1123.18" y="428.33" width="10.49" height="11.24" fill="#3d4e8a"/>
<rect x="1133.37" y="428.33" width="10.49" height="11.24" fill="#33628d"/>
<rect x="1143.55" y="428.33" width="10.49" height="11.24" fill="#2e6f8e"/>
<rect x="1153.74" y="428.33" width="10.49" height="11.24" fill="#287c8e"/>
<rect x="1163.93" y="428.33" width="10.49" height="11.24" fill="#24868e"/>
<rect x="1174.12" y="428.33" width="10.49" height="11.24" fill="#21918c"/>
<rect x="1184.31" y="428.33" width="10.49" height="11.24" fill="#1f968b"/>
<rect x="1194.49" y="428.33" width="10.49" height="11.24" fill="#1f9a8a"/>
<rect x="1204.68" y="428.33" width="20.68" height="11.24" fill="#1e9c89"/>
<rect x="1225.06" y="428.33" width="10.49" height="11.24" fill="#1e9b8a"/>
<rect x="1235.25" y="428.33" width="10.49" height="11.24" fill="#1f978b"/>
<rect x="1245.43" y="428.33" width="10.49" height="11.24" fill="#228c8d"/>
<rect x="1255.62" y="428.33" width="10.49" height="11.24" fill="#2a768e"/>
<rect x="1265.81" y="428.33" width="10.49" height="11.24" fill="#424186"/>
<rect x="1276.00" y="428.33" width="10.49" height="11.24" fill="#481d6f"/>
<rect x="1286.19" y="428.33" width="10.49" height="11.24" fill="#470e61"/>
<rect x="1296.37" y="428.33" width="10.49" height="11.24" fill="#460b5e"/>
<rect x="1306.56" y="428.33" width="137.84" height="11.24" fill="#450559"/>
<rect x="934.70" y="439.26" width="158.21" height="11.24" fill="#46085c"/>
<rect x="1092.61" y="439.26" width="10.49" height="11.24" fill="#460b5e"/>
<rect x="1102.80" y="439.26" width="10.49" height="11.24" fill="#481769"/>
<rect x="1112.99" y="439.26" width="10.49" height="11.24" fill="#472f7d"/>
<rect x="1123.18" y="439.26" width="10.49" height="11.24" fill="#3c4f8a"/>
<rect x="1133.37" y="439.26" width="10.49" height="11.24" fill="#33638d"/>
<rect x="1143.55" y="439.26" width="10.49" height="11.24" fill="#2d708e"/>
<rect x="1153.74" y="439.26" width="10.49" height="11.24" fill="#287c8e"/>
<rect x="1163.93" y="439.26" width="10.49" height="11.24" fill="#24868e"/>
<rect x="1174.12" y="439.26" width="10.49" height="11.24" fill="#21918c"/>
<rect x="1184.31" y="439.26" width="10.49" height="11.24" fill="#1f958b"/>
<rect x="1194.49" y="439.26" width="20.68" height="11.24" fill="#1f9a8a"/>
<rect x="1214.87" y="439.26" width="10.49" height="11.24" fill="#1f998a"/>
<rect x="1225.06" y="439.26" width="10.49" height="11.24" fill="#1f968b"/>
<rect x="1235.25" y="439.26" width="10.49" height="11.24" fill="#21908d"/>
<rect x="1245.43" y="439.26" width="10.49" height="11.24" fill="#277e8e"/>
<rect x="1255.62" y="439.26" width="10.49" height="11.24" fill="#3a548c"/>
<rect x="1265.81" y="439.26" width="10.49" height="11.24" fill="#482173"/>
<rect x="1276.00" y="439.26" width="10.49" height="11.24" fill="#471365"/>
<rect x="1286.19" y="439.26" width="10.49" height="11.24" fill="#460b5e"/>
<rect x="1296.37" y="439.26" width="148.03" height="11.24" fill="#450559"/>
<rect x="934.70" y="450.20" width="158.21" height="11.24" fill="#46085c"/>
<rect x="1092.61" y="450.20" width="10.49" height="11.24" fill="#460b5e"/>
<rect x="1102.80" y="450.20" width="10.49" height="11.24" fill="#481769"/>
<rect x="1112.99" y="450.20" width="10.49" height="11.24" fill="#472f7d"/>
<rect x="1123.18" y="450.20" width="10.49" height="11.24" fill="#3b518b"/>
<rect x="1133.37" y="450.20" width="10.49" height="11.24" fill="#33638d"/>
<rect x="1143.55" y="450.20" width="10.49" height="11.24" fill="#2d708e"/>
<rect x="1153.74" y="450.20" width="10.49" height="11.24" fill="#287c8e"/>
<rect x="1163.93" y="450.20" width="10.49" height="11.24" fill="#24868e"/>
<rect x="1174.12" y="450.20" width="10.49" height="11.24" fill="#21918c"/>
<rect x="1184.31" y="450.20" width="10.49" height="11.24" fill="#1f948c"/>
<rect x="1194.49" y="450.20" width="10.49" height="11.24" fill="#1f988b"/>
<rect x="1204.68" y="450.20" width="10.49" height="11.24" fill="#1f978b"/>
<rect x="1214.87" y="450.20" width="10.49" height="11.24" fill="#1f948c"/>
<rect x="1225.06" y="450.20" width="10.49" height="11.24" fill="#21908d"/>
<rect x="1235.25" y="450.20" width="10.49" height="11.24" fill="#25838e"/>
<rect x="1245.43" y="450.20" width="10.49" height="11.24" fill="#33628d"/>
<rect x="1255.62" y="450.20" width="10.49" height="11.24" fill="#482475"/>
<rect x="1265.81" y="450.20" width="10.49" height="11.24" fill="#481668"/>
<rect x="1276.00" y="450.20" width="168.40" height="11.24" fill="#450559"/>
<rect x="934.70" y="461.14" width="158.21" height="11.24" fill="#46085c"/>
<rect x="1092.61" y="461.14" width="10.49" height="11.24" fill="#460b5e"/>
<rect x="1102.80" y="461.14" width="10.49" height="11.24" fill="#481769"/>
<rect x="1112.99" y="461.14" width="10.49" height="11.24" fill="#46307e"/>
<rect x="1123.18" y="461.14" width="10.49" height="11.24" fill="#3b528b"/>
<rect x="1133.37" y="461.14" width="10.49" height="11.24" fill="#33638d"/>
<rect x="1143.55" y="461.14" width="10.49" height="11.24" fill="#2d718e"/>
<rect x="1153.74" y="461.14" width="10.49" height="11.24" fill="#287c8e"/>
<rect x="1163.93" y="461.14" width="10.49" height="11.24" fill="#24868e"/>
<rect x="1174.12" y="461.14" width="10.49" height="11.24" fill="#21908d"/>
<rect x="1184.31" y="461.14" width="10.49" height="11.24" fill="#20938c"/>
<rect x="1194.49" y="461.14" width="10.49" height="11.24" fill="#1f958b"/>
<rect x="1204.68" y="461.14" width="10.49" height="11.24" fill="#20928c"/>
<rect x="1214.87" y="461.14" width="10.49" height="11.24" fill="#218e8d"/>
<rect x="1225.06" y="461.14" width="10.49" height="11.24" fill="#26828e"/>
<rect x="1235.25" y="461.14" width="10.49" height="11.24" fill="#2e6d8e"/>
<rect x="1245.43" y="461.14" width="10.49" height="11.24" fill="#482374"/>
<rect x="1255.62" y="461.14" width="10.49" height="11.24" fill="#481a6c"/>
<rect x="1265.81" y="461.14" width="178.59" height="11.24" fill="#450559"/>
<rect x="934.70" y="472.07" width="158.21" height="11.24" fill="#46085c"/>
<rect x="1092.61" y="472.07" width="10.49" height="11.24" fill="#460b5e"/>
<rect x="1102.80" y="472.07" width="10.49" height="11.24" fill="#48186a"/>
<rect x="1112.99" y="472.07" width="10.49" height="11.24" fill="#46327e"/>
<rect x="1123.18" y="472.07" width="10.49" height="11.24" fill="#3a538b"/>
<rect x="1133.37" y="472.07" width="10.49" height="11.24" fill="#32648e"/>
<rect x="1143.55" y="472.07" width="10.49" height="11.24" fill="#2d718e"/>
<rect x="1153.74" y="472.07" width="10.49" height="11.24" fill="#287c8e"/>
<rect x="1163.93" y="472.07" width="10.49" height="11.24" fill="#24868e"/>
<rect x="1174.12" y="472.07" width="10.49" height="11.24" fill="#218e8d"/>
<rect x="1184.31" y="472.07" width="20.68" height="11.24" fill="#21918c"/>
<rect x="1204.68" y="472.07" width="10.49" height="11.24" fill="#228c8d"/>
<rect x="1214.87" y="472.07" width="10.49" height="11.24" fill="#26818e"/>
<rect x="1225.06" y="472.07" width="10.49" height="11.24" fill="#2f6c8e"/>
<rect x="1235.25" y="472.07" width="10.49" height="11.24" fill="#433d84"/>
<rect x="1245.43" y="472.07" width="10.49" height="11.24" fill="#481c6e"/>
<rect x="1255.62" y="472.07" width="188.78" height="11.24" fill="#450559"/>
<rect x="934.70" y="483.01" width="158.21" height="11.24" fill="#46085c"/>
<rect x="1092.61" y="483.01" width="10.49" height="11.24" fill="#460b5e"/>
<rect x="1102.80" y="483.01" width="10.49" height="11.24" fill="#48186a"/>
<rect x="1112.99" y="483.01" width="10.49" height="11.24" fill="#46327e"/>
<rect x="1123.18" y="483.01" width="10.49" height="11.24" fill="#3a548c"/>
<rect x="1133.37" y="483.01" width="10.49" height="11.24" fill="#33638d"/>
<rect x="1143.55" y="483.01" width="10.49" height="11.24" fill="#2d718e"/>
<rect x="1153.74" y="483.01" width="10.49" height="11.24" fill="#297b8e"/>
<rect x="1163.93" y="483.01" width="10.49" height="11.24" fill="#25858e"/>
<rect x="1174.12" y="483.01" width="10.49" height="11.24" fill="#228b8d"/>
<rect x="1184.31" y="483.01" width="10.49" height="11.24" fill="#228c8d"/>
<rect x="1194.49" y="483.01" width="10.49" height="11.24" fill="#23898e"/>
<rect x="1204.68" y="483.01" width="10.49" height="11.24" fill="#277f8e"/>
<rect x="1214.87" y="483.01" width="10.49" height="11.24" fill="#306a8e"/>
<rect x="1225.06" y="483.01" width="10.49" height="11.24" fill="#443983"/>
<rect x="1235.25" y="483.01" width="10.49" height="11.24" fill="#482071"/>
<rect x="1245.43" y="483.01" width="198.97" height="11.24" fill="#450559"/>
<rect x="934.70" y="493.94" width="158.21" height="11.24" fill="#46085c"/>
<rect x="1092.61" y="493.94" width="10.49" height="11.24" fill="#460b5e"/>
<rect x="1102.80" y="493.94" width="10.49" height="11.24" fill="#48186a"/>
<rect x="1112.99" y="493.94" width="10.49" height="11.24" fill="#46337f"/>
<rect x="1123.18" y="493.94" width="10.49" height="11.24" fill="#3a548c"/>
<rect x="1133.37" y="493.94" width="10.49" height="11.24" fill="#33638d"/>
<rect x="1143.55" y="493.94" width="10.49" height="11.24" fill="#2d708e"/>
<rect x="1153.74" y="493.94" width="10.49" height="11.24" fill="#297a8e"/>
<rect x="1163.93" y="493.94" width="10.49" height="11.24" fill="#26828e"/>
<rect x="1174.12" y="493.94" width="10.49" height="11.24" fill="#24868e"/>
<rect x="1184.31" y="493.94" width="10.49" height="11.24" fill="#25848e"/>
<rect x="1194.49" y="493.94" width="10.49" height="11.24" fill="#287c8e"/>
<rect x="1204.68" y="493.94" width="10.49" height="11.24" fill="#31678e"/>
<rect x="1214.87" y="493.94" width="10.49" height="11.24" fill="#453581"/>
<rect x="1225.06" y="493.94" width="10.49" height="11.24" fill="#481f70"/>
<rect x="1235.25" y="493.94" width="209.15" height="11.24" fill="#450559"/>
<rect x="934.70" y="504.88" width="158.21" height="11.24" fill="#46085c"/>
<rect x="1092.61" y="504.88" width="10.49" height="11.24" fill="#460b5e"/>
<rect x="1102.80" y="504.88" width="10.49" height="11.24" fill="#471063"/>
<rect x="1112.99" y="504.88" width="10.49" height="11.24" fill="#482173"/>
<rect x="1123.18" y="504.88" width="10.49" height="11.24" fill="#453882"/>
<rect x="1133.37" y="504.88" width="10.49" height="11.24" fill="#414287"/>
<rect x="1143.55" y="504.88" width="10.49" height="11.24" fill="#3e4c8a"/>
<rect x="1153.74" y="504.88" width="10.49" height="11.24" fill="#3b528b"/>
<rect x="1163.93" y="504.88" width="10.49" height="11.24" fill="#38588c"/>
<rect x="1174.12" y="504.88" width="10.49" height="11.24" fill="#39568c"/>
<rect x="1184.31" y="504.88" width="10.49" height="11.24" fill="#3b518b"/>
<rect x="1194.49" y="504.88" width="10.49" height="11.24" fill="#414287"/>
<rect x="1204.68" y="504.88" width="10.49" height="11.24" fill="#482071"/>
<rect x="1214.87" y="504.88" width="10.49" height="11.24" fill="#481f70"/>
<rect x="1225.06" y="504.88" width="219.34" height="11.24" fill="#450559"/>
<rect x="934.70" y="515.82" width="158.21" height="11.24" fill="#46085c"/>
<rect x="1092.61" y="515.82" width="10.49" height="11.24" fill="#460b5e"/>
<rect x="1102.80" y="515.82" width="10.49" height="11.24" fill="#471063"/>
<rect x="1112.99" y="515.82" width="10.49" height="11.24" fill="#482173"/>
<rect x="1123.18" y="515.82" width="10.49" height="11.24" fill="#453781"/>
<rect x="1133.37" y="515.82" width="10.49" height="11.24" fill="#424086"/>
<rect x="1143.55" y="515.82" width="10.49" height="11.24" fill="#3f4889"/>
<rect x="1153.74" y="515.82" width="10.49" height="11.24" fill="#3d4e8a"/>
<rect x="1163.93" y="515.82" width="10.49" height="11.24" fill="#3c508b"/>
<rect x="1174.12" y="515.82" width="10.49" height="11.24" fill="#3e4a89"/>
<rect x="1184.31" y="515.82" width="10.49" height="11.24" fill="#443b84"/>
<rect x="1194.49" y="515.82" width="10.49" height="11.24" fill="#481a6c"/>
<rect x="1204.68" y="515.82" width="239.72" height="11.24" fill="#450559"/>
<rect x="934.70" y="526.75" width="158.21" height="11.24" fill="#46085c"/>
<rect x="1092.61" y="526.75" width="10.49" height="11.24" fill="#460b5e"/>
<rect x="1102.80" y="526.75" width="10.49" height="11.24" fill="#470e61"/>
<rect x="1112.99" y="526.75" width="10.49" height="11.24" fill="#482071"/>
<rect x="1123.18" y="526.75" width="10.49" height="11.24" fill="#463480"/>
<rect x="1133.37" y="526.75" width="10.49" height="11.24" fill="#433d84"/>
<rect x="1143.55" y="526.75" width="10.49" height="11.24" fill="#414487"/>
<rect x="1153.74" y="526.75" width="10.49" height="11.24" fill="#404688"/>
<rect x="1163.93" y="526.75" width="10.49" height="11.24" fill="#424186"/>
<rect x="1174.12" y="526.75" width="10.49" height="11.24" fill="#46327e"/>
<rect x="1184.31" y="526.75" width="10.49" height="11.24" fill="#460b5e"/>
<rect x="1194.49" y="526.75" width="249.91" height="11.24" fill="#450559"/>
<rect x="934.70" y="537.69" width="158.21" height="11.24" fill="#46085c"/>
<rect x="1092.61" y="537.69" width="10.49" height="11.24" fill="#460b5e"/>
<rect x="1102.80" y="537.69" width="10.49" height="11.24" fill="#470e61"/>
<rect x="1112.99" y="537.69" width="10.49" height="11.24" fill="#481d6f"/>
<rect x="1123.18" y="537.69" width="10.49" height="11.24" fill="#46307e"/>
<rect x="1133.37" y="537.69" width="10.49" height="11.24" fill="#453882"/>
<rect x="1143.55" y="537.69" width="10.49" height="11.24" fill="#443a83"/>
<rect x="1153.74" y="537.69" width="10.49" height="11.24" fill="#453581"/>
<rect x="1163.93" y="537.69" width="10.49" height="11.24" fill="#482576"/>
<rect x="1174.12" y="537.69" width="10.49" height="11.24" fill="#482173"/>
<rect x="1184.31" y="537.69" width="260.09" height="11.24" fill="#450559"/>
<rect x="934.70" y="548.62" width="158.21" height="11.24" fill="#46085c"/>
<rect x="1092.61" y="548.62" width="10.49" height="11.24" fill="#460b5e"/>
<rect x="1102.80" y="548.62" width="10.49" height="11.24" fill="#470d60"/>
<rect x="1112.99" y="548.62" width="10.49" height="11.24" fill="#481b6d"/>
<rect x="1123.18" y="548.62" width="10.49" height="11.24" fill="#472a7a"/>
<rect x="1133.37" y="548.62" width="10.49" height="11.24" fill="#472d7b"/>
<rect x="1143.55" y="548.62" width="10.49" height="11.24" fill="#482979"/>
<rect x="1153.74" y="548.62" width="10.49" height="11.24" fill="#481668"/>
<rect x="1163.93" y="548.62" width="10.49" height="11.24" fill="#481d6f"/>
<rect x="1174.12" y="548.62" width="270.28" height="11.24" fill="#450559"/>
<rect x="934.70" y="559.56" width="158.21" height="11.24" fill="#46085c"/>
<rect x="1092.61" y="559.56" width="20.68" height="11.24" fill="#460b5e"/>
<rect x="1112.99" y="559.56" width="10.49" height="11.24" fill="#481668"/>
<rect x="1123.18" y="559.56" width="10.49" height="11.24" fill="#481f70"/>
<rect x="1133.37" y="559.56" width="10.49" height="11.24" fill="#48186a"/>
<rect x="1143.55" y="559.56" width="10.49" height="11.24" fill="#481c6e"/>
<rect x="1153.74" y="559.56" width="290.66" height="11.24" fill="#450559"/>
<rect x="934.70" y="570.50" width="158.21" height="11.24" fill="#46085c"/>
<rect x="1092.61" y="570.50" width="41.05" height="11.24" fill="#460b5e"/>
<rect x="1133.37" y="570.50" width="10.49" height="11.24" fill="#481769"/>
<rect x="1143.55" y="570.50" width="300.85" height="11.24" fill="#450559"/>
<rect x="934.70" y="581.43" width="158.21" height="5.77" fill="#46085c"/>
<rect x="1092.61" y="581.43" width="10.49" height="5.77" fill="#470d60"/>
<rect x="1102.80" y="581.43" width="10.49" height="5.77" fill="#470e61"/>
<rect x="1112.99" y="581.43" width="331.41" height="5.77" fill="#450559"/>
</g>
<clipPath id="clipb"><rect x="934.7" y="40.1" width="509.4" height="546.8"/></clipPath>
<g clip-path="url(#clipb)"><path d="M1096.8,40.1 V586.9 L1096.8,586.9 L1097.9,586.9 L1098.9,586.9 L1099.9,586.8 L1100.9,586.8 L1102.0,586.7 L1103.0,586.6 L1104.0,586.4 L1105.0,586.3 L1106.1,586.1 L1107.1,585.9 L1108.1,585.7 L1109.1,585.4 L1110.2,585.2 L1111.2,584.9 L1112.2,584.6 L1113.3,584.3 L1114.3,583.9 L1115.3,583.6 L1116.3,583.2 L1117.4,582.9 L1118.4,582.5 L1119.4,582.0 L1120.4,581.6 L1121.5,581.2 L1122.5,580.7 L1123.5,580.2 L1124.5,579.8 L1125.6,579.3 L1126.6,578.8 L1127.6,578.2 L1128.6,577.7 L1129.7,577.2 L1130.7,576.6 L1131.7,576.1 L1132.7,575.5 L1133.8,574.9 L1134.8,574.3 L1135.8,573.7 L1136.8,573.1 L1137.8,572.5 L1141.0,570.6 L1144.2,568.5 L1147.3,566.5 L1150.5,564.3 L1153.6,562.1 L1156.8,559.8 L1159.9,557.5 L1163.1,555.2 L1166.2,552.8 L1169.4,550.3 L1172.5,547.9 L1175.7,545.3 L1178.8,542.8 L1182.0,540.2 L1185.2,537.6 L1188.3,535.0 L1191.5,532.4 L1194.6,529.7 L1197.8,527.0 L1200.9,524.3 L1204.1,521.6 L1207.2,518.8 L1210.4,516.0 L1213.5,513.2 L1216.7,510.4 L1219.8,507.6 L1223.0,504.8 L1226.2,502.0 L1229.3,499.1 L1232.5,496.2 L1235.6,493.3 L1238.8,490.5 L1241.9,487.6 L1245.1,484.6 L1248.2,481.7 L1251.4,478.8 L1254.5,475.9 L1257.7,472.9 L1260.9,469.9 L1264.0,467.0 L1267.2,464.0 L1270.3,461.0 L1273.5,458.1 L1276.6,455.1 L1279.8,452.1 L1282.9,449.1 L1286.1,446.1 L1289.2,443.0 L1292.4,440.0 L1295.5,437.0 L1298.7,434.0 L1301.9,430.9 L1305.0,427.9 L1308.2,424.8 L1311.3,421.8 L1314.5,418.7 L1317.6,415.7 L1320.8,412.6 L1323.9,409.6 L1327.1,406.5 L1330.2,403.4 L1333.4,400.3 L1336.6,397.3 L1339.7,394.2 L1342.9,391.1 L1346.0,388.0 L1349.2,384.9 L1352.3,381.8 L1355.5,378.7 L1358.6,375.6 L1361.8,372.5 L1364.9,369.4 L1368.1,366.3 L1371.2,363.2 L1374.4,360.1 L1377.6,357.0 L1380.7,353.9 L1383.9,350.8 L1387.0,347.6 L1390.2,344.5 L1393.3,341.4 L1396.5,338.3 L1399.6,335.1 L1402.8,332.0 L1405.9,328.9 L1409.1,325.8 L1412.3,322.6 L1415.4,319.5 L1418.6,316.3 L1421.7,313.2 L1424.9,310.1 L1428.0,306.9 L1431.2,303.8 L1434.3,300.6 L1437.5,297.5 L1440.6,294.3 L1443.8,291.2 L1446.9,288.0 L1450.1,284.9" fill="none" stroke="#fff" stroke-width="8.2" stroke-linejoin="round"/></g>
<path d="M934.7,586.9 v-9.5 M934.7,586.9 h9.5 M1062.0,586.9 v-9.5 M934.7,450.2 h9.5 M1189.4,586.9 v-9.5 M934.7,313.5 h9.5 M1316.8,586.9 v-9.5 M934.7,176.8 h9.5 M1444.1,586.9 v-9.5 M934.7,40.1 h9.5" stroke="#000" stroke-width="2.8" fill="none"/>
<path d="M960.2,586.9 v-5.2 M934.7,559.6 h5.2 M985.6,586.9 v-5.2 M934.7,532.2 h5.2 M1011.1,586.9 v-5.2 M934.7,504.9 h5.2 M1036.6,586.9 v-5.2 M934.7,477.5 h5.2 M1087.5,586.9 v-5.2 M934.7,422.9 h5.2 M1113.0,586.9 v-5.2 M934.7,395.5 h5.2 M1138.5,586.9 v-5.2 M934.7,368.2 h5.2 M1163.9,586.9 v-5.2 M934.7,340.8 h5.2 M1214.9,586.9 v-5.2 M934.7,286.2 h5.2 M1240.3,586.9 v-5.2 M934.7,258.8 h5.2 M1265.8,586.9 v-5.2 M934.7,231.5 h5.2 M1291.3,586.9 v-5.2 M934.7,204.1 h5.2 M1342.2,586.9 v-5.2 M934.7,149.5 h5.2 M1367.7,586.9 v-5.2 M934.7,122.1 h5.2 M1393.2,586.9 v-5.2 M934.7,94.8 h5.2 M1418.6,586.9 v-5.2 M934.7,67.4 h5.2" stroke="#000" stroke-width="2.2" fill="none"/>
<rect x="934.7" y="40.1" width="509.4" height="546.8" fill="none" stroke="#000" stroke-width="3.2"/>
<text transform="translate(936.7,623.0) scale(1,1.045)" font-size="29.5" text-anchor="middle">0.0</text>
<text transform="translate(923.0,598.4) scale(1,1.045)" font-size="29.5" text-anchor="end">1.0</text>
<text transform="translate(1064.0,623.0) scale(1,1.045)" font-size="29.5" text-anchor="middle">0.5</text>
<text transform="translate(923.0,461.7) scale(1,1.045)" font-size="29.5" text-anchor="end">1.5</text>
<text transform="translate(1191.4,623.0) scale(1,1.045)" font-size="29.5" text-anchor="middle">1.0</text>
<text transform="translate(923.0,325.0) scale(1,1.045)" font-size="29.5" text-anchor="end">2.0</text>
<text transform="translate(1318.8,623.0) scale(1,1.045)" font-size="29.5" text-anchor="middle">1.5</text>
<text transform="translate(923.0,188.3) scale(1,1.045)" font-size="29.5" text-anchor="end">2.5</text>
<text transform="translate(1446.1,623.0) scale(1,1.045)" font-size="29.5" text-anchor="middle">2.0</text>
<text transform="translate(923.0,51.6) scale(1,1.045)" font-size="29.5" text-anchor="end">3.0</text>
<text x="1190.6" y="24.8" font-size="29.5" text-anchor="middle">Std(|<tspan>Δ</tspan><tspan font-size="17" dy="5.3">BCS</tspan><tspan dy="-5.3" font-size="1">&#8203;</tspan>|)/<tspan>Δ</tspan><tspan font-size="17" dy="5.3">init</tspan><tspan dy="-5.3" font-size="1">&#8203;</tspan></text>
<text x="1197.3" y="659.8" font-size="29.5" text-anchor="middle"><tspan font-style="italic">χN</tspan><tspan font-size="17" dy="5.3">eff</tspan><tspan dy="-5.3" font-size="1">&#8203;</tspan>/<tspan font-style="italic">E</tspan><tspan font-size="17" dy="5.3">W</tspan><tspan dy="-5.3" font-size="1">&#8203;</tspan></text>
<text transform="translate(846.1,315.5) rotate(-90)" font-size="29.5" text-anchor="middle"><tspan font-style="italic">δ</tspan><tspan font-size="17" dy="5.3">s, init</tspan><tspan dy="-5.3" font-size="1">&#8203;</tspan><tspan dx="4.2">/</tspan><tspan font-style="italic">E</tspan><tspan font-size="17" dy="5.3">W</tspan><tspan dy="-5.3" font-size="1">&#8203;</tspan></text>
<text class="rom" x="1007.4" y="313.6" font-size="52" text-anchor="middle" stroke="#fff" stroke-width="1.1" stroke-linejoin="miter">I</text>
<text class="rom" x="1279.1" y="244.8" font-size="52" text-anchor="middle" stroke="#fff" stroke-width="1.1" stroke-linejoin="miter" letter-spacing="0.3">III</text>
<text class="rom" x="1359.9" y="518.8" font-size="52" text-anchor="middle" stroke="#fff" stroke-width="1.1" stroke-linejoin="miter" letter-spacing="0.3">II</text>
<defs><linearGradient id="vir" x1="0" y1="1" x2="0" y2="0">
<stop offset="0.0000" stop-color="#440154"/>
<stop offset="0.0312" stop-color="#470d60"/>
<stop offset="0.0625" stop-color="#48186a"/>
<stop offset="0.0938" stop-color="#482374"/>
<stop offset="0.1250" stop-color="#472d7b"/>
<stop offset="0.1562" stop-color="#453781"/>
<stop offset="0.1875" stop-color="#424086"/>
<stop offset="0.2188" stop-color="#3e4989"/>
<stop offset="0.2500" stop-color="#3b528b"/>
<stop offset="0.2812" stop-color="#375b8d"/>
<stop offset="0.3125" stop-color="#33638d"/>
<stop offset="0.3438" stop-color="#2f6b8e"/>
<stop offset="0.3750" stop-color="#2c728e"/>
<stop offset="0.4062" stop-color="#297a8e"/>
<stop offset="0.4375" stop-color="#26828e"/>
<stop offset="0.4688" stop-color="#23898e"/>
<stop offset="0.5000" stop-color="#21918c"/>
<stop offset="0.5312" stop-color="#1f988b"/>
<stop offset="0.5625" stop-color="#1fa088"/>
<stop offset="0.5938" stop-color="#22a785"/>
<stop offset="0.6250" stop-color="#28ae80"/>
<stop offset="0.6562" stop-color="#32b67a"/>
<stop offset="0.6875" stop-color="#3fbc73"/>
<stop offset="0.7188" stop-color="#4ec36b"/>
<stop offset="0.7500" stop-color="#5ec962"/>
<stop offset="0.7812" stop-color="#70cf57"/>
<stop offset="0.8125" stop-color="#84d44b"/>
<stop offset="0.8438" stop-color="#98d83e"/>
<stop offset="0.8750" stop-color="#addc30"/>
<stop offset="0.9062" stop-color="#c2df23"/>
<stop offset="0.9375" stop-color="#d8e219"/>
<stop offset="0.9688" stop-color="#ece51b"/>
<stop offset="1.0000" stop-color="#fde725"/>
</linearGradient></defs>
<rect x="1481.7" y="40.1" width="25.8" height="546.8" fill="url(#vir)" stroke="#000" stroke-width="3.2"/>
<text transform="translate(1525.3,598.0) scale(1,1.045)" font-size="29.5" text-anchor="start">0.00</text>
<text transform="translate(1525.3,506.6) scale(1,1.045)" font-size="29.5" text-anchor="start">0.05</text>
<text transform="translate(1525.3,415.3) scale(1,1.045)" font-size="29.5" text-anchor="start">0.10</text>
<text transform="translate(1525.3,323.9) scale(1,1.045)" font-size="29.5" text-anchor="start">0.15</text>
<text transform="translate(1525.3,232.6) scale(1,1.045)" font-size="29.5" text-anchor="start">0.20</text>
<text transform="translate(1525.3,141.3) scale(1,1.045)" font-size="29.5" text-anchor="start">0.25</text>
<text transform="translate(1525.3,49.9) scale(1,1.045)" font-size="29.5" text-anchor="start">0.30</text>
<path d="M1507.5,586.9 h9 M1507.5,495.8 h9 M1507.5,404.6 h9 M1507.5,313.5 h9 M1507.5,222.4 h9 M1507.5,131.2 h9 M1507.5,40.1 h9" stroke="#000" stroke-width="2.8" fill="none"/>
</g>
</svg></body></html>
